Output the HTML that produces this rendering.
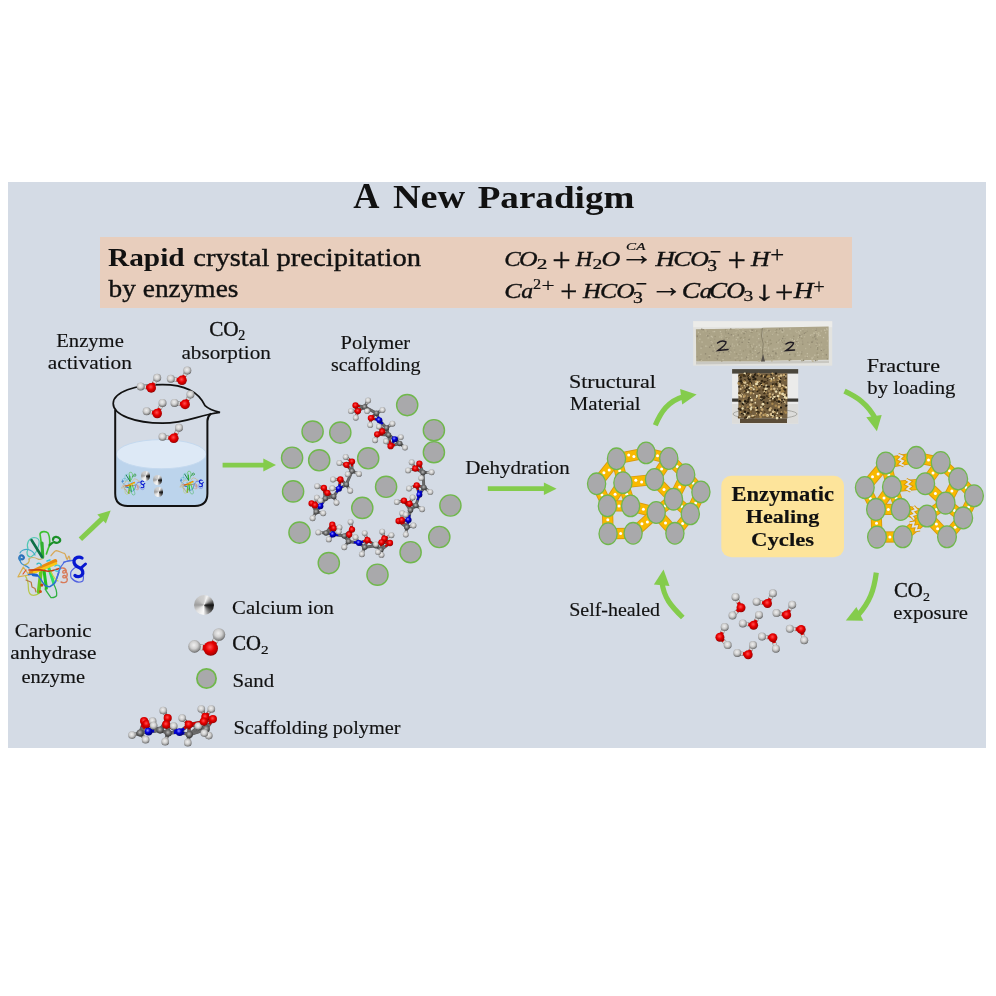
<!DOCTYPE html><html><head><meta charset="utf-8"><style>
html,body{margin:0;padding:0;background:#fff;width:996px;height:996px;overflow:hidden;position:relative}
svg{display:block;position:absolute;left:0;top:0;will-change:transform}
text{font-family:"Liberation Serif", serif;fill:#111}
.ca{position:absolute;border-radius:50%;background:conic-gradient(from 0deg,#d0d0d0 0deg,#f4f4f4 20deg,#9a9a9a 55deg,#121212 90deg,#3a3a3a 120deg,#8a8a8a 150deg,#fbfbfb 185deg,#e0e0e0 230deg,#9c9c9c 270deg,#c8c8c8 320deg,#d0d0d0 360deg)}
</style></head><body>
<svg width="996" height="996" viewBox="0 0 996 996">
<defs>
<radialGradient id="gH" cx="0.45" cy="0.4" r="0.6"><stop offset="0" stop-color="#f0f0f0"/><stop offset="0.5" stop-color="#cfcfcf"/><stop offset="0.86" stop-color="#8e8e8e"/><stop offset="1" stop-color="#5e5e5e"/></radialGradient>
<radialGradient id="gO" cx="0.45" cy="0.4" r="0.6"><stop offset="0" stop-color="#ff5050"/><stop offset="0.5" stop-color="#e80000"/><stop offset="0.88" stop-color="#b00000"/><stop offset="1" stop-color="#7a0000"/></radialGradient>
<radialGradient id="gC" cx="0.45" cy="0.4" r="0.6"><stop offset="0" stop-color="#b8b8b8"/><stop offset="0.55" stop-color="#6a6a6a"/><stop offset="1" stop-color="#303030"/></radialGradient>
<radialGradient id="gN" cx="0.38" cy="0.35" r="0.65"><stop offset="0" stop-color="#9090ff"/><stop offset="0.45" stop-color="#0000e0"/><stop offset="1" stop-color="#000070"/></radialGradient>
</defs>

<rect x="8" y="182" width="978" height="566" fill="#d4dbe5"/>
<rect x="100" y="237" width="752" height="71" fill="#e8cebd"/>
<line x1="222.6" y1="465.1" x2="264.3" y2="465.1" stroke="#84cc4c" stroke-width="4.6"/>
<polygon points="276.0,465.1 263.3,471.6 263.3,458.6" fill="#84cc4c"/>
<line x1="487.8" y1="488.7" x2="544.9" y2="488.7" stroke="#84cc4c" stroke-width="4.7"/>
<polygon points="556.6,488.7 543.9,494.9 543.9,482.4" fill="#84cc4c"/>
<line x1="80.4" y1="539.3" x2="102.4" y2="518.4" stroke="#84cc4c" stroke-width="5"/>
<polygon points="110.7,510.5 105.9,523.6 97.3,514.6" fill="#84cc4c"/>
<path d="M655.3,425.3 C661,412 668,401 684,396.5" fill="none" stroke="#84cc4c" stroke-width="5.2"/>
<polygon points="680.1,389.1 696.6,394.4 682.2,404.6" fill="#84cc4c"/>
<path d="M844.5,391.2 C857,397 868,404 875.5,419" fill="none" stroke="#84cc4c" stroke-width="5.2"/>
<polygon points="866.3,417.3 881.7,414.9 876.9,431.2" fill="#84cc4c"/>
<path d="M682.8,617.5 C671,606 664,598 662,582.5" fill="none" stroke="#84cc4c" stroke-width="5.2"/>
<polygon points="653.9,584.4 669.5,585.9 663.5,569.6" fill="#84cc4c"/>
<path d="M876.3,572.6 C874,590 870,602 857.7,615.5" fill="none" stroke="#84cc4c" stroke-width="5.2"/>
<polygon points="856.4,606.9 863.3,620.7 845.8,620.4" fill="#84cc4c"/>
<path d="M116.2,454 L116.2,494 Q116.2,505 127.2,505 L196.4,505 Q206.4,505 206.4,494 L206.4,454 Z" fill="#bcd4ec"/>
<ellipse cx="161.3" cy="454.2" rx="45" ry="14.6" fill="#dde9f6" stroke="#c4d9ef" stroke-width="1"/>
<path d="M115.2,410 L115.2,493.5 Q115.2,505.9 127.6,505.9 L195,505.9 Q207.4,505.9 207.4,493.5 L207.4,421 Q207.6,416.5 211,413.6" fill="none" stroke="#111" stroke-width="2"/>
<path d="M220,412.3 C212,410.5 208,408.5 205,405.7 C198,390 182,384.6 162.5,384.6 C135,384.6 113.2,392 113.2,403.5 C113.2,415 135,423.2 162.5,423.2 C187,423.2 198,415 220,412.3 Z" fill="none" stroke="#111" stroke-width="1.7" stroke-linejoin="miter"/>
<line x1="151.2" y1="387.9" x2="140.7" y2="386.4" stroke="#8a8a8a" stroke-width="4.26"/>
<line x1="151.2" y1="387.9" x2="157.2" y2="377.8" stroke="#8a8a8a" stroke-width="4.26"/>
<line x1="151.2" y1="387.9" x2="145.9" y2="387.1" stroke="#e00000" stroke-width="3.26"/>
<line x1="145.9" y1="387.1" x2="140.7" y2="386.4" stroke="#d8d8d8" stroke-width="3.26"/>
<line x1="151.2" y1="387.9" x2="154.2" y2="382.9" stroke="#e00000" stroke-width="3.26"/>
<line x1="154.2" y1="382.9" x2="157.2" y2="377.8" stroke="#d8d8d8" stroke-width="3.26"/>
<circle cx="140.7" cy="386.4" r="4.0" fill="url(#gH)"/>
<circle cx="157.2" cy="377.8" r="4.0" fill="url(#gH)"/>
<circle cx="151.2" cy="387.9" r="4.8" fill="url(#gO)"/>
<line x1="182.0" y1="380.3" x2="170.8" y2="378.8" stroke="#8a8a8a" stroke-width="4.26"/>
<line x1="182.0" y1="380.3" x2="187.3" y2="370.5" stroke="#8a8a8a" stroke-width="4.26"/>
<line x1="182.0" y1="380.3" x2="176.4" y2="379.6" stroke="#e00000" stroke-width="3.26"/>
<line x1="176.4" y1="379.6" x2="170.8" y2="378.8" stroke="#d8d8d8" stroke-width="3.26"/>
<line x1="182.0" y1="380.3" x2="184.7" y2="375.4" stroke="#e00000" stroke-width="3.26"/>
<line x1="184.7" y1="375.4" x2="187.3" y2="370.5" stroke="#d8d8d8" stroke-width="3.26"/>
<circle cx="170.8" cy="378.8" r="4.0" fill="url(#gH)"/>
<circle cx="187.3" cy="370.5" r="4.0" fill="url(#gH)"/>
<circle cx="182.0" cy="380.3" r="4.8" fill="url(#gO)"/>
<line x1="157.2" y1="413.5" x2="146.7" y2="411.2" stroke="#8a8a8a" stroke-width="4.26"/>
<line x1="157.2" y1="413.5" x2="162.5" y2="402.9" stroke="#8a8a8a" stroke-width="4.26"/>
<line x1="157.2" y1="413.5" x2="151.9" y2="412.4" stroke="#e00000" stroke-width="3.26"/>
<line x1="151.9" y1="412.4" x2="146.7" y2="411.2" stroke="#d8d8d8" stroke-width="3.26"/>
<line x1="157.2" y1="413.5" x2="159.8" y2="408.2" stroke="#e00000" stroke-width="3.26"/>
<line x1="159.8" y1="408.2" x2="162.5" y2="402.9" stroke="#d8d8d8" stroke-width="3.26"/>
<circle cx="146.7" cy="411.2" r="4.0" fill="url(#gH)"/>
<circle cx="162.5" cy="402.9" r="4.0" fill="url(#gH)"/>
<circle cx="157.2" cy="413.5" r="4.8" fill="url(#gO)"/>
<line x1="185.1" y1="404.4" x2="174.5" y2="402.9" stroke="#8a8a8a" stroke-width="4.26"/>
<line x1="185.1" y1="404.4" x2="190.4" y2="394.6" stroke="#8a8a8a" stroke-width="4.26"/>
<line x1="185.1" y1="404.4" x2="179.8" y2="403.6" stroke="#e00000" stroke-width="3.26"/>
<line x1="179.8" y1="403.6" x2="174.5" y2="402.9" stroke="#d8d8d8" stroke-width="3.26"/>
<line x1="185.1" y1="404.4" x2="187.8" y2="399.5" stroke="#e00000" stroke-width="3.26"/>
<line x1="187.8" y1="399.5" x2="190.4" y2="394.6" stroke="#d8d8d8" stroke-width="3.26"/>
<circle cx="174.5" cy="402.9" r="4.0" fill="url(#gH)"/>
<circle cx="190.4" cy="394.6" r="4.0" fill="url(#gH)"/>
<circle cx="185.1" cy="404.4" r="4.8" fill="url(#gO)"/>
<line x1="173.8" y1="438.3" x2="162.5" y2="436.8" stroke="#8a8a8a" stroke-width="4.26"/>
<line x1="173.8" y1="438.3" x2="179.0" y2="427.8" stroke="#8a8a8a" stroke-width="4.26"/>
<line x1="173.8" y1="438.3" x2="168.2" y2="437.6" stroke="#e00000" stroke-width="3.26"/>
<line x1="168.2" y1="437.6" x2="162.5" y2="436.8" stroke="#d8d8d8" stroke-width="3.26"/>
<line x1="173.8" y1="438.3" x2="176.4" y2="433.1" stroke="#e00000" stroke-width="3.26"/>
<line x1="176.4" y1="433.1" x2="179.0" y2="427.8" stroke="#d8d8d8" stroke-width="3.26"/>
<circle cx="162.5" cy="436.8" r="4.0" fill="url(#gH)"/>
<circle cx="179.0" cy="427.8" r="4.0" fill="url(#gH)"/>
<circle cx="173.8" cy="438.3" r="4.8" fill="url(#gO)"/>
<line x1="741.0" y1="607.7" x2="735.5" y2="596.9" stroke="#8a8a8a" stroke-width="4.06"/>
<line x1="741.0" y1="607.7" x2="732.5" y2="615.5" stroke="#8a8a8a" stroke-width="4.06"/>
<line x1="741.0" y1="607.7" x2="738.2" y2="602.3" stroke="#e00000" stroke-width="3.06"/>
<line x1="738.2" y1="602.3" x2="735.5" y2="596.9" stroke="#d8d8d8" stroke-width="3.06"/>
<line x1="741.0" y1="607.7" x2="736.8" y2="611.6" stroke="#e00000" stroke-width="3.06"/>
<line x1="736.8" y1="611.6" x2="732.5" y2="615.5" stroke="#d8d8d8" stroke-width="3.06"/>
<circle cx="735.5" cy="596.9" r="4.0" fill="url(#gH)"/>
<circle cx="732.5" cy="615.5" r="4.0" fill="url(#gH)"/>
<circle cx="741.0" cy="607.7" r="4.5" fill="url(#gO)"/>
<line x1="767.5" y1="603.5" x2="756.6" y2="601.7" stroke="#8a8a8a" stroke-width="4.06"/>
<line x1="767.5" y1="603.5" x2="772.9" y2="593.3" stroke="#8a8a8a" stroke-width="4.06"/>
<line x1="767.5" y1="603.5" x2="762.0" y2="602.6" stroke="#e00000" stroke-width="3.06"/>
<line x1="762.0" y1="602.6" x2="756.6" y2="601.7" stroke="#d8d8d8" stroke-width="3.06"/>
<line x1="767.5" y1="603.5" x2="770.2" y2="598.4" stroke="#e00000" stroke-width="3.06"/>
<line x1="770.2" y1="598.4" x2="772.9" y2="593.3" stroke="#d8d8d8" stroke-width="3.06"/>
<circle cx="756.6" cy="601.7" r="4.0" fill="url(#gH)"/>
<circle cx="772.9" cy="593.3" r="4.0" fill="url(#gH)"/>
<circle cx="767.5" cy="603.5" r="4.5" fill="url(#gO)"/>
<line x1="786.7" y1="614.9" x2="776.5" y2="613.1" stroke="#8a8a8a" stroke-width="4.06"/>
<line x1="786.7" y1="614.9" x2="792.2" y2="604.7" stroke="#8a8a8a" stroke-width="4.06"/>
<line x1="786.7" y1="614.9" x2="781.6" y2="614.0" stroke="#e00000" stroke-width="3.06"/>
<line x1="781.6" y1="614.0" x2="776.5" y2="613.1" stroke="#d8d8d8" stroke-width="3.06"/>
<line x1="786.7" y1="614.9" x2="789.5" y2="609.8" stroke="#e00000" stroke-width="3.06"/>
<line x1="789.5" y1="609.8" x2="792.2" y2="604.7" stroke="#d8d8d8" stroke-width="3.06"/>
<circle cx="776.5" cy="613.1" r="4.0" fill="url(#gH)"/>
<circle cx="792.2" cy="604.7" r="4.0" fill="url(#gH)"/>
<circle cx="786.7" cy="614.9" r="4.5" fill="url(#gO)"/>
<line x1="753.6" y1="625.2" x2="742.8" y2="623.4" stroke="#8a8a8a" stroke-width="4.06"/>
<line x1="753.6" y1="625.2" x2="759.0" y2="614.9" stroke="#8a8a8a" stroke-width="4.06"/>
<line x1="753.6" y1="625.2" x2="748.2" y2="624.3" stroke="#e00000" stroke-width="3.06"/>
<line x1="748.2" y1="624.3" x2="742.8" y2="623.4" stroke="#d8d8d8" stroke-width="3.06"/>
<line x1="753.6" y1="625.2" x2="756.3" y2="620.0" stroke="#e00000" stroke-width="3.06"/>
<line x1="756.3" y1="620.0" x2="759.0" y2="614.9" stroke="#d8d8d8" stroke-width="3.06"/>
<circle cx="742.8" cy="623.4" r="4.0" fill="url(#gH)"/>
<circle cx="759.0" cy="614.9" r="4.0" fill="url(#gH)"/>
<circle cx="753.6" cy="625.2" r="4.5" fill="url(#gO)"/>
<line x1="719.9" y1="637.2" x2="724.7" y2="627.0" stroke="#8a8a8a" stroke-width="4.06"/>
<line x1="719.9" y1="637.2" x2="727.7" y2="645.1" stroke="#8a8a8a" stroke-width="4.06"/>
<line x1="719.9" y1="637.2" x2="722.3" y2="632.1" stroke="#e00000" stroke-width="3.06"/>
<line x1="722.3" y1="632.1" x2="724.7" y2="627.0" stroke="#d8d8d8" stroke-width="3.06"/>
<line x1="719.9" y1="637.2" x2="723.8" y2="641.2" stroke="#e00000" stroke-width="3.06"/>
<line x1="723.8" y1="641.2" x2="727.7" y2="645.1" stroke="#d8d8d8" stroke-width="3.06"/>
<circle cx="724.7" cy="627.0" r="4.0" fill="url(#gH)"/>
<circle cx="727.7" cy="645.1" r="4.0" fill="url(#gH)"/>
<circle cx="719.9" cy="637.2" r="4.5" fill="url(#gO)"/>
<line x1="801.2" y1="629.4" x2="789.8" y2="628.8" stroke="#8a8a8a" stroke-width="4.06"/>
<line x1="801.2" y1="629.4" x2="804.2" y2="640.2" stroke="#8a8a8a" stroke-width="4.06"/>
<line x1="801.2" y1="629.4" x2="795.5" y2="629.1" stroke="#e00000" stroke-width="3.06"/>
<line x1="795.5" y1="629.1" x2="789.8" y2="628.8" stroke="#d8d8d8" stroke-width="3.06"/>
<line x1="801.2" y1="629.4" x2="802.7" y2="634.8" stroke="#e00000" stroke-width="3.06"/>
<line x1="802.7" y1="634.8" x2="804.2" y2="640.2" stroke="#d8d8d8" stroke-width="3.06"/>
<circle cx="789.8" cy="628.8" r="4.0" fill="url(#gH)"/>
<circle cx="804.2" cy="640.2" r="4.0" fill="url(#gH)"/>
<circle cx="801.2" cy="629.4" r="4.5" fill="url(#gO)"/>
<line x1="772.9" y1="637.8" x2="762.0" y2="636.6" stroke="#8a8a8a" stroke-width="4.06"/>
<line x1="772.9" y1="637.8" x2="775.9" y2="648.7" stroke="#8a8a8a" stroke-width="4.06"/>
<line x1="772.9" y1="637.8" x2="767.5" y2="637.2" stroke="#e00000" stroke-width="3.06"/>
<line x1="767.5" y1="637.2" x2="762.0" y2="636.6" stroke="#d8d8d8" stroke-width="3.06"/>
<line x1="772.9" y1="637.8" x2="774.4" y2="643.2" stroke="#e00000" stroke-width="3.06"/>
<line x1="774.4" y1="643.2" x2="775.9" y2="648.7" stroke="#d8d8d8" stroke-width="3.06"/>
<circle cx="762.0" cy="636.6" r="4.0" fill="url(#gH)"/>
<circle cx="775.9" cy="648.7" r="4.0" fill="url(#gH)"/>
<circle cx="772.9" cy="637.8" r="4.5" fill="url(#gO)"/>
<line x1="748.2" y1="654.7" x2="737.3" y2="652.9" stroke="#8a8a8a" stroke-width="4.06"/>
<line x1="748.2" y1="654.7" x2="753.0" y2="645.1" stroke="#8a8a8a" stroke-width="4.06"/>
<line x1="748.2" y1="654.7" x2="742.8" y2="653.8" stroke="#e00000" stroke-width="3.06"/>
<line x1="742.8" y1="653.8" x2="737.3" y2="652.9" stroke="#d8d8d8" stroke-width="3.06"/>
<line x1="748.2" y1="654.7" x2="750.6" y2="649.9" stroke="#e00000" stroke-width="3.06"/>
<line x1="750.6" y1="649.9" x2="753.0" y2="645.1" stroke="#d8d8d8" stroke-width="3.06"/>
<circle cx="737.3" cy="652.9" r="4.0" fill="url(#gH)"/>
<circle cx="753.0" cy="645.1" r="4.0" fill="url(#gH)"/>
<circle cx="748.2" cy="654.7" r="4.5" fill="url(#gO)"/>
<line x1="210.7" y1="648.5" x2="194.5" y2="646.4" stroke="#8a8a8a" stroke-width="5.96"/>
<line x1="210.7" y1="648.5" x2="218.9" y2="634.5" stroke="#8a8a8a" stroke-width="5.96"/>
<line x1="210.7" y1="648.5" x2="202.6" y2="647.5" stroke="#e00000" stroke-width="4.96"/>
<line x1="202.6" y1="647.5" x2="194.5" y2="646.4" stroke="#d8d8d8" stroke-width="4.96"/>
<line x1="210.7" y1="648.5" x2="214.8" y2="641.5" stroke="#e00000" stroke-width="4.96"/>
<line x1="214.8" y1="641.5" x2="218.9" y2="634.5" stroke="#d8d8d8" stroke-width="4.96"/>
<circle cx="194.5" cy="646.4" r="6.3" fill="url(#gH)"/>
<circle cx="218.9" cy="634.5" r="6.3" fill="url(#gH)"/>
<circle cx="210.7" cy="648.5" r="7.3" fill="url(#gO)"/>
<circle cx="407.2" cy="405.1" r="10.6" fill="#a9a9ab" stroke="#70b84c" stroke-width="1.4"/>
<circle cx="312.6" cy="431.6" r="10.6" fill="#a9a9ab" stroke="#70b84c" stroke-width="1.4"/>
<circle cx="340.3" cy="432.6" r="10.6" fill="#a9a9ab" stroke="#70b84c" stroke-width="1.4"/>
<circle cx="433.9" cy="430.2" r="10.6" fill="#a9a9ab" stroke="#70b84c" stroke-width="1.4"/>
<circle cx="292.1" cy="457.7" r="10.6" fill="#a9a9ab" stroke="#70b84c" stroke-width="1.4"/>
<circle cx="319.2" cy="460.3" r="10.6" fill="#a9a9ab" stroke="#70b84c" stroke-width="1.4"/>
<circle cx="368.2" cy="458.3" r="10.6" fill="#a9a9ab" stroke="#70b84c" stroke-width="1.4"/>
<circle cx="433.9" cy="452.2" r="10.6" fill="#a9a9ab" stroke="#70b84c" stroke-width="1.4"/>
<circle cx="293.1" cy="491.4" r="10.6" fill="#a9a9ab" stroke="#70b84c" stroke-width="1.4"/>
<circle cx="386.1" cy="486.8" r="10.6" fill="#a9a9ab" stroke="#70b84c" stroke-width="1.4"/>
<circle cx="362.3" cy="507.9" r="10.6" fill="#a9a9ab" stroke="#70b84c" stroke-width="1.4"/>
<circle cx="450.4" cy="505.5" r="10.6" fill="#a9a9ab" stroke="#70b84c" stroke-width="1.4"/>
<circle cx="299.5" cy="532.6" r="10.6" fill="#a9a9ab" stroke="#70b84c" stroke-width="1.4"/>
<circle cx="439.3" cy="537" r="10.6" fill="#a9a9ab" stroke="#70b84c" stroke-width="1.4"/>
<circle cx="410.6" cy="552.2" r="10.6" fill="#a9a9ab" stroke="#70b84c" stroke-width="1.4"/>
<circle cx="328.8" cy="563.1" r="10.6" fill="#a9a9ab" stroke="#70b84c" stroke-width="1.4"/>
<circle cx="377.5" cy="574.7" r="10.6" fill="#a9a9ab" stroke="#70b84c" stroke-width="1.4"/>
<circle cx="206.5" cy="678.5" r="9.6" fill="#a9a9ab" stroke="#70b84c" stroke-width="1.8"/>
<line x1="355.5" y1="405.5" x2="357.9" y2="411.1" stroke="#555" stroke-width="2.90"/>
<line x1="355.5" y1="405.5" x2="364.6" y2="406.9" stroke="#555" stroke-width="2.90"/>
<line x1="350.9" y1="411.1" x2="357.9" y2="411.1" stroke="#555" stroke-width="2.90"/>
<line x1="357.9" y1="411.1" x2="355.8" y2="417.8" stroke="#555" stroke-width="2.90"/>
<line x1="357.9" y1="411.1" x2="364.6" y2="406.9" stroke="#555" stroke-width="2.90"/>
<line x1="364.6" y1="406.9" x2="368.1" y2="400.5" stroke="#555" stroke-width="2.90"/>
<line x1="364.6" y1="406.9" x2="367.1" y2="411.1" stroke="#555" stroke-width="2.90"/>
<line x1="364.6" y1="406.9" x2="376.5" y2="413.2" stroke="#555" stroke-width="2.90"/>
<line x1="376.5" y1="413.2" x2="382.5" y2="410.0" stroke="#555" stroke-width="2.90"/>
<line x1="376.5" y1="413.2" x2="370.9" y2="418.1" stroke="#555" stroke-width="2.90"/>
<line x1="376.5" y1="413.2" x2="379.4" y2="420.2" stroke="#555" stroke-width="2.90"/>
<line x1="370.9" y1="418.1" x2="370.2" y2="425.1" stroke="#555" stroke-width="2.90"/>
<line x1="370.9" y1="418.1" x2="379.4" y2="420.2" stroke="#555" stroke-width="2.90"/>
<line x1="379.4" y1="420.2" x2="386.4" y2="427.9" stroke="#555" stroke-width="2.90"/>
<line x1="379.4" y1="420.2" x2="382.2" y2="431.5" stroke="#555" stroke-width="2.90"/>
<line x1="386.4" y1="427.9" x2="392.4" y2="423.7" stroke="#555" stroke-width="2.90"/>
<line x1="386.4" y1="427.9" x2="382.2" y2="431.5" stroke="#555" stroke-width="2.90"/>
<line x1="386.4" y1="427.9" x2="377.2" y2="434.3" stroke="#555" stroke-width="2.90"/>
<line x1="386.4" y1="427.9" x2="388.5" y2="435.0" stroke="#555" stroke-width="2.90"/>
<line x1="379.0" y1="426.5" x2="382.2" y2="431.5" stroke="#555" stroke-width="2.90"/>
<line x1="382.2" y1="431.5" x2="377.2" y2="434.3" stroke="#555" stroke-width="2.90"/>
<line x1="382.2" y1="431.5" x2="388.5" y2="435.0" stroke="#555" stroke-width="2.90"/>
<line x1="377.2" y1="434.3" x2="375.1" y2="440.2" stroke="#555" stroke-width="2.90"/>
<line x1="377.2" y1="434.3" x2="388.5" y2="435.0" stroke="#555" stroke-width="2.90"/>
<line x1="388.5" y1="435.0" x2="394.8" y2="439.2" stroke="#555" stroke-width="2.90"/>
<line x1="388.5" y1="435.0" x2="390.6" y2="446.2" stroke="#555" stroke-width="2.90"/>
<line x1="388.5" y1="435.0" x2="399.7" y2="443.4" stroke="#555" stroke-width="2.90"/>
<line x1="386.0" y1="441.3" x2="390.6" y2="446.2" stroke="#555" stroke-width="2.90"/>
<line x1="394.8" y1="439.2" x2="400.8" y2="437.1" stroke="#555" stroke-width="2.90"/>
<line x1="394.8" y1="439.2" x2="390.6" y2="446.2" stroke="#555" stroke-width="2.90"/>
<line x1="394.8" y1="439.2" x2="399.7" y2="443.4" stroke="#555" stroke-width="2.90"/>
<line x1="390.6" y1="446.2" x2="399.7" y2="443.4" stroke="#555" stroke-width="2.90"/>
<line x1="399.7" y1="443.4" x2="405.0" y2="447.6" stroke="#555" stroke-width="2.90"/>
<line x1="355.5" y1="405.5" x2="356.7" y2="408.3" stroke="#d00000" stroke-width="2.00"/>
<line x1="356.7" y1="408.3" x2="357.9" y2="411.1" stroke="#d00000" stroke-width="2.00"/>
<line x1="355.5" y1="405.5" x2="360.1" y2="406.2" stroke="#d00000" stroke-width="2.00"/>
<line x1="360.1" y1="406.2" x2="364.6" y2="406.9" stroke="#6a6a6a" stroke-width="2.00"/>
<line x1="350.9" y1="411.1" x2="354.4" y2="411.1" stroke="#d8d8d8" stroke-width="2.00"/>
<line x1="354.4" y1="411.1" x2="357.9" y2="411.1" stroke="#d00000" stroke-width="2.00"/>
<line x1="357.9" y1="411.1" x2="356.9" y2="414.5" stroke="#d00000" stroke-width="2.00"/>
<line x1="356.9" y1="414.5" x2="355.8" y2="417.8" stroke="#d8d8d8" stroke-width="2.00"/>
<line x1="357.9" y1="411.1" x2="361.2" y2="409.0" stroke="#d00000" stroke-width="2.00"/>
<line x1="361.2" y1="409.0" x2="364.6" y2="406.9" stroke="#6a6a6a" stroke-width="2.00"/>
<line x1="364.6" y1="406.9" x2="366.4" y2="403.7" stroke="#6a6a6a" stroke-width="2.00"/>
<line x1="366.4" y1="403.7" x2="368.1" y2="400.5" stroke="#d8d8d8" stroke-width="2.00"/>
<line x1="364.6" y1="406.9" x2="365.9" y2="409.0" stroke="#6a6a6a" stroke-width="2.00"/>
<line x1="365.9" y1="409.0" x2="367.1" y2="411.1" stroke="#d8d8d8" stroke-width="2.00"/>
<line x1="364.6" y1="406.9" x2="370.6" y2="410.0" stroke="#6a6a6a" stroke-width="2.00"/>
<line x1="370.6" y1="410.0" x2="376.5" y2="413.2" stroke="#6a6a6a" stroke-width="2.00"/>
<line x1="376.5" y1="413.2" x2="379.5" y2="411.6" stroke="#6a6a6a" stroke-width="2.00"/>
<line x1="379.5" y1="411.6" x2="382.5" y2="410.0" stroke="#d8d8d8" stroke-width="2.00"/>
<line x1="376.5" y1="413.2" x2="373.7" y2="415.6" stroke="#6a6a6a" stroke-width="2.00"/>
<line x1="373.7" y1="415.6" x2="370.9" y2="418.1" stroke="#d00000" stroke-width="2.00"/>
<line x1="376.5" y1="413.2" x2="377.9" y2="416.7" stroke="#6a6a6a" stroke-width="2.00"/>
<line x1="377.9" y1="416.7" x2="379.4" y2="420.2" stroke="#0000d0" stroke-width="2.00"/>
<line x1="370.9" y1="418.1" x2="370.5" y2="421.6" stroke="#d00000" stroke-width="2.00"/>
<line x1="370.5" y1="421.6" x2="370.2" y2="425.1" stroke="#d8d8d8" stroke-width="2.00"/>
<line x1="370.9" y1="418.1" x2="375.1" y2="419.1" stroke="#d00000" stroke-width="2.00"/>
<line x1="375.1" y1="419.1" x2="379.4" y2="420.2" stroke="#0000d0" stroke-width="2.00"/>
<line x1="379.4" y1="420.2" x2="382.9" y2="424.0" stroke="#0000d0" stroke-width="2.00"/>
<line x1="382.9" y1="424.0" x2="386.4" y2="427.9" stroke="#6a6a6a" stroke-width="2.00"/>
<line x1="379.4" y1="420.2" x2="380.8" y2="425.9" stroke="#0000d0" stroke-width="2.00"/>
<line x1="380.8" y1="425.9" x2="382.2" y2="431.5" stroke="#d00000" stroke-width="2.00"/>
<line x1="386.4" y1="427.9" x2="389.4" y2="425.8" stroke="#6a6a6a" stroke-width="2.00"/>
<line x1="389.4" y1="425.8" x2="392.4" y2="423.7" stroke="#d8d8d8" stroke-width="2.00"/>
<line x1="386.4" y1="427.9" x2="384.3" y2="429.7" stroke="#6a6a6a" stroke-width="2.00"/>
<line x1="384.3" y1="429.7" x2="382.2" y2="431.5" stroke="#d00000" stroke-width="2.00"/>
<line x1="386.4" y1="427.9" x2="381.8" y2="431.1" stroke="#6a6a6a" stroke-width="2.00"/>
<line x1="381.8" y1="431.1" x2="377.2" y2="434.3" stroke="#d00000" stroke-width="2.00"/>
<line x1="386.4" y1="427.9" x2="387.4" y2="431.4" stroke="#6a6a6a" stroke-width="2.00"/>
<line x1="387.4" y1="431.4" x2="388.5" y2="435.0" stroke="#6a6a6a" stroke-width="2.00"/>
<line x1="379.0" y1="426.5" x2="380.6" y2="429.0" stroke="#d8d8d8" stroke-width="2.00"/>
<line x1="380.6" y1="429.0" x2="382.2" y2="431.5" stroke="#d00000" stroke-width="2.00"/>
<line x1="382.2" y1="431.5" x2="379.7" y2="432.9" stroke="#d00000" stroke-width="2.00"/>
<line x1="379.7" y1="432.9" x2="377.2" y2="434.3" stroke="#d00000" stroke-width="2.00"/>
<line x1="382.2" y1="431.5" x2="385.4" y2="433.2" stroke="#d00000" stroke-width="2.00"/>
<line x1="385.4" y1="433.2" x2="388.5" y2="435.0" stroke="#6a6a6a" stroke-width="2.00"/>
<line x1="377.2" y1="434.3" x2="376.1" y2="437.2" stroke="#d00000" stroke-width="2.00"/>
<line x1="376.1" y1="437.2" x2="375.1" y2="440.2" stroke="#d8d8d8" stroke-width="2.00"/>
<line x1="377.2" y1="434.3" x2="382.9" y2="434.6" stroke="#d00000" stroke-width="2.00"/>
<line x1="382.9" y1="434.6" x2="388.5" y2="435.0" stroke="#6a6a6a" stroke-width="2.00"/>
<line x1="388.5" y1="435.0" x2="391.6" y2="437.1" stroke="#6a6a6a" stroke-width="2.00"/>
<line x1="391.6" y1="437.1" x2="394.8" y2="439.2" stroke="#0000d0" stroke-width="2.00"/>
<line x1="388.5" y1="435.0" x2="389.6" y2="440.6" stroke="#6a6a6a" stroke-width="2.00"/>
<line x1="389.6" y1="440.6" x2="390.6" y2="446.2" stroke="#d00000" stroke-width="2.00"/>
<line x1="388.5" y1="435.0" x2="394.1" y2="439.2" stroke="#6a6a6a" stroke-width="2.00"/>
<line x1="394.1" y1="439.2" x2="399.7" y2="443.4" stroke="#6a6a6a" stroke-width="2.00"/>
<line x1="386.0" y1="441.3" x2="388.3" y2="443.8" stroke="#d8d8d8" stroke-width="2.00"/>
<line x1="388.3" y1="443.8" x2="390.6" y2="446.2" stroke="#d00000" stroke-width="2.00"/>
<line x1="394.8" y1="439.2" x2="397.8" y2="438.1" stroke="#0000d0" stroke-width="2.00"/>
<line x1="397.8" y1="438.1" x2="400.8" y2="437.1" stroke="#d8d8d8" stroke-width="2.00"/>
<line x1="394.8" y1="439.2" x2="392.7" y2="442.7" stroke="#0000d0" stroke-width="2.00"/>
<line x1="392.7" y1="442.7" x2="390.6" y2="446.2" stroke="#d00000" stroke-width="2.00"/>
<line x1="394.8" y1="439.2" x2="397.2" y2="441.3" stroke="#0000d0" stroke-width="2.00"/>
<line x1="397.2" y1="441.3" x2="399.7" y2="443.4" stroke="#6a6a6a" stroke-width="2.00"/>
<line x1="390.6" y1="446.2" x2="395.1" y2="444.8" stroke="#d00000" stroke-width="2.00"/>
<line x1="395.1" y1="444.8" x2="399.7" y2="443.4" stroke="#6a6a6a" stroke-width="2.00"/>
<line x1="399.7" y1="443.4" x2="402.4" y2="445.5" stroke="#6a6a6a" stroke-width="2.00"/>
<line x1="402.4" y1="445.5" x2="405.0" y2="447.6" stroke="#d8d8d8" stroke-width="2.00"/>
<circle cx="355.5" cy="405.5" r="3.15" fill="url(#gO)"/>
<circle cx="350.9" cy="411.1" r="2.95" fill="url(#gH)"/>
<circle cx="357.9" cy="411.1" r="3.15" fill="url(#gO)"/>
<circle cx="355.8" cy="417.8" r="2.95" fill="url(#gH)"/>
<circle cx="364.6" cy="406.9" r="2.75" fill="url(#gC)"/>
<circle cx="368.1" cy="400.5" r="2.95" fill="url(#gH)"/>
<circle cx="367.1" cy="411.1" r="2.95" fill="url(#gH)"/>
<circle cx="376.5" cy="413.2" r="2.75" fill="url(#gC)"/>
<circle cx="382.5" cy="410.0" r="2.95" fill="url(#gH)"/>
<circle cx="370.9" cy="418.1" r="3.15" fill="url(#gO)"/>
<circle cx="370.2" cy="425.1" r="2.95" fill="url(#gH)"/>
<circle cx="379.4" cy="420.2" r="3.00" fill="url(#gN)"/>
<circle cx="386.4" cy="427.9" r="2.75" fill="url(#gC)"/>
<circle cx="392.4" cy="423.7" r="2.95" fill="url(#gH)"/>
<circle cx="379.0" cy="426.5" r="2.95" fill="url(#gH)"/>
<circle cx="382.2" cy="431.5" r="3.15" fill="url(#gO)"/>
<circle cx="377.2" cy="434.3" r="3.15" fill="url(#gO)"/>
<circle cx="375.1" cy="440.2" r="2.95" fill="url(#gH)"/>
<circle cx="388.5" cy="435.0" r="2.75" fill="url(#gC)"/>
<circle cx="386.0" cy="441.3" r="2.95" fill="url(#gH)"/>
<circle cx="394.8" cy="439.2" r="3.00" fill="url(#gN)"/>
<circle cx="400.8" cy="437.1" r="2.95" fill="url(#gH)"/>
<circle cx="390.6" cy="446.2" r="3.15" fill="url(#gO)"/>
<circle cx="399.7" cy="443.4" r="2.75" fill="url(#gC)"/>
<circle cx="405.0" cy="447.6" r="2.95" fill="url(#gH)"/>
<line x1="345.7" y1="457.0" x2="352.0" y2="461.6" stroke="#555" stroke-width="2.90"/>
<line x1="352.0" y1="461.6" x2="346.4" y2="464.8" stroke="#555" stroke-width="2.90"/>
<line x1="352.0" y1="461.6" x2="352.0" y2="471.1" stroke="#555" stroke-width="2.90"/>
<line x1="346.4" y1="464.8" x2="339.4" y2="463.0" stroke="#555" stroke-width="2.90"/>
<line x1="346.4" y1="464.8" x2="352.0" y2="471.1" stroke="#555" stroke-width="2.90"/>
<line x1="352.0" y1="471.1" x2="359.0" y2="473.9" stroke="#555" stroke-width="2.90"/>
<line x1="352.0" y1="471.1" x2="347.8" y2="474.2" stroke="#555" stroke-width="2.90"/>
<line x1="352.0" y1="471.1" x2="346.4" y2="484.4" stroke="#555" stroke-width="2.90"/>
<line x1="340.4" y1="479.5" x2="333.0" y2="479.5" stroke="#555" stroke-width="2.90"/>
<line x1="340.4" y1="479.5" x2="346.4" y2="484.4" stroke="#555" stroke-width="2.90"/>
<line x1="340.4" y1="479.5" x2="339.0" y2="488.7" stroke="#555" stroke-width="2.90"/>
<line x1="346.4" y1="484.4" x2="350.2" y2="490.8" stroke="#555" stroke-width="2.90"/>
<line x1="346.4" y1="484.4" x2="339.0" y2="488.7" stroke="#555" stroke-width="2.90"/>
<line x1="339.0" y1="488.7" x2="332.3" y2="488.3" stroke="#555" stroke-width="2.90"/>
<line x1="339.0" y1="488.7" x2="333.7" y2="496.4" stroke="#555" stroke-width="2.90"/>
<line x1="333.7" y1="496.4" x2="336.5" y2="502.7" stroke="#555" stroke-width="2.90"/>
<line x1="333.7" y1="496.4" x2="327.4" y2="492.9" stroke="#555" stroke-width="2.90"/>
<line x1="333.7" y1="496.4" x2="325.3" y2="498.5" stroke="#555" stroke-width="2.90"/>
<line x1="323.9" y1="488.0" x2="327.4" y2="492.9" stroke="#555" stroke-width="2.90"/>
<line x1="323.9" y1="488.0" x2="317.2" y2="486.2" stroke="#555" stroke-width="2.90"/>
<line x1="323.9" y1="488.0" x2="325.3" y2="498.5" stroke="#555" stroke-width="2.90"/>
<line x1="327.4" y1="492.9" x2="325.3" y2="498.5" stroke="#555" stroke-width="2.90"/>
<line x1="325.3" y1="498.5" x2="320.4" y2="500.6" stroke="#555" stroke-width="2.90"/>
<line x1="325.3" y1="498.5" x2="320.4" y2="506.2" stroke="#555" stroke-width="2.90"/>
<line x1="316.9" y1="497.8" x2="315.1" y2="505.2" stroke="#555" stroke-width="2.90"/>
<line x1="320.4" y1="506.2" x2="311.6" y2="503.4" stroke="#555" stroke-width="2.90"/>
<line x1="320.4" y1="506.2" x2="315.1" y2="505.2" stroke="#555" stroke-width="2.90"/>
<line x1="320.4" y1="506.2" x2="316.2" y2="511.8" stroke="#555" stroke-width="2.90"/>
<line x1="311.6" y1="503.4" x2="315.1" y2="505.2" stroke="#555" stroke-width="2.90"/>
<line x1="311.6" y1="503.4" x2="316.2" y2="511.8" stroke="#555" stroke-width="2.90"/>
<line x1="315.1" y1="505.2" x2="316.2" y2="511.8" stroke="#555" stroke-width="2.90"/>
<line x1="323.2" y1="513.2" x2="316.2" y2="511.8" stroke="#555" stroke-width="2.90"/>
<line x1="316.2" y1="511.8" x2="312.6" y2="518.2" stroke="#555" stroke-width="2.90"/>
<line x1="345.7" y1="457.0" x2="348.9" y2="459.3" stroke="#d8d8d8" stroke-width="2.00"/>
<line x1="348.9" y1="459.3" x2="352.0" y2="461.6" stroke="#d00000" stroke-width="2.00"/>
<line x1="352.0" y1="461.6" x2="349.2" y2="463.2" stroke="#d00000" stroke-width="2.00"/>
<line x1="349.2" y1="463.2" x2="346.4" y2="464.8" stroke="#d00000" stroke-width="2.00"/>
<line x1="352.0" y1="461.6" x2="352.0" y2="466.4" stroke="#d00000" stroke-width="2.00"/>
<line x1="352.0" y1="466.4" x2="352.0" y2="471.1" stroke="#6a6a6a" stroke-width="2.00"/>
<line x1="346.4" y1="464.8" x2="342.9" y2="463.9" stroke="#d00000" stroke-width="2.00"/>
<line x1="342.9" y1="463.9" x2="339.4" y2="463.0" stroke="#d8d8d8" stroke-width="2.00"/>
<line x1="346.4" y1="464.8" x2="349.2" y2="468.0" stroke="#d00000" stroke-width="2.00"/>
<line x1="349.2" y1="468.0" x2="352.0" y2="471.1" stroke="#6a6a6a" stroke-width="2.00"/>
<line x1="352.0" y1="471.1" x2="355.5" y2="472.5" stroke="#6a6a6a" stroke-width="2.00"/>
<line x1="355.5" y1="472.5" x2="359.0" y2="473.9" stroke="#d8d8d8" stroke-width="2.00"/>
<line x1="352.0" y1="471.1" x2="349.9" y2="472.6" stroke="#6a6a6a" stroke-width="2.00"/>
<line x1="349.9" y1="472.6" x2="347.8" y2="474.2" stroke="#d8d8d8" stroke-width="2.00"/>
<line x1="352.0" y1="471.1" x2="349.2" y2="477.8" stroke="#6a6a6a" stroke-width="2.00"/>
<line x1="349.2" y1="477.8" x2="346.4" y2="484.4" stroke="#6a6a6a" stroke-width="2.00"/>
<line x1="340.4" y1="479.5" x2="336.7" y2="479.5" stroke="#d00000" stroke-width="2.00"/>
<line x1="336.7" y1="479.5" x2="333.0" y2="479.5" stroke="#d8d8d8" stroke-width="2.00"/>
<line x1="340.4" y1="479.5" x2="343.4" y2="481.9" stroke="#d00000" stroke-width="2.00"/>
<line x1="343.4" y1="481.9" x2="346.4" y2="484.4" stroke="#6a6a6a" stroke-width="2.00"/>
<line x1="340.4" y1="479.5" x2="339.7" y2="484.1" stroke="#d00000" stroke-width="2.00"/>
<line x1="339.7" y1="484.1" x2="339.0" y2="488.7" stroke="#0000d0" stroke-width="2.00"/>
<line x1="346.4" y1="484.4" x2="348.3" y2="487.6" stroke="#6a6a6a" stroke-width="2.00"/>
<line x1="348.3" y1="487.6" x2="350.2" y2="490.8" stroke="#d8d8d8" stroke-width="2.00"/>
<line x1="346.4" y1="484.4" x2="342.7" y2="486.5" stroke="#6a6a6a" stroke-width="2.00"/>
<line x1="342.7" y1="486.5" x2="339.0" y2="488.7" stroke="#0000d0" stroke-width="2.00"/>
<line x1="339.0" y1="488.7" x2="335.6" y2="488.5" stroke="#0000d0" stroke-width="2.00"/>
<line x1="335.6" y1="488.5" x2="332.3" y2="488.3" stroke="#d8d8d8" stroke-width="2.00"/>
<line x1="339.0" y1="488.7" x2="336.4" y2="492.5" stroke="#0000d0" stroke-width="2.00"/>
<line x1="336.4" y1="492.5" x2="333.7" y2="496.4" stroke="#6a6a6a" stroke-width="2.00"/>
<line x1="333.7" y1="496.4" x2="335.1" y2="499.5" stroke="#6a6a6a" stroke-width="2.00"/>
<line x1="335.1" y1="499.5" x2="336.5" y2="502.7" stroke="#d8d8d8" stroke-width="2.00"/>
<line x1="333.7" y1="496.4" x2="330.5" y2="494.6" stroke="#6a6a6a" stroke-width="2.00"/>
<line x1="330.5" y1="494.6" x2="327.4" y2="492.9" stroke="#d00000" stroke-width="2.00"/>
<line x1="333.7" y1="496.4" x2="329.5" y2="497.4" stroke="#6a6a6a" stroke-width="2.00"/>
<line x1="329.5" y1="497.4" x2="325.3" y2="498.5" stroke="#6a6a6a" stroke-width="2.00"/>
<line x1="323.9" y1="488.0" x2="325.6" y2="490.4" stroke="#d00000" stroke-width="2.00"/>
<line x1="325.6" y1="490.4" x2="327.4" y2="492.9" stroke="#d00000" stroke-width="2.00"/>
<line x1="323.9" y1="488.0" x2="320.5" y2="487.1" stroke="#d00000" stroke-width="2.00"/>
<line x1="320.5" y1="487.1" x2="317.2" y2="486.2" stroke="#d8d8d8" stroke-width="2.00"/>
<line x1="323.9" y1="488.0" x2="324.6" y2="493.2" stroke="#d00000" stroke-width="2.00"/>
<line x1="324.6" y1="493.2" x2="325.3" y2="498.5" stroke="#6a6a6a" stroke-width="2.00"/>
<line x1="327.4" y1="492.9" x2="326.4" y2="495.7" stroke="#d00000" stroke-width="2.00"/>
<line x1="326.4" y1="495.7" x2="325.3" y2="498.5" stroke="#6a6a6a" stroke-width="2.00"/>
<line x1="325.3" y1="498.5" x2="322.9" y2="499.6" stroke="#6a6a6a" stroke-width="2.00"/>
<line x1="322.9" y1="499.6" x2="320.4" y2="500.6" stroke="#d8d8d8" stroke-width="2.00"/>
<line x1="325.3" y1="498.5" x2="322.9" y2="502.4" stroke="#6a6a6a" stroke-width="2.00"/>
<line x1="322.9" y1="502.4" x2="320.4" y2="506.2" stroke="#0000d0" stroke-width="2.00"/>
<line x1="316.9" y1="497.8" x2="316.0" y2="501.5" stroke="#d8d8d8" stroke-width="2.00"/>
<line x1="316.0" y1="501.5" x2="315.1" y2="505.2" stroke="#d00000" stroke-width="2.00"/>
<line x1="320.4" y1="506.2" x2="316.0" y2="504.8" stroke="#0000d0" stroke-width="2.00"/>
<line x1="316.0" y1="504.8" x2="311.6" y2="503.4" stroke="#d00000" stroke-width="2.00"/>
<line x1="320.4" y1="506.2" x2="317.8" y2="505.7" stroke="#0000d0" stroke-width="2.00"/>
<line x1="317.8" y1="505.7" x2="315.1" y2="505.2" stroke="#d00000" stroke-width="2.00"/>
<line x1="320.4" y1="506.2" x2="318.3" y2="509.0" stroke="#0000d0" stroke-width="2.00"/>
<line x1="318.3" y1="509.0" x2="316.2" y2="511.8" stroke="#6a6a6a" stroke-width="2.00"/>
<line x1="311.6" y1="503.4" x2="313.4" y2="504.3" stroke="#d00000" stroke-width="2.00"/>
<line x1="313.4" y1="504.3" x2="315.1" y2="505.2" stroke="#d00000" stroke-width="2.00"/>
<line x1="311.6" y1="503.4" x2="313.9" y2="507.6" stroke="#d00000" stroke-width="2.00"/>
<line x1="313.9" y1="507.6" x2="316.2" y2="511.8" stroke="#6a6a6a" stroke-width="2.00"/>
<line x1="315.1" y1="505.2" x2="315.6" y2="508.5" stroke="#d00000" stroke-width="2.00"/>
<line x1="315.6" y1="508.5" x2="316.2" y2="511.8" stroke="#6a6a6a" stroke-width="2.00"/>
<line x1="323.2" y1="513.2" x2="319.7" y2="512.5" stroke="#d8d8d8" stroke-width="2.00"/>
<line x1="319.7" y1="512.5" x2="316.2" y2="511.8" stroke="#6a6a6a" stroke-width="2.00"/>
<line x1="316.2" y1="511.8" x2="314.4" y2="515.0" stroke="#6a6a6a" stroke-width="2.00"/>
<line x1="314.4" y1="515.0" x2="312.6" y2="518.2" stroke="#d8d8d8" stroke-width="2.00"/>
<circle cx="345.7" cy="457.0" r="2.95" fill="url(#gH)"/>
<circle cx="352.0" cy="461.6" r="3.15" fill="url(#gO)"/>
<circle cx="346.4" cy="464.8" r="3.15" fill="url(#gO)"/>
<circle cx="339.4" cy="463.0" r="2.95" fill="url(#gH)"/>
<circle cx="352.0" cy="471.1" r="2.75" fill="url(#gC)"/>
<circle cx="359.0" cy="473.9" r="2.95" fill="url(#gH)"/>
<circle cx="347.8" cy="474.2" r="2.95" fill="url(#gH)"/>
<circle cx="340.4" cy="479.5" r="3.15" fill="url(#gO)"/>
<circle cx="333.0" cy="479.5" r="2.95" fill="url(#gH)"/>
<circle cx="346.4" cy="484.4" r="2.75" fill="url(#gC)"/>
<circle cx="350.2" cy="490.8" r="2.95" fill="url(#gH)"/>
<circle cx="339.0" cy="488.7" r="3.00" fill="url(#gN)"/>
<circle cx="332.3" cy="488.3" r="2.95" fill="url(#gH)"/>
<circle cx="333.7" cy="496.4" r="2.75" fill="url(#gC)"/>
<circle cx="336.5" cy="502.7" r="2.95" fill="url(#gH)"/>
<circle cx="323.9" cy="488.0" r="3.15" fill="url(#gO)"/>
<circle cx="327.4" cy="492.9" r="3.15" fill="url(#gO)"/>
<circle cx="317.2" cy="486.2" r="2.95" fill="url(#gH)"/>
<circle cx="325.3" cy="498.5" r="2.75" fill="url(#gC)"/>
<circle cx="316.9" cy="497.8" r="2.95" fill="url(#gH)"/>
<circle cx="320.4" cy="500.6" r="2.95" fill="url(#gH)"/>
<circle cx="320.4" cy="506.2" r="3.00" fill="url(#gN)"/>
<circle cx="311.6" cy="503.4" r="3.15" fill="url(#gO)"/>
<circle cx="315.1" cy="505.2" r="3.15" fill="url(#gO)"/>
<circle cx="323.2" cy="513.2" r="2.95" fill="url(#gH)"/>
<circle cx="316.2" cy="511.8" r="2.75" fill="url(#gC)"/>
<circle cx="312.6" cy="518.2" r="2.95" fill="url(#gH)"/>
<line x1="411.7" y1="462.2" x2="415.3" y2="468.6" stroke="#555" stroke-width="2.90"/>
<line x1="419.4" y1="463.6" x2="415.3" y2="468.6" stroke="#555" stroke-width="2.90"/>
<line x1="419.4" y1="463.6" x2="423.0" y2="472.6" stroke="#555" stroke-width="2.90"/>
<line x1="415.3" y1="468.6" x2="408.1" y2="470.4" stroke="#555" stroke-width="2.90"/>
<line x1="415.3" y1="468.6" x2="423.0" y2="472.6" stroke="#555" stroke-width="2.90"/>
<line x1="423.0" y1="472.6" x2="431.6" y2="472.2" stroke="#555" stroke-width="2.90"/>
<line x1="423.0" y1="472.6" x2="421.2" y2="478.1" stroke="#555" stroke-width="2.90"/>
<line x1="423.0" y1="472.6" x2="423.9" y2="487.5" stroke="#555" stroke-width="2.90"/>
<line x1="423.9" y1="487.5" x2="416.7" y2="485.3" stroke="#555" stroke-width="2.90"/>
<line x1="423.9" y1="487.5" x2="430.3" y2="492.1" stroke="#555" stroke-width="2.90"/>
<line x1="423.9" y1="487.5" x2="419.4" y2="494.8" stroke="#555" stroke-width="2.90"/>
<line x1="416.7" y1="485.3" x2="409.0" y2="488.5" stroke="#555" stroke-width="2.90"/>
<line x1="416.7" y1="485.3" x2="419.4" y2="494.8" stroke="#555" stroke-width="2.90"/>
<line x1="419.4" y1="494.8" x2="415.8" y2="505.6" stroke="#555" stroke-width="2.90"/>
<line x1="415.8" y1="505.6" x2="422.1" y2="509.2" stroke="#555" stroke-width="2.90"/>
<line x1="415.8" y1="505.6" x2="409.5" y2="503.8" stroke="#555" stroke-width="2.90"/>
<line x1="415.8" y1="505.6" x2="410.4" y2="510.2" stroke="#555" stroke-width="2.90"/>
<line x1="412.6" y1="497.5" x2="409.5" y2="503.8" stroke="#555" stroke-width="2.90"/>
<line x1="404.0" y1="500.7" x2="409.5" y2="503.8" stroke="#555" stroke-width="2.90"/>
<line x1="404.0" y1="500.7" x2="396.8" y2="502.0" stroke="#555" stroke-width="2.90"/>
<line x1="404.0" y1="500.7" x2="410.4" y2="510.2" stroke="#555" stroke-width="2.90"/>
<line x1="409.5" y1="503.8" x2="410.4" y2="510.2" stroke="#555" stroke-width="2.90"/>
<line x1="410.4" y1="510.2" x2="408.6" y2="520.1" stroke="#555" stroke-width="2.90"/>
<line x1="402.2" y1="513.3" x2="401.8" y2="520.1" stroke="#555" stroke-width="2.90"/>
<line x1="405.8" y1="514.7" x2="408.6" y2="520.1" stroke="#555" stroke-width="2.90"/>
<line x1="408.6" y1="520.1" x2="398.6" y2="521.0" stroke="#555" stroke-width="2.90"/>
<line x1="408.6" y1="520.1" x2="401.8" y2="520.1" stroke="#555" stroke-width="2.90"/>
<line x1="408.6" y1="520.1" x2="406.8" y2="527.3" stroke="#555" stroke-width="2.90"/>
<line x1="398.6" y1="521.0" x2="401.8" y2="520.1" stroke="#555" stroke-width="2.90"/>
<line x1="398.6" y1="521.0" x2="406.8" y2="527.3" stroke="#555" stroke-width="2.90"/>
<line x1="401.8" y1="520.1" x2="406.8" y2="527.3" stroke="#555" stroke-width="2.90"/>
<line x1="413.5" y1="525.5" x2="406.8" y2="527.3" stroke="#555" stroke-width="2.90"/>
<line x1="406.8" y1="527.3" x2="405.8" y2="534.6" stroke="#555" stroke-width="2.90"/>
<line x1="411.7" y1="462.2" x2="413.5" y2="465.4" stroke="#d8d8d8" stroke-width="2.00"/>
<line x1="413.5" y1="465.4" x2="415.3" y2="468.6" stroke="#d00000" stroke-width="2.00"/>
<line x1="419.4" y1="463.6" x2="417.4" y2="466.1" stroke="#d00000" stroke-width="2.00"/>
<line x1="417.4" y1="466.1" x2="415.3" y2="468.6" stroke="#d00000" stroke-width="2.00"/>
<line x1="419.4" y1="463.6" x2="421.2" y2="468.1" stroke="#d00000" stroke-width="2.00"/>
<line x1="421.2" y1="468.1" x2="423.0" y2="472.6" stroke="#6a6a6a" stroke-width="2.00"/>
<line x1="415.3" y1="468.6" x2="411.7" y2="469.5" stroke="#d00000" stroke-width="2.00"/>
<line x1="411.7" y1="469.5" x2="408.1" y2="470.4" stroke="#d8d8d8" stroke-width="2.00"/>
<line x1="415.3" y1="468.6" x2="419.1" y2="470.6" stroke="#d00000" stroke-width="2.00"/>
<line x1="419.1" y1="470.6" x2="423.0" y2="472.6" stroke="#6a6a6a" stroke-width="2.00"/>
<line x1="423.0" y1="472.6" x2="427.3" y2="472.4" stroke="#6a6a6a" stroke-width="2.00"/>
<line x1="427.3" y1="472.4" x2="431.6" y2="472.2" stroke="#d8d8d8" stroke-width="2.00"/>
<line x1="423.0" y1="472.6" x2="422.1" y2="475.4" stroke="#6a6a6a" stroke-width="2.00"/>
<line x1="422.1" y1="475.4" x2="421.2" y2="478.1" stroke="#d8d8d8" stroke-width="2.00"/>
<line x1="423.0" y1="472.6" x2="423.4" y2="480.1" stroke="#6a6a6a" stroke-width="2.00"/>
<line x1="423.4" y1="480.1" x2="423.9" y2="487.5" stroke="#6a6a6a" stroke-width="2.00"/>
<line x1="423.9" y1="487.5" x2="420.3" y2="486.4" stroke="#6a6a6a" stroke-width="2.00"/>
<line x1="420.3" y1="486.4" x2="416.7" y2="485.3" stroke="#d00000" stroke-width="2.00"/>
<line x1="423.9" y1="487.5" x2="427.1" y2="489.8" stroke="#6a6a6a" stroke-width="2.00"/>
<line x1="427.1" y1="489.8" x2="430.3" y2="492.1" stroke="#d8d8d8" stroke-width="2.00"/>
<line x1="423.9" y1="487.5" x2="421.6" y2="491.1" stroke="#6a6a6a" stroke-width="2.00"/>
<line x1="421.6" y1="491.1" x2="419.4" y2="494.8" stroke="#0000d0" stroke-width="2.00"/>
<line x1="416.7" y1="485.3" x2="412.9" y2="486.9" stroke="#d00000" stroke-width="2.00"/>
<line x1="412.9" y1="486.9" x2="409.0" y2="488.5" stroke="#d8d8d8" stroke-width="2.00"/>
<line x1="416.7" y1="485.3" x2="418.0" y2="490.1" stroke="#d00000" stroke-width="2.00"/>
<line x1="418.0" y1="490.1" x2="419.4" y2="494.8" stroke="#0000d0" stroke-width="2.00"/>
<line x1="419.4" y1="494.8" x2="417.6" y2="500.2" stroke="#0000d0" stroke-width="2.00"/>
<line x1="417.6" y1="500.2" x2="415.8" y2="505.6" stroke="#6a6a6a" stroke-width="2.00"/>
<line x1="415.8" y1="505.6" x2="419.0" y2="507.4" stroke="#6a6a6a" stroke-width="2.00"/>
<line x1="419.0" y1="507.4" x2="422.1" y2="509.2" stroke="#d8d8d8" stroke-width="2.00"/>
<line x1="415.8" y1="505.6" x2="412.6" y2="504.7" stroke="#6a6a6a" stroke-width="2.00"/>
<line x1="412.6" y1="504.7" x2="409.5" y2="503.8" stroke="#d00000" stroke-width="2.00"/>
<line x1="415.8" y1="505.6" x2="413.1" y2="507.9" stroke="#6a6a6a" stroke-width="2.00"/>
<line x1="413.1" y1="507.9" x2="410.4" y2="510.2" stroke="#6a6a6a" stroke-width="2.00"/>
<line x1="412.6" y1="497.5" x2="411.1" y2="500.6" stroke="#d8d8d8" stroke-width="2.00"/>
<line x1="411.1" y1="500.6" x2="409.5" y2="503.8" stroke="#d00000" stroke-width="2.00"/>
<line x1="404.0" y1="500.7" x2="406.8" y2="502.2" stroke="#d00000" stroke-width="2.00"/>
<line x1="406.8" y1="502.2" x2="409.5" y2="503.8" stroke="#d00000" stroke-width="2.00"/>
<line x1="404.0" y1="500.7" x2="400.4" y2="501.4" stroke="#d00000" stroke-width="2.00"/>
<line x1="400.4" y1="501.4" x2="396.8" y2="502.0" stroke="#d8d8d8" stroke-width="2.00"/>
<line x1="404.0" y1="500.7" x2="407.2" y2="505.4" stroke="#d00000" stroke-width="2.00"/>
<line x1="407.2" y1="505.4" x2="410.4" y2="510.2" stroke="#6a6a6a" stroke-width="2.00"/>
<line x1="409.5" y1="503.8" x2="409.9" y2="507.0" stroke="#d00000" stroke-width="2.00"/>
<line x1="409.9" y1="507.0" x2="410.4" y2="510.2" stroke="#6a6a6a" stroke-width="2.00"/>
<line x1="410.4" y1="510.2" x2="409.5" y2="515.1" stroke="#6a6a6a" stroke-width="2.00"/>
<line x1="409.5" y1="515.1" x2="408.6" y2="520.1" stroke="#0000d0" stroke-width="2.00"/>
<line x1="402.2" y1="513.3" x2="402.0" y2="516.7" stroke="#d8d8d8" stroke-width="2.00"/>
<line x1="402.0" y1="516.7" x2="401.8" y2="520.1" stroke="#d00000" stroke-width="2.00"/>
<line x1="405.8" y1="514.7" x2="407.2" y2="517.4" stroke="#d8d8d8" stroke-width="2.00"/>
<line x1="407.2" y1="517.4" x2="408.6" y2="520.1" stroke="#0000d0" stroke-width="2.00"/>
<line x1="408.6" y1="520.1" x2="403.6" y2="520.5" stroke="#0000d0" stroke-width="2.00"/>
<line x1="403.6" y1="520.5" x2="398.6" y2="521.0" stroke="#d00000" stroke-width="2.00"/>
<line x1="408.6" y1="520.1" x2="405.2" y2="520.1" stroke="#0000d0" stroke-width="2.00"/>
<line x1="405.2" y1="520.1" x2="401.8" y2="520.1" stroke="#d00000" stroke-width="2.00"/>
<line x1="408.6" y1="520.1" x2="407.7" y2="523.7" stroke="#0000d0" stroke-width="2.00"/>
<line x1="407.7" y1="523.7" x2="406.8" y2="527.3" stroke="#6a6a6a" stroke-width="2.00"/>
<line x1="398.6" y1="521.0" x2="400.2" y2="520.5" stroke="#d00000" stroke-width="2.00"/>
<line x1="400.2" y1="520.5" x2="401.8" y2="520.1" stroke="#d00000" stroke-width="2.00"/>
<line x1="398.6" y1="521.0" x2="402.7" y2="524.1" stroke="#d00000" stroke-width="2.00"/>
<line x1="402.7" y1="524.1" x2="406.8" y2="527.3" stroke="#6a6a6a" stroke-width="2.00"/>
<line x1="401.8" y1="520.1" x2="404.3" y2="523.7" stroke="#d00000" stroke-width="2.00"/>
<line x1="404.3" y1="523.7" x2="406.8" y2="527.3" stroke="#6a6a6a" stroke-width="2.00"/>
<line x1="413.5" y1="525.5" x2="410.1" y2="526.4" stroke="#d8d8d8" stroke-width="2.00"/>
<line x1="410.1" y1="526.4" x2="406.8" y2="527.3" stroke="#6a6a6a" stroke-width="2.00"/>
<line x1="406.8" y1="527.3" x2="406.3" y2="531.0" stroke="#6a6a6a" stroke-width="2.00"/>
<line x1="406.3" y1="531.0" x2="405.8" y2="534.6" stroke="#d8d8d8" stroke-width="2.00"/>
<circle cx="411.7" cy="462.2" r="2.95" fill="url(#gH)"/>
<circle cx="419.4" cy="463.6" r="3.15" fill="url(#gO)"/>
<circle cx="415.3" cy="468.6" r="3.15" fill="url(#gO)"/>
<circle cx="408.1" cy="470.4" r="2.95" fill="url(#gH)"/>
<circle cx="423.0" cy="472.6" r="2.75" fill="url(#gC)"/>
<circle cx="431.6" cy="472.2" r="2.95" fill="url(#gH)"/>
<circle cx="421.2" cy="478.1" r="2.95" fill="url(#gH)"/>
<circle cx="423.9" cy="487.5" r="2.75" fill="url(#gC)"/>
<circle cx="416.7" cy="485.3" r="3.15" fill="url(#gO)"/>
<circle cx="409.0" cy="488.5" r="2.95" fill="url(#gH)"/>
<circle cx="430.3" cy="492.1" r="2.95" fill="url(#gH)"/>
<circle cx="419.4" cy="494.8" r="3.00" fill="url(#gN)"/>
<circle cx="415.8" cy="505.6" r="2.75" fill="url(#gC)"/>
<circle cx="412.6" cy="497.5" r="2.95" fill="url(#gH)"/>
<circle cx="422.1" cy="509.2" r="2.95" fill="url(#gH)"/>
<circle cx="404.0" cy="500.7" r="3.15" fill="url(#gO)"/>
<circle cx="409.5" cy="503.8" r="3.15" fill="url(#gO)"/>
<circle cx="396.8" cy="502.0" r="2.95" fill="url(#gH)"/>
<circle cx="410.4" cy="510.2" r="2.75" fill="url(#gC)"/>
<circle cx="402.2" cy="513.3" r="2.95" fill="url(#gH)"/>
<circle cx="405.8" cy="514.7" r="2.95" fill="url(#gH)"/>
<circle cx="408.6" cy="520.1" r="3.00" fill="url(#gN)"/>
<circle cx="398.6" cy="521.0" r="3.15" fill="url(#gO)"/>
<circle cx="401.8" cy="520.1" r="3.15" fill="url(#gO)"/>
<circle cx="413.5" cy="525.5" r="2.95" fill="url(#gH)"/>
<circle cx="406.8" cy="527.3" r="2.75" fill="url(#gC)"/>
<circle cx="405.8" cy="534.6" r="2.95" fill="url(#gH)"/>
<line x1="318.3" y1="532.4" x2="326.0" y2="533.1" stroke="#555" stroke-width="2.90"/>
<line x1="326.0" y1="533.1" x2="332.3" y2="524.7" stroke="#555" stroke-width="2.90"/>
<line x1="326.0" y1="533.1" x2="333.7" y2="528.2" stroke="#555" stroke-width="2.90"/>
<line x1="326.0" y1="533.1" x2="333.0" y2="534.5" stroke="#555" stroke-width="2.90"/>
<line x1="328.8" y1="539.4" x2="333.0" y2="534.5" stroke="#555" stroke-width="2.90"/>
<line x1="332.3" y1="524.7" x2="333.7" y2="528.2" stroke="#555" stroke-width="2.90"/>
<line x1="332.3" y1="524.7" x2="333.0" y2="534.5" stroke="#555" stroke-width="2.90"/>
<line x1="333.7" y1="528.2" x2="333.0" y2="534.5" stroke="#555" stroke-width="2.90"/>
<line x1="333.7" y1="528.2" x2="339.4" y2="527.5" stroke="#555" stroke-width="2.90"/>
<line x1="333.7" y1="528.2" x2="338.7" y2="531.7" stroke="#555" stroke-width="2.90"/>
<line x1="333.0" y1="534.5" x2="344.3" y2="535.9" stroke="#555" stroke-width="2.90"/>
<line x1="344.3" y1="535.9" x2="349.2" y2="534.5" stroke="#555" stroke-width="2.90"/>
<line x1="344.3" y1="535.9" x2="352.0" y2="529.6" stroke="#555" stroke-width="2.90"/>
<line x1="344.3" y1="535.9" x2="348.5" y2="541.5" stroke="#555" stroke-width="2.90"/>
<line x1="344.3" y1="547.2" x2="348.5" y2="541.5" stroke="#555" stroke-width="2.90"/>
<line x1="349.2" y1="534.5" x2="352.0" y2="529.6" stroke="#555" stroke-width="2.90"/>
<line x1="349.2" y1="534.5" x2="348.5" y2="541.5" stroke="#555" stroke-width="2.90"/>
<line x1="352.0" y1="529.6" x2="350.6" y2="521.9" stroke="#555" stroke-width="2.90"/>
<line x1="348.5" y1="541.5" x2="359.0" y2="543.0" stroke="#555" stroke-width="2.90"/>
<line x1="355.5" y1="537.3" x2="359.0" y2="543.0" stroke="#555" stroke-width="2.90"/>
<line x1="359.0" y1="543.0" x2="364.7" y2="547.2" stroke="#555" stroke-width="2.90"/>
<line x1="359.0" y1="543.0" x2="367.5" y2="540.1" stroke="#555" stroke-width="2.90"/>
<line x1="364.7" y1="547.2" x2="361.9" y2="554.2" stroke="#555" stroke-width="2.90"/>
<line x1="364.7" y1="547.2" x2="367.5" y2="540.1" stroke="#555" stroke-width="2.90"/>
<line x1="364.7" y1="547.2" x2="375.9" y2="545.8" stroke="#555" stroke-width="2.90"/>
<line x1="367.5" y1="540.1" x2="364.7" y2="533.1" stroke="#555" stroke-width="2.90"/>
<line x1="367.5" y1="540.1" x2="375.9" y2="545.8" stroke="#555" stroke-width="2.90"/>
<line x1="375.9" y1="545.8" x2="375.9" y2="544.4" stroke="#555" stroke-width="2.90"/>
<line x1="375.9" y1="545.8" x2="380.8" y2="550.0" stroke="#555" stroke-width="2.90"/>
<line x1="375.9" y1="545.8" x2="384.3" y2="538.7" stroke="#555" stroke-width="2.90"/>
<line x1="375.9" y1="545.8" x2="381.5" y2="542.3" stroke="#555" stroke-width="2.90"/>
<line x1="380.8" y1="550.0" x2="381.5" y2="554.9" stroke="#555" stroke-width="2.90"/>
<line x1="380.8" y1="550.0" x2="378.0" y2="552.1" stroke="#555" stroke-width="2.90"/>
<line x1="380.8" y1="550.0" x2="384.3" y2="538.7" stroke="#555" stroke-width="2.90"/>
<line x1="380.8" y1="550.0" x2="390.0" y2="543.0" stroke="#555" stroke-width="2.90"/>
<line x1="380.8" y1="550.0" x2="381.5" y2="542.3" stroke="#555" stroke-width="2.90"/>
<line x1="384.3" y1="538.7" x2="382.2" y2="531.7" stroke="#555" stroke-width="2.90"/>
<line x1="384.3" y1="538.7" x2="390.0" y2="543.0" stroke="#555" stroke-width="2.90"/>
<line x1="384.3" y1="538.7" x2="381.5" y2="542.3" stroke="#555" stroke-width="2.90"/>
<line x1="384.3" y1="538.7" x2="391.4" y2="535.2" stroke="#555" stroke-width="2.90"/>
<line x1="390.0" y1="543.0" x2="381.5" y2="542.3" stroke="#555" stroke-width="2.90"/>
<line x1="318.3" y1="532.4" x2="322.1" y2="532.8" stroke="#d8d8d8" stroke-width="2.00"/>
<line x1="322.1" y1="532.8" x2="326.0" y2="533.1" stroke="#6a6a6a" stroke-width="2.00"/>
<line x1="326.0" y1="533.1" x2="329.1" y2="528.9" stroke="#6a6a6a" stroke-width="2.00"/>
<line x1="329.1" y1="528.9" x2="332.3" y2="524.7" stroke="#d00000" stroke-width="2.00"/>
<line x1="326.0" y1="533.1" x2="329.9" y2="530.7" stroke="#6a6a6a" stroke-width="2.00"/>
<line x1="329.9" y1="530.7" x2="333.7" y2="528.2" stroke="#d00000" stroke-width="2.00"/>
<line x1="326.0" y1="533.1" x2="329.5" y2="533.8" stroke="#6a6a6a" stroke-width="2.00"/>
<line x1="329.5" y1="533.8" x2="333.0" y2="534.5" stroke="#0000d0" stroke-width="2.00"/>
<line x1="328.8" y1="539.4" x2="330.9" y2="537.0" stroke="#d8d8d8" stroke-width="2.00"/>
<line x1="330.9" y1="537.0" x2="333.0" y2="534.5" stroke="#0000d0" stroke-width="2.00"/>
<line x1="332.3" y1="524.7" x2="333.0" y2="526.5" stroke="#d00000" stroke-width="2.00"/>
<line x1="333.0" y1="526.5" x2="333.7" y2="528.2" stroke="#d00000" stroke-width="2.00"/>
<line x1="332.3" y1="524.7" x2="332.6" y2="529.6" stroke="#d00000" stroke-width="2.00"/>
<line x1="332.6" y1="529.6" x2="333.0" y2="534.5" stroke="#0000d0" stroke-width="2.00"/>
<line x1="333.7" y1="528.2" x2="333.4" y2="531.4" stroke="#d00000" stroke-width="2.00"/>
<line x1="333.4" y1="531.4" x2="333.0" y2="534.5" stroke="#0000d0" stroke-width="2.00"/>
<line x1="333.7" y1="528.2" x2="336.5" y2="527.9" stroke="#d00000" stroke-width="2.00"/>
<line x1="336.5" y1="527.9" x2="339.4" y2="527.5" stroke="#d8d8d8" stroke-width="2.00"/>
<line x1="333.7" y1="528.2" x2="336.2" y2="530.0" stroke="#d00000" stroke-width="2.00"/>
<line x1="336.2" y1="530.0" x2="338.7" y2="531.7" stroke="#d8d8d8" stroke-width="2.00"/>
<line x1="333.0" y1="534.5" x2="338.6" y2="535.2" stroke="#0000d0" stroke-width="2.00"/>
<line x1="338.6" y1="535.2" x2="344.3" y2="535.9" stroke="#6a6a6a" stroke-width="2.00"/>
<line x1="344.3" y1="535.9" x2="346.8" y2="535.2" stroke="#6a6a6a" stroke-width="2.00"/>
<line x1="346.8" y1="535.2" x2="349.2" y2="534.5" stroke="#d00000" stroke-width="2.00"/>
<line x1="344.3" y1="535.9" x2="348.1" y2="532.8" stroke="#6a6a6a" stroke-width="2.00"/>
<line x1="348.1" y1="532.8" x2="352.0" y2="529.6" stroke="#d00000" stroke-width="2.00"/>
<line x1="344.3" y1="535.9" x2="346.4" y2="538.7" stroke="#6a6a6a" stroke-width="2.00"/>
<line x1="346.4" y1="538.7" x2="348.5" y2="541.5" stroke="#6a6a6a" stroke-width="2.00"/>
<line x1="344.3" y1="547.2" x2="346.4" y2="544.4" stroke="#d8d8d8" stroke-width="2.00"/>
<line x1="346.4" y1="544.4" x2="348.5" y2="541.5" stroke="#6a6a6a" stroke-width="2.00"/>
<line x1="349.2" y1="534.5" x2="350.6" y2="532.0" stroke="#d00000" stroke-width="2.00"/>
<line x1="350.6" y1="532.0" x2="352.0" y2="529.6" stroke="#d00000" stroke-width="2.00"/>
<line x1="349.2" y1="534.5" x2="348.9" y2="538.0" stroke="#d00000" stroke-width="2.00"/>
<line x1="348.9" y1="538.0" x2="348.5" y2="541.5" stroke="#6a6a6a" stroke-width="2.00"/>
<line x1="352.0" y1="529.6" x2="351.3" y2="525.8" stroke="#d00000" stroke-width="2.00"/>
<line x1="351.3" y1="525.8" x2="350.6" y2="521.9" stroke="#d8d8d8" stroke-width="2.00"/>
<line x1="348.5" y1="541.5" x2="353.8" y2="542.2" stroke="#6a6a6a" stroke-width="2.00"/>
<line x1="353.8" y1="542.2" x2="359.0" y2="543.0" stroke="#0000d0" stroke-width="2.00"/>
<line x1="355.5" y1="537.3" x2="357.2" y2="540.1" stroke="#d8d8d8" stroke-width="2.00"/>
<line x1="357.2" y1="540.1" x2="359.0" y2="543.0" stroke="#0000d0" stroke-width="2.00"/>
<line x1="359.0" y1="543.0" x2="361.9" y2="545.1" stroke="#0000d0" stroke-width="2.00"/>
<line x1="361.9" y1="545.1" x2="364.7" y2="547.2" stroke="#6a6a6a" stroke-width="2.00"/>
<line x1="359.0" y1="543.0" x2="363.2" y2="541.5" stroke="#0000d0" stroke-width="2.00"/>
<line x1="363.2" y1="541.5" x2="367.5" y2="540.1" stroke="#d00000" stroke-width="2.00"/>
<line x1="364.7" y1="547.2" x2="363.3" y2="550.7" stroke="#6a6a6a" stroke-width="2.00"/>
<line x1="363.3" y1="550.7" x2="361.9" y2="554.2" stroke="#d8d8d8" stroke-width="2.00"/>
<line x1="364.7" y1="547.2" x2="366.1" y2="543.7" stroke="#6a6a6a" stroke-width="2.00"/>
<line x1="366.1" y1="543.7" x2="367.5" y2="540.1" stroke="#d00000" stroke-width="2.00"/>
<line x1="364.7" y1="547.2" x2="370.3" y2="546.5" stroke="#6a6a6a" stroke-width="2.00"/>
<line x1="370.3" y1="546.5" x2="375.9" y2="545.8" stroke="#6a6a6a" stroke-width="2.00"/>
<line x1="367.5" y1="540.1" x2="366.1" y2="536.6" stroke="#d00000" stroke-width="2.00"/>
<line x1="366.1" y1="536.6" x2="364.7" y2="533.1" stroke="#d8d8d8" stroke-width="2.00"/>
<line x1="367.5" y1="540.1" x2="371.7" y2="543.0" stroke="#d00000" stroke-width="2.00"/>
<line x1="371.7" y1="543.0" x2="375.9" y2="545.8" stroke="#6a6a6a" stroke-width="2.00"/>
<line x1="375.9" y1="545.8" x2="375.9" y2="545.1" stroke="#6a6a6a" stroke-width="2.00"/>
<line x1="375.9" y1="545.1" x2="375.9" y2="544.4" stroke="#d8d8d8" stroke-width="2.00"/>
<line x1="375.9" y1="545.8" x2="378.4" y2="547.9" stroke="#6a6a6a" stroke-width="2.00"/>
<line x1="378.4" y1="547.9" x2="380.8" y2="550.0" stroke="#6a6a6a" stroke-width="2.00"/>
<line x1="375.9" y1="545.8" x2="380.1" y2="542.2" stroke="#6a6a6a" stroke-width="2.00"/>
<line x1="380.1" y1="542.2" x2="384.3" y2="538.7" stroke="#d00000" stroke-width="2.00"/>
<line x1="375.9" y1="545.8" x2="378.7" y2="544.0" stroke="#6a6a6a" stroke-width="2.00"/>
<line x1="378.7" y1="544.0" x2="381.5" y2="542.3" stroke="#d00000" stroke-width="2.00"/>
<line x1="380.8" y1="550.0" x2="381.1" y2="552.5" stroke="#6a6a6a" stroke-width="2.00"/>
<line x1="381.1" y1="552.5" x2="381.5" y2="554.9" stroke="#d8d8d8" stroke-width="2.00"/>
<line x1="380.8" y1="550.0" x2="379.4" y2="551.0" stroke="#6a6a6a" stroke-width="2.00"/>
<line x1="379.4" y1="551.0" x2="378.0" y2="552.1" stroke="#d8d8d8" stroke-width="2.00"/>
<line x1="380.8" y1="550.0" x2="382.6" y2="544.4" stroke="#6a6a6a" stroke-width="2.00"/>
<line x1="382.6" y1="544.4" x2="384.3" y2="538.7" stroke="#d00000" stroke-width="2.00"/>
<line x1="380.8" y1="550.0" x2="385.4" y2="546.5" stroke="#6a6a6a" stroke-width="2.00"/>
<line x1="385.4" y1="546.5" x2="390.0" y2="543.0" stroke="#d00000" stroke-width="2.00"/>
<line x1="380.8" y1="550.0" x2="381.1" y2="546.1" stroke="#6a6a6a" stroke-width="2.00"/>
<line x1="381.1" y1="546.1" x2="381.5" y2="542.3" stroke="#d00000" stroke-width="2.00"/>
<line x1="384.3" y1="538.7" x2="383.2" y2="535.2" stroke="#d00000" stroke-width="2.00"/>
<line x1="383.2" y1="535.2" x2="382.2" y2="531.7" stroke="#d8d8d8" stroke-width="2.00"/>
<line x1="384.3" y1="538.7" x2="387.1" y2="540.9" stroke="#d00000" stroke-width="2.00"/>
<line x1="387.1" y1="540.9" x2="390.0" y2="543.0" stroke="#d00000" stroke-width="2.00"/>
<line x1="384.3" y1="538.7" x2="382.9" y2="540.5" stroke="#d00000" stroke-width="2.00"/>
<line x1="382.9" y1="540.5" x2="381.5" y2="542.3" stroke="#d00000" stroke-width="2.00"/>
<line x1="384.3" y1="538.7" x2="387.9" y2="537.0" stroke="#d00000" stroke-width="2.00"/>
<line x1="387.9" y1="537.0" x2="391.4" y2="535.2" stroke="#d8d8d8" stroke-width="2.00"/>
<line x1="390.0" y1="543.0" x2="385.8" y2="542.6" stroke="#d00000" stroke-width="2.00"/>
<line x1="385.8" y1="542.6" x2="381.5" y2="542.3" stroke="#d00000" stroke-width="2.00"/>
<circle cx="318.3" cy="532.4" r="2.95" fill="url(#gH)"/>
<circle cx="326.0" cy="533.1" r="2.75" fill="url(#gC)"/>
<circle cx="328.8" cy="539.4" r="2.95" fill="url(#gH)"/>
<circle cx="332.3" cy="524.7" r="3.15" fill="url(#gO)"/>
<circle cx="333.7" cy="528.2" r="3.15" fill="url(#gO)"/>
<circle cx="333.0" cy="534.5" r="3.00" fill="url(#gN)"/>
<circle cx="339.4" cy="527.5" r="2.95" fill="url(#gH)"/>
<circle cx="338.7" cy="531.7" r="2.95" fill="url(#gH)"/>
<circle cx="344.3" cy="535.9" r="2.75" fill="url(#gC)"/>
<circle cx="344.3" cy="547.2" r="2.95" fill="url(#gH)"/>
<circle cx="349.2" cy="534.5" r="3.15" fill="url(#gO)"/>
<circle cx="352.0" cy="529.6" r="3.15" fill="url(#gO)"/>
<circle cx="350.6" cy="521.9" r="2.95" fill="url(#gH)"/>
<circle cx="348.5" cy="541.5" r="2.75" fill="url(#gC)"/>
<circle cx="355.5" cy="537.3" r="2.95" fill="url(#gH)"/>
<circle cx="359.0" cy="543.0" r="3.00" fill="url(#gN)"/>
<circle cx="364.7" cy="547.2" r="2.75" fill="url(#gC)"/>
<circle cx="361.9" cy="554.2" r="2.95" fill="url(#gH)"/>
<circle cx="367.5" cy="540.1" r="3.15" fill="url(#gO)"/>
<circle cx="364.7" cy="533.1" r="2.95" fill="url(#gH)"/>
<circle cx="375.9" cy="545.8" r="2.75" fill="url(#gC)"/>
<circle cx="375.9" cy="544.4" r="2.95" fill="url(#gH)"/>
<circle cx="380.8" cy="550.0" r="2.75" fill="url(#gC)"/>
<circle cx="381.5" cy="554.9" r="2.95" fill="url(#gH)"/>
<circle cx="378.0" cy="552.1" r="2.95" fill="url(#gH)"/>
<circle cx="384.3" cy="538.7" r="3.15" fill="url(#gO)"/>
<circle cx="382.2" cy="531.7" r="2.95" fill="url(#gH)"/>
<circle cx="390.0" cy="543.0" r="3.15" fill="url(#gO)"/>
<circle cx="381.5" cy="542.3" r="3.15" fill="url(#gO)"/>
<circle cx="391.4" cy="535.2" r="2.95" fill="url(#gH)"/>
<line x1="132.0" y1="735.1" x2="140.1" y2="733.1" stroke="#555" stroke-width="3.50"/>
<line x1="140.1" y1="733.1" x2="145.6" y2="739.7" stroke="#555" stroke-width="3.50"/>
<line x1="140.1" y1="733.1" x2="144.1" y2="721.1" stroke="#555" stroke-width="3.50"/>
<line x1="140.1" y1="733.1" x2="146.6" y2="724.1" stroke="#555" stroke-width="3.50"/>
<line x1="140.1" y1="733.1" x2="148.6" y2="731.6" stroke="#555" stroke-width="3.50"/>
<line x1="140.1" y1="733.1" x2="160.1" y2="730.1" stroke="#555" stroke-width="3.50"/>
<line x1="144.1" y1="721.1" x2="146.6" y2="724.1" stroke="#555" stroke-width="3.50"/>
<line x1="144.1" y1="721.1" x2="148.6" y2="731.6" stroke="#555" stroke-width="3.50"/>
<line x1="146.6" y1="724.1" x2="148.6" y2="731.6" stroke="#555" stroke-width="3.50"/>
<line x1="146.6" y1="724.1" x2="152.6" y2="721.1" stroke="#555" stroke-width="3.50"/>
<line x1="146.6" y1="724.1" x2="153.6" y2="725.6" stroke="#555" stroke-width="3.50"/>
<line x1="146.6" y1="724.1" x2="160.1" y2="730.1" stroke="#555" stroke-width="3.50"/>
<line x1="148.6" y1="731.6" x2="160.1" y2="730.1" stroke="#555" stroke-width="3.50"/>
<line x1="160.1" y1="730.1" x2="167.7" y2="718.1" stroke="#555" stroke-width="3.50"/>
<line x1="160.1" y1="730.1" x2="166.2" y2="724.6" stroke="#555" stroke-width="3.50"/>
<line x1="160.1" y1="730.1" x2="168.2" y2="733.1" stroke="#555" stroke-width="3.50"/>
<line x1="163.2" y1="710.5" x2="167.7" y2="718.1" stroke="#555" stroke-width="3.50"/>
<line x1="167.7" y1="718.1" x2="166.2" y2="724.6" stroke="#555" stroke-width="3.50"/>
<line x1="167.7" y1="718.1" x2="168.2" y2="733.1" stroke="#555" stroke-width="3.50"/>
<line x1="166.2" y1="724.6" x2="173.7" y2="726.1" stroke="#555" stroke-width="3.50"/>
<line x1="166.2" y1="724.6" x2="168.2" y2="733.1" stroke="#555" stroke-width="3.50"/>
<line x1="166.2" y1="724.6" x2="179.7" y2="732.1" stroke="#555" stroke-width="3.50"/>
<line x1="168.2" y1="733.1" x2="165.2" y2="741.7" stroke="#555" stroke-width="3.50"/>
<line x1="168.2" y1="733.1" x2="179.7" y2="732.1" stroke="#555" stroke-width="3.50"/>
<line x1="179.7" y1="732.1" x2="188.8" y2="724.6" stroke="#555" stroke-width="3.50"/>
<line x1="179.7" y1="732.1" x2="189.3" y2="734.6" stroke="#555" stroke-width="3.50"/>
<line x1="182.2" y1="718.1" x2="188.8" y2="724.6" stroke="#555" stroke-width="3.50"/>
<line x1="188.8" y1="724.6" x2="189.3" y2="734.6" stroke="#555" stroke-width="3.50"/>
<line x1="188.8" y1="724.6" x2="198.8" y2="726.6" stroke="#555" stroke-width="3.50"/>
<line x1="188.8" y1="724.6" x2="203.8" y2="721.6" stroke="#555" stroke-width="3.50"/>
<line x1="189.3" y1="734.6" x2="187.8" y2="742.7" stroke="#555" stroke-width="3.50"/>
<line x1="189.3" y1="734.6" x2="198.8" y2="726.6" stroke="#555" stroke-width="3.50"/>
<line x1="189.3" y1="734.6" x2="206.3" y2="729.1" stroke="#555" stroke-width="3.50"/>
<line x1="198.8" y1="726.6" x2="198.3" y2="726.1" stroke="#555" stroke-width="3.50"/>
<line x1="198.8" y1="726.6" x2="206.3" y2="729.1" stroke="#555" stroke-width="3.50"/>
<line x1="198.8" y1="726.6" x2="205.3" y2="717.1" stroke="#555" stroke-width="3.50"/>
<line x1="198.8" y1="726.6" x2="203.8" y2="721.6" stroke="#555" stroke-width="3.50"/>
<line x1="206.3" y1="729.1" x2="208.8" y2="735.6" stroke="#555" stroke-width="3.50"/>
<line x1="206.3" y1="729.1" x2="204.3" y2="733.1" stroke="#555" stroke-width="3.50"/>
<line x1="206.3" y1="729.1" x2="205.3" y2="717.1" stroke="#555" stroke-width="3.50"/>
<line x1="206.3" y1="729.1" x2="212.9" y2="719.1" stroke="#555" stroke-width="3.50"/>
<line x1="206.3" y1="729.1" x2="203.8" y2="721.6" stroke="#555" stroke-width="3.50"/>
<line x1="205.3" y1="717.1" x2="201.3" y2="709.0" stroke="#555" stroke-width="3.50"/>
<line x1="205.3" y1="717.1" x2="212.9" y2="719.1" stroke="#555" stroke-width="3.50"/>
<line x1="205.3" y1="717.1" x2="211.3" y2="709.0" stroke="#555" stroke-width="3.50"/>
<line x1="205.3" y1="717.1" x2="203.8" y2="721.6" stroke="#555" stroke-width="3.50"/>
<line x1="212.9" y1="719.1" x2="203.8" y2="721.6" stroke="#555" stroke-width="3.50"/>
<line x1="132.0" y1="735.1" x2="136.1" y2="734.1" stroke="#d8d8d8" stroke-width="2.60"/>
<line x1="136.1" y1="734.1" x2="140.1" y2="733.1" stroke="#6a6a6a" stroke-width="2.60"/>
<line x1="140.1" y1="733.1" x2="142.8" y2="736.4" stroke="#6a6a6a" stroke-width="2.60"/>
<line x1="142.8" y1="736.4" x2="145.6" y2="739.7" stroke="#d8d8d8" stroke-width="2.60"/>
<line x1="140.1" y1="733.1" x2="142.1" y2="727.1" stroke="#6a6a6a" stroke-width="2.60"/>
<line x1="142.1" y1="727.1" x2="144.1" y2="721.1" stroke="#d00000" stroke-width="2.60"/>
<line x1="140.1" y1="733.1" x2="143.3" y2="728.6" stroke="#6a6a6a" stroke-width="2.60"/>
<line x1="143.3" y1="728.6" x2="146.6" y2="724.1" stroke="#d00000" stroke-width="2.60"/>
<line x1="140.1" y1="733.1" x2="144.3" y2="732.4" stroke="#6a6a6a" stroke-width="2.60"/>
<line x1="144.3" y1="732.4" x2="148.6" y2="731.6" stroke="#0000d0" stroke-width="2.60"/>
<line x1="140.1" y1="733.1" x2="150.1" y2="731.6" stroke="#6a6a6a" stroke-width="2.60"/>
<line x1="150.1" y1="731.6" x2="160.1" y2="730.1" stroke="#6a6a6a" stroke-width="2.60"/>
<line x1="144.1" y1="721.1" x2="145.3" y2="722.6" stroke="#d00000" stroke-width="2.60"/>
<line x1="145.3" y1="722.6" x2="146.6" y2="724.1" stroke="#d00000" stroke-width="2.60"/>
<line x1="144.1" y1="721.1" x2="146.3" y2="726.4" stroke="#d00000" stroke-width="2.60"/>
<line x1="146.3" y1="726.4" x2="148.6" y2="731.6" stroke="#0000d0" stroke-width="2.60"/>
<line x1="146.6" y1="724.1" x2="147.6" y2="727.9" stroke="#d00000" stroke-width="2.60"/>
<line x1="147.6" y1="727.9" x2="148.6" y2="731.6" stroke="#0000d0" stroke-width="2.60"/>
<line x1="146.6" y1="724.1" x2="149.6" y2="722.6" stroke="#d00000" stroke-width="2.60"/>
<line x1="149.6" y1="722.6" x2="152.6" y2="721.1" stroke="#d8d8d8" stroke-width="2.60"/>
<line x1="146.6" y1="724.1" x2="150.1" y2="724.9" stroke="#d00000" stroke-width="2.60"/>
<line x1="150.1" y1="724.9" x2="153.6" y2="725.6" stroke="#d8d8d8" stroke-width="2.60"/>
<line x1="146.6" y1="724.1" x2="153.3" y2="727.1" stroke="#d00000" stroke-width="2.60"/>
<line x1="153.3" y1="727.1" x2="160.1" y2="730.1" stroke="#6a6a6a" stroke-width="2.60"/>
<line x1="148.6" y1="731.6" x2="154.3" y2="730.9" stroke="#0000d0" stroke-width="2.60"/>
<line x1="154.3" y1="730.9" x2="160.1" y2="730.1" stroke="#6a6a6a" stroke-width="2.60"/>
<line x1="160.1" y1="730.1" x2="163.9" y2="724.1" stroke="#6a6a6a" stroke-width="2.60"/>
<line x1="163.9" y1="724.1" x2="167.7" y2="718.1" stroke="#d00000" stroke-width="2.60"/>
<line x1="160.1" y1="730.1" x2="163.1" y2="727.4" stroke="#6a6a6a" stroke-width="2.60"/>
<line x1="163.1" y1="727.4" x2="166.2" y2="724.6" stroke="#d00000" stroke-width="2.60"/>
<line x1="160.1" y1="730.1" x2="164.1" y2="731.6" stroke="#6a6a6a" stroke-width="2.60"/>
<line x1="164.1" y1="731.6" x2="168.2" y2="733.1" stroke="#6a6a6a" stroke-width="2.60"/>
<line x1="163.2" y1="710.5" x2="165.4" y2="714.3" stroke="#d8d8d8" stroke-width="2.60"/>
<line x1="165.4" y1="714.3" x2="167.7" y2="718.1" stroke="#d00000" stroke-width="2.60"/>
<line x1="167.7" y1="718.1" x2="166.9" y2="721.4" stroke="#d00000" stroke-width="2.60"/>
<line x1="166.9" y1="721.4" x2="166.2" y2="724.6" stroke="#d00000" stroke-width="2.60"/>
<line x1="167.7" y1="718.1" x2="167.9" y2="725.6" stroke="#d00000" stroke-width="2.60"/>
<line x1="167.9" y1="725.6" x2="168.2" y2="733.1" stroke="#6a6a6a" stroke-width="2.60"/>
<line x1="166.2" y1="724.6" x2="169.9" y2="725.4" stroke="#d00000" stroke-width="2.60"/>
<line x1="169.9" y1="725.4" x2="173.7" y2="726.1" stroke="#d8d8d8" stroke-width="2.60"/>
<line x1="166.2" y1="724.6" x2="167.2" y2="728.9" stroke="#d00000" stroke-width="2.60"/>
<line x1="167.2" y1="728.9" x2="168.2" y2="733.1" stroke="#6a6a6a" stroke-width="2.60"/>
<line x1="166.2" y1="724.6" x2="172.9" y2="728.4" stroke="#d00000" stroke-width="2.60"/>
<line x1="172.9" y1="728.4" x2="179.7" y2="732.1" stroke="#0000d0" stroke-width="2.60"/>
<line x1="168.2" y1="733.1" x2="166.7" y2="737.4" stroke="#6a6a6a" stroke-width="2.60"/>
<line x1="166.7" y1="737.4" x2="165.2" y2="741.7" stroke="#d8d8d8" stroke-width="2.60"/>
<line x1="168.2" y1="733.1" x2="173.9" y2="732.6" stroke="#6a6a6a" stroke-width="2.60"/>
<line x1="173.9" y1="732.6" x2="179.7" y2="732.1" stroke="#0000d0" stroke-width="2.60"/>
<line x1="179.7" y1="732.1" x2="184.2" y2="728.4" stroke="#0000d0" stroke-width="2.60"/>
<line x1="184.2" y1="728.4" x2="188.8" y2="724.6" stroke="#d00000" stroke-width="2.60"/>
<line x1="179.7" y1="732.1" x2="184.5" y2="733.4" stroke="#0000d0" stroke-width="2.60"/>
<line x1="184.5" y1="733.4" x2="189.3" y2="734.6" stroke="#6a6a6a" stroke-width="2.60"/>
<line x1="182.2" y1="718.1" x2="185.5" y2="721.4" stroke="#d8d8d8" stroke-width="2.60"/>
<line x1="185.5" y1="721.4" x2="188.8" y2="724.6" stroke="#d00000" stroke-width="2.60"/>
<line x1="188.8" y1="724.6" x2="189.1" y2="729.6" stroke="#d00000" stroke-width="2.60"/>
<line x1="189.1" y1="729.6" x2="189.3" y2="734.6" stroke="#6a6a6a" stroke-width="2.60"/>
<line x1="188.8" y1="724.6" x2="193.8" y2="725.6" stroke="#d00000" stroke-width="2.60"/>
<line x1="193.8" y1="725.6" x2="198.8" y2="726.6" stroke="#6a6a6a" stroke-width="2.60"/>
<line x1="188.8" y1="724.6" x2="196.3" y2="723.1" stroke="#d00000" stroke-width="2.60"/>
<line x1="196.3" y1="723.1" x2="203.8" y2="721.6" stroke="#d00000" stroke-width="2.60"/>
<line x1="189.3" y1="734.6" x2="188.6" y2="738.7" stroke="#6a6a6a" stroke-width="2.60"/>
<line x1="188.6" y1="738.7" x2="187.8" y2="742.7" stroke="#d8d8d8" stroke-width="2.60"/>
<line x1="189.3" y1="734.6" x2="194.1" y2="730.6" stroke="#6a6a6a" stroke-width="2.60"/>
<line x1="194.1" y1="730.6" x2="198.8" y2="726.6" stroke="#6a6a6a" stroke-width="2.60"/>
<line x1="189.3" y1="734.6" x2="197.8" y2="731.9" stroke="#6a6a6a" stroke-width="2.60"/>
<line x1="197.8" y1="731.9" x2="206.3" y2="729.1" stroke="#6a6a6a" stroke-width="2.60"/>
<line x1="198.8" y1="726.6" x2="198.6" y2="726.4" stroke="#6a6a6a" stroke-width="2.60"/>
<line x1="198.6" y1="726.4" x2="198.3" y2="726.1" stroke="#d8d8d8" stroke-width="2.60"/>
<line x1="198.8" y1="726.6" x2="202.6" y2="727.9" stroke="#6a6a6a" stroke-width="2.60"/>
<line x1="202.6" y1="727.9" x2="206.3" y2="729.1" stroke="#6a6a6a" stroke-width="2.60"/>
<line x1="198.8" y1="726.6" x2="202.1" y2="721.9" stroke="#6a6a6a" stroke-width="2.60"/>
<line x1="202.1" y1="721.9" x2="205.3" y2="717.1" stroke="#d00000" stroke-width="2.60"/>
<line x1="198.8" y1="726.6" x2="201.3" y2="724.1" stroke="#6a6a6a" stroke-width="2.60"/>
<line x1="201.3" y1="724.1" x2="203.8" y2="721.6" stroke="#d00000" stroke-width="2.60"/>
<line x1="206.3" y1="729.1" x2="207.6" y2="732.4" stroke="#6a6a6a" stroke-width="2.60"/>
<line x1="207.6" y1="732.4" x2="208.8" y2="735.6" stroke="#d8d8d8" stroke-width="2.60"/>
<line x1="206.3" y1="729.1" x2="205.3" y2="731.1" stroke="#6a6a6a" stroke-width="2.60"/>
<line x1="205.3" y1="731.1" x2="204.3" y2="733.1" stroke="#d8d8d8" stroke-width="2.60"/>
<line x1="206.3" y1="729.1" x2="205.8" y2="723.1" stroke="#6a6a6a" stroke-width="2.60"/>
<line x1="205.8" y1="723.1" x2="205.3" y2="717.1" stroke="#d00000" stroke-width="2.60"/>
<line x1="206.3" y1="729.1" x2="209.6" y2="724.1" stroke="#6a6a6a" stroke-width="2.60"/>
<line x1="209.6" y1="724.1" x2="212.9" y2="719.1" stroke="#d00000" stroke-width="2.60"/>
<line x1="206.3" y1="729.1" x2="205.1" y2="725.4" stroke="#6a6a6a" stroke-width="2.60"/>
<line x1="205.1" y1="725.4" x2="203.8" y2="721.6" stroke="#d00000" stroke-width="2.60"/>
<line x1="205.3" y1="717.1" x2="203.3" y2="713.0" stroke="#d00000" stroke-width="2.60"/>
<line x1="203.3" y1="713.0" x2="201.3" y2="709.0" stroke="#d8d8d8" stroke-width="2.60"/>
<line x1="205.3" y1="717.1" x2="209.1" y2="718.1" stroke="#d00000" stroke-width="2.60"/>
<line x1="209.1" y1="718.1" x2="212.9" y2="719.1" stroke="#d00000" stroke-width="2.60"/>
<line x1="205.3" y1="717.1" x2="208.3" y2="713.0" stroke="#d00000" stroke-width="2.60"/>
<line x1="208.3" y1="713.0" x2="211.3" y2="709.0" stroke="#d8d8d8" stroke-width="2.60"/>
<line x1="205.3" y1="717.1" x2="204.6" y2="719.4" stroke="#d00000" stroke-width="2.60"/>
<line x1="204.6" y1="719.4" x2="203.8" y2="721.6" stroke="#d00000" stroke-width="2.60"/>
<line x1="212.9" y1="719.1" x2="208.4" y2="720.4" stroke="#d00000" stroke-width="2.60"/>
<line x1="208.4" y1="720.4" x2="203.8" y2="721.6" stroke="#d00000" stroke-width="2.60"/>
<circle cx="132.0" cy="735.1" r="3.84" fill="url(#gH)"/>
<circle cx="140.1" cy="733.1" r="3.58" fill="url(#gC)"/>
<circle cx="145.6" cy="739.7" r="3.84" fill="url(#gH)"/>
<circle cx="144.1" cy="721.1" r="4.09" fill="url(#gO)"/>
<circle cx="146.6" cy="724.1" r="4.09" fill="url(#gO)"/>
<circle cx="148.6" cy="731.6" r="3.90" fill="url(#gN)"/>
<circle cx="152.6" cy="721.1" r="3.84" fill="url(#gH)"/>
<circle cx="153.6" cy="725.6" r="3.84" fill="url(#gH)"/>
<circle cx="160.1" cy="730.1" r="3.58" fill="url(#gC)"/>
<circle cx="163.2" cy="710.5" r="3.84" fill="url(#gH)"/>
<circle cx="167.7" cy="718.1" r="4.09" fill="url(#gO)"/>
<circle cx="166.2" cy="724.6" r="4.09" fill="url(#gO)"/>
<circle cx="173.7" cy="726.1" r="3.84" fill="url(#gH)"/>
<circle cx="168.2" cy="733.1" r="3.58" fill="url(#gC)"/>
<circle cx="165.2" cy="741.7" r="3.84" fill="url(#gH)"/>
<circle cx="179.7" cy="732.1" r="3.90" fill="url(#gN)"/>
<circle cx="182.2" cy="718.1" r="3.84" fill="url(#gH)"/>
<circle cx="188.8" cy="724.6" r="4.09" fill="url(#gO)"/>
<circle cx="189.3" cy="734.6" r="3.58" fill="url(#gC)"/>
<circle cx="187.8" cy="742.7" r="3.84" fill="url(#gH)"/>
<circle cx="198.8" cy="726.6" r="3.58" fill="url(#gC)"/>
<circle cx="198.3" cy="726.1" r="3.84" fill="url(#gH)"/>
<circle cx="206.3" cy="729.1" r="3.58" fill="url(#gC)"/>
<circle cx="208.8" cy="735.6" r="3.84" fill="url(#gH)"/>
<circle cx="204.3" cy="733.1" r="3.84" fill="url(#gH)"/>
<circle cx="205.3" cy="717.1" r="4.09" fill="url(#gO)"/>
<circle cx="201.3" cy="709.0" r="3.84" fill="url(#gH)"/>
<circle cx="212.9" cy="719.1" r="4.09" fill="url(#gO)"/>
<circle cx="211.3" cy="709.0" r="3.84" fill="url(#gH)"/>
<circle cx="203.8" cy="721.6" r="4.09" fill="url(#gO)"/>
<line x1="616.5" y1="458.8" x2="646.1" y2="452.9" stroke="#d8980c" stroke-width="11.2"/>
<line x1="616.5" y1="458.8" x2="646.1" y2="452.9" stroke="#f9b900" stroke-width="9.4"/>
<line x1="646.1" y1="452.9" x2="668.8" y2="458.5" stroke="#d8980c" stroke-width="11.2"/>
<line x1="646.1" y1="452.9" x2="668.8" y2="458.5" stroke="#f9b900" stroke-width="9.4"/>
<line x1="616.5" y1="458.8" x2="596.6" y2="483.8" stroke="#d8980c" stroke-width="11.2"/>
<line x1="616.5" y1="458.8" x2="596.6" y2="483.8" stroke="#f9b900" stroke-width="9.4"/>
<line x1="616.5" y1="458.8" x2="622.9" y2="482.7" stroke="#d8980c" stroke-width="11.2"/>
<line x1="616.5" y1="458.8" x2="622.9" y2="482.7" stroke="#f9b900" stroke-width="9.4"/>
<line x1="668.8" y1="458.5" x2="654.5" y2="479.5" stroke="#d8980c" stroke-width="11.2"/>
<line x1="668.8" y1="458.5" x2="654.5" y2="479.5" stroke="#f9b900" stroke-width="9.4"/>
<line x1="668.8" y1="458.5" x2="685.7" y2="474.7" stroke="#d8980c" stroke-width="11.2"/>
<line x1="668.8" y1="458.5" x2="685.7" y2="474.7" stroke="#f9b900" stroke-width="9.4"/>
<line x1="622.9" y1="482.7" x2="654.5" y2="479.5" stroke="#d8980c" stroke-width="11.2"/>
<line x1="622.9" y1="482.7" x2="654.5" y2="479.5" stroke="#f9b900" stroke-width="9.4"/>
<line x1="654.5" y1="479.5" x2="673.5" y2="499.2" stroke="#d8980c" stroke-width="11.2"/>
<line x1="654.5" y1="479.5" x2="673.5" y2="499.2" stroke="#f9b900" stroke-width="9.4"/>
<line x1="685.7" y1="474.7" x2="700.9" y2="491.9" stroke="#d8980c" stroke-width="11.2"/>
<line x1="685.7" y1="474.7" x2="700.9" y2="491.9" stroke="#f9b900" stroke-width="9.4"/>
<line x1="685.7" y1="474.7" x2="673.5" y2="499.2" stroke="#d8980c" stroke-width="11.2"/>
<line x1="685.7" y1="474.7" x2="673.5" y2="499.2" stroke="#f9b900" stroke-width="9.4"/>
<line x1="596.6" y1="483.8" x2="607.4" y2="505.9" stroke="#d8980c" stroke-width="11.2"/>
<line x1="596.6" y1="483.8" x2="607.4" y2="505.9" stroke="#f9b900" stroke-width="9.4"/>
<line x1="622.9" y1="482.7" x2="607.4" y2="505.9" stroke="#d8980c" stroke-width="11.2"/>
<line x1="622.9" y1="482.7" x2="607.4" y2="505.9" stroke="#f9b900" stroke-width="9.4"/>
<line x1="622.9" y1="482.7" x2="630.6" y2="505.9" stroke="#d8980c" stroke-width="11.2"/>
<line x1="622.9" y1="482.7" x2="630.6" y2="505.9" stroke="#f9b900" stroke-width="9.4"/>
<line x1="607.4" y1="505.9" x2="630.6" y2="505.9" stroke="#d8980c" stroke-width="11.2"/>
<line x1="607.4" y1="505.9" x2="630.6" y2="505.9" stroke="#f9b900" stroke-width="9.4"/>
<line x1="630.6" y1="505.9" x2="656.2" y2="512.5" stroke="#d8980c" stroke-width="11.2"/>
<line x1="630.6" y1="505.9" x2="656.2" y2="512.5" stroke="#f9b900" stroke-width="9.4"/>
<line x1="607.4" y1="505.9" x2="608.1" y2="533.7" stroke="#d8980c" stroke-width="11.2"/>
<line x1="607.4" y1="505.9" x2="608.1" y2="533.7" stroke="#f9b900" stroke-width="9.4"/>
<line x1="608.1" y1="533.7" x2="633.1" y2="533.3" stroke="#d8980c" stroke-width="11.2"/>
<line x1="608.1" y1="533.7" x2="633.1" y2="533.3" stroke="#f9b900" stroke-width="9.4"/>
<line x1="633.1" y1="533.3" x2="656.2" y2="512.5" stroke="#d8980c" stroke-width="11.2"/>
<line x1="633.1" y1="533.3" x2="656.2" y2="512.5" stroke="#f9b900" stroke-width="9.4"/>
<line x1="656.2" y1="512.5" x2="673.5" y2="499.2" stroke="#d8980c" stroke-width="11.2"/>
<line x1="656.2" y1="512.5" x2="673.5" y2="499.2" stroke="#f9b900" stroke-width="9.4"/>
<line x1="673.5" y1="499.2" x2="690.3" y2="513.9" stroke="#d8980c" stroke-width="11.2"/>
<line x1="673.5" y1="499.2" x2="690.3" y2="513.9" stroke="#f9b900" stroke-width="9.4"/>
<line x1="700.9" y1="491.9" x2="690.3" y2="513.9" stroke="#d8980c" stroke-width="11.2"/>
<line x1="700.9" y1="491.9" x2="690.3" y2="513.9" stroke="#f9b900" stroke-width="9.4"/>
<line x1="656.2" y1="512.5" x2="674.9" y2="533.3" stroke="#d8980c" stroke-width="11.2"/>
<line x1="656.2" y1="512.5" x2="674.9" y2="533.3" stroke="#f9b900" stroke-width="9.4"/>
<line x1="690.3" y1="513.9" x2="674.9" y2="533.3" stroke="#d8980c" stroke-width="11.2"/>
<line x1="690.3" y1="513.9" x2="674.9" y2="533.3" stroke="#f9b900" stroke-width="9.4"/>
<circle cx="628.7" cy="455.1" r="1.5" fill="#fff"/>
<circle cx="633.9" cy="456.6" r="1.5" fill="#fff"/>
<circle cx="657.5" cy="455.7" r="1.5" fill="#fff"/>
<circle cx="609.2" cy="469.9" r="1.5" fill="#fff"/>
<circle cx="603.9" cy="472.7" r="1.5" fill="#fff"/>
<circle cx="619.7" cy="470.8" r="1.5" fill="#fff"/>
<circle cx="661.6" cy="469.0" r="1.5" fill="#fff"/>
<circle cx="677.2" cy="466.6" r="1.5" fill="#fff"/>
<circle cx="635.8" cy="480.2" r="1.5" fill="#fff"/>
<circle cx="641.6" cy="482.0" r="1.5" fill="#fff"/>
<circle cx="664.0" cy="489.4" r="1.5" fill="#fff"/>
<circle cx="693.3" cy="483.3" r="1.5" fill="#fff"/>
<circle cx="679.6" cy="486.9" r="1.5" fill="#fff"/>
<circle cx="602.0" cy="494.9" r="1.5" fill="#fff"/>
<circle cx="615.1" cy="494.3" r="1.5" fill="#fff"/>
<circle cx="626.8" cy="494.3" r="1.5" fill="#fff"/>
<circle cx="619.0" cy="505.9" r="1.5" fill="#fff"/>
<circle cx="643.4" cy="509.2" r="1.5" fill="#fff"/>
<circle cx="607.8" cy="519.8" r="1.5" fill="#fff"/>
<circle cx="620.6" cy="533.5" r="1.5" fill="#fff"/>
<circle cx="641.9" cy="523.8" r="1.5" fill="#fff"/>
<circle cx="647.4" cy="522.0" r="1.5" fill="#fff"/>
<circle cx="664.9" cy="505.9" r="1.5" fill="#fff"/>
<circle cx="681.9" cy="506.5" r="1.5" fill="#fff"/>
<circle cx="695.6" cy="502.9" r="1.5" fill="#fff"/>
<circle cx="665.5" cy="522.9" r="1.5" fill="#fff"/>
<circle cx="682.6" cy="523.6" r="1.5" fill="#fff"/>
<ellipse cx="616.5" cy="458.8" rx="9.1" ry="10.8" fill="#a9a9ab" stroke="#70b84c" stroke-width="1.3"/>
<ellipse cx="646.1" cy="452.9" rx="9.1" ry="10.8" fill="#a9a9ab" stroke="#70b84c" stroke-width="1.3"/>
<ellipse cx="668.8" cy="458.5" rx="9.1" ry="10.8" fill="#a9a9ab" stroke="#70b84c" stroke-width="1.3"/>
<ellipse cx="596.6" cy="483.8" rx="9.1" ry="10.8" fill="#a9a9ab" stroke="#70b84c" stroke-width="1.3"/>
<ellipse cx="622.9" cy="482.7" rx="9.1" ry="10.8" fill="#a9a9ab" stroke="#70b84c" stroke-width="1.3"/>
<ellipse cx="654.5" cy="479.5" rx="9.1" ry="10.8" fill="#a9a9ab" stroke="#70b84c" stroke-width="1.3"/>
<ellipse cx="685.7" cy="474.7" rx="9.1" ry="10.8" fill="#a9a9ab" stroke="#70b84c" stroke-width="1.3"/>
<ellipse cx="700.9" cy="491.9" rx="9.1" ry="10.8" fill="#a9a9ab" stroke="#70b84c" stroke-width="1.3"/>
<ellipse cx="607.4" cy="505.9" rx="9.1" ry="10.8" fill="#a9a9ab" stroke="#70b84c" stroke-width="1.3"/>
<ellipse cx="630.6" cy="505.9" rx="9.1" ry="10.8" fill="#a9a9ab" stroke="#70b84c" stroke-width="1.3"/>
<ellipse cx="673.5" cy="499.2" rx="9.1" ry="10.8" fill="#a9a9ab" stroke="#70b84c" stroke-width="1.3"/>
<ellipse cx="656.2" cy="512.5" rx="9.1" ry="10.8" fill="#a9a9ab" stroke="#70b84c" stroke-width="1.3"/>
<ellipse cx="690.3" cy="513.9" rx="9.1" ry="10.8" fill="#a9a9ab" stroke="#70b84c" stroke-width="1.3"/>
<ellipse cx="608.1" cy="533.7" rx="9.1" ry="10.8" fill="#a9a9ab" stroke="#70b84c" stroke-width="1.3"/>
<ellipse cx="633.1" cy="533.3" rx="9.1" ry="10.8" fill="#a9a9ab" stroke="#70b84c" stroke-width="1.3"/>
<ellipse cx="674.9" cy="533.3" rx="9.1" ry="10.8" fill="#a9a9ab" stroke="#70b84c" stroke-width="1.3"/>
<line x1="885.8" y1="463.0" x2="916.3" y2="457.4" stroke="#d8980c" stroke-width="11.2"/>
<line x1="885.8" y1="463.0" x2="916.3" y2="457.4" stroke="#f9b900" stroke-width="9.4"/>
<line x1="916.3" y1="457.4" x2="940.7" y2="462.6" stroke="#d8980c" stroke-width="11.2"/>
<line x1="916.3" y1="457.4" x2="940.7" y2="462.6" stroke="#f9b900" stroke-width="9.4"/>
<line x1="885.8" y1="463.0" x2="864.8" y2="487.6" stroke="#d8980c" stroke-width="11.2"/>
<line x1="885.8" y1="463.0" x2="864.8" y2="487.6" stroke="#f9b900" stroke-width="9.4"/>
<line x1="885.8" y1="463.0" x2="891.9" y2="486.9" stroke="#d8980c" stroke-width="11.2"/>
<line x1="885.8" y1="463.0" x2="891.9" y2="486.9" stroke="#f9b900" stroke-width="9.4"/>
<line x1="940.7" y1="462.6" x2="925.2" y2="483.7" stroke="#d8980c" stroke-width="11.2"/>
<line x1="940.7" y1="462.6" x2="925.2" y2="483.7" stroke="#f9b900" stroke-width="9.4"/>
<line x1="940.7" y1="462.6" x2="958.2" y2="478.9" stroke="#d8980c" stroke-width="11.2"/>
<line x1="940.7" y1="462.6" x2="958.2" y2="478.9" stroke="#f9b900" stroke-width="9.4"/>
<line x1="891.9" y1="486.9" x2="925.2" y2="483.7" stroke="#d8980c" stroke-width="11.2"/>
<line x1="891.9" y1="486.9" x2="925.2" y2="483.7" stroke="#f9b900" stroke-width="9.4"/>
<line x1="925.2" y1="483.7" x2="945.6" y2="503.1" stroke="#d8980c" stroke-width="11.2"/>
<line x1="925.2" y1="483.7" x2="945.6" y2="503.1" stroke="#f9b900" stroke-width="9.4"/>
<line x1="958.2" y1="478.9" x2="974.0" y2="495.8" stroke="#d8980c" stroke-width="11.2"/>
<line x1="958.2" y1="478.9" x2="974.0" y2="495.8" stroke="#f9b900" stroke-width="9.4"/>
<line x1="958.2" y1="478.9" x2="945.6" y2="503.1" stroke="#d8980c" stroke-width="11.2"/>
<line x1="958.2" y1="478.9" x2="945.6" y2="503.1" stroke="#f9b900" stroke-width="9.4"/>
<line x1="864.8" y1="487.6" x2="876.0" y2="509.4" stroke="#d8980c" stroke-width="11.2"/>
<line x1="864.8" y1="487.6" x2="876.0" y2="509.4" stroke="#f9b900" stroke-width="9.4"/>
<line x1="891.9" y1="486.9" x2="876.0" y2="509.4" stroke="#d8980c" stroke-width="11.2"/>
<line x1="891.9" y1="486.9" x2="876.0" y2="509.4" stroke="#f9b900" stroke-width="9.4"/>
<line x1="891.9" y1="486.9" x2="900.6" y2="509.4" stroke="#d8980c" stroke-width="11.2"/>
<line x1="891.9" y1="486.9" x2="900.6" y2="509.4" stroke="#f9b900" stroke-width="9.4"/>
<line x1="876.0" y1="509.4" x2="900.6" y2="509.4" stroke="#d8980c" stroke-width="11.2"/>
<line x1="876.0" y1="509.4" x2="900.6" y2="509.4" stroke="#f9b900" stroke-width="9.4"/>
<line x1="900.6" y1="509.4" x2="927.0" y2="516.0" stroke="#d8980c" stroke-width="11.2"/>
<line x1="900.6" y1="509.4" x2="927.0" y2="516.0" stroke="#f9b900" stroke-width="9.4"/>
<line x1="876.0" y1="509.4" x2="877.0" y2="537.1" stroke="#d8980c" stroke-width="11.2"/>
<line x1="876.0" y1="509.4" x2="877.0" y2="537.1" stroke="#f9b900" stroke-width="9.4"/>
<line x1="877.0" y1="537.1" x2="902.7" y2="536.8" stroke="#d8980c" stroke-width="11.2"/>
<line x1="877.0" y1="537.1" x2="902.7" y2="536.8" stroke="#f9b900" stroke-width="9.4"/>
<line x1="902.7" y1="536.8" x2="927.0" y2="516.0" stroke="#d8980c" stroke-width="11.2"/>
<line x1="902.7" y1="536.8" x2="927.0" y2="516.0" stroke="#f9b900" stroke-width="9.4"/>
<line x1="927.0" y1="516.0" x2="945.6" y2="503.1" stroke="#d8980c" stroke-width="11.2"/>
<line x1="927.0" y1="516.0" x2="945.6" y2="503.1" stroke="#f9b900" stroke-width="9.4"/>
<line x1="945.6" y1="503.1" x2="963.2" y2="517.9" stroke="#d8980c" stroke-width="11.2"/>
<line x1="945.6" y1="503.1" x2="963.2" y2="517.9" stroke="#f9b900" stroke-width="9.4"/>
<line x1="974.0" y1="495.8" x2="963.2" y2="517.9" stroke="#d8980c" stroke-width="11.2"/>
<line x1="974.0" y1="495.8" x2="963.2" y2="517.9" stroke="#f9b900" stroke-width="9.4"/>
<line x1="927.0" y1="516.0" x2="947.0" y2="536.8" stroke="#d8980c" stroke-width="11.2"/>
<line x1="927.0" y1="516.0" x2="947.0" y2="536.8" stroke="#f9b900" stroke-width="9.4"/>
<line x1="963.2" y1="517.9" x2="947.0" y2="536.8" stroke="#d8980c" stroke-width="11.2"/>
<line x1="963.2" y1="517.9" x2="947.0" y2="536.8" stroke="#f9b900" stroke-width="9.4"/>
<polyline points="898.2,454.7 902.2,456.4 899.1,459.4 903.0,461.0 899.9,464.0 903.9,465.7" fill="none" stroke="#d8980c" stroke-width="3.6" stroke-linejoin="miter"/>
<polyline points="898.2,454.7 902.2,456.4 899.1,459.4 903.0,461.0 899.9,464.0 903.9,465.7" fill="none" stroke="#dfe4ea" stroke-width="1.8" stroke-linejoin="miter"/>
<circle cx="928.5" cy="460.0" r="1.5" fill="#fff"/>
<circle cx="878.1" cy="473.9" r="1.5" fill="#fff"/>
<circle cx="872.5" cy="476.7" r="1.5" fill="#fff"/>
<circle cx="888.8" cy="474.9" r="1.5" fill="#fff"/>
<circle cx="933.0" cy="473.1" r="1.5" fill="#fff"/>
<circle cx="949.5" cy="470.8" r="1.5" fill="#fff"/>
<polyline points="906.2,479.6 910.0,481.6 906.6,484.3 910.5,486.3 907.1,489.0 910.9,491.0" fill="none" stroke="#d8980c" stroke-width="3.6" stroke-linejoin="miter"/>
<polyline points="906.2,479.6 910.0,481.6 906.6,484.3 910.5,486.3 907.1,489.0 910.9,491.0" fill="none" stroke="#dfe4ea" stroke-width="1.8" stroke-linejoin="miter"/>
<circle cx="935.4" cy="493.4" r="1.5" fill="#fff"/>
<circle cx="966.1" cy="487.4" r="1.5" fill="#fff"/>
<circle cx="951.9" cy="491.0" r="1.5" fill="#fff"/>
<circle cx="870.4" cy="498.5" r="1.5" fill="#fff"/>
<circle cx="884.0" cy="498.1" r="1.5" fill="#fff"/>
<circle cx="896.2" cy="498.1" r="1.5" fill="#fff"/>
<circle cx="888.3" cy="509.4" r="1.5" fill="#fff"/>
<polyline points="913.5,506.6 916.4,509.7 912.3,511.1 915.3,514.3 911.2,515.7 914.1,518.8" fill="none" stroke="#d8980c" stroke-width="3.6" stroke-linejoin="miter"/>
<polyline points="913.5,506.6 916.4,509.7 912.3,511.1 915.3,514.3 911.2,515.7 914.1,518.8" fill="none" stroke="#dfe4ea" stroke-width="1.8" stroke-linejoin="miter"/>
<circle cx="876.5" cy="523.2" r="1.5" fill="#fff"/>
<circle cx="889.9" cy="537.0" r="1.5" fill="#fff"/>
<polyline points="909.7,523.1 913.9,522.5 912.7,526.7 917.0,526.1 915.8,530.3 920.0,529.7" fill="none" stroke="#d8980c" stroke-width="3.6" stroke-linejoin="miter"/>
<polyline points="909.7,523.1 913.9,522.5 912.7,526.7 917.0,526.1 915.8,530.3 920.0,529.7" fill="none" stroke="#dfe4ea" stroke-width="1.8" stroke-linejoin="miter"/>
<circle cx="936.3" cy="509.6" r="1.5" fill="#fff"/>
<circle cx="954.4" cy="510.5" r="1.5" fill="#fff"/>
<circle cx="968.6" cy="506.9" r="1.5" fill="#fff"/>
<circle cx="936.4" cy="524.0" r="1.5" fill="#fff"/>
<circle cx="937.6" cy="528.8" r="1.5" fill="#fff"/>
<circle cx="955.1" cy="527.3" r="1.5" fill="#fff"/>
<ellipse cx="885.8" cy="463.0" rx="9.4" ry="10.9" fill="#a9a9ab" stroke="#70b84c" stroke-width="1.3"/>
<ellipse cx="916.3" cy="457.4" rx="9.4" ry="10.9" fill="#a9a9ab" stroke="#70b84c" stroke-width="1.3"/>
<ellipse cx="940.7" cy="462.6" rx="9.4" ry="10.9" fill="#a9a9ab" stroke="#70b84c" stroke-width="1.3"/>
<ellipse cx="864.8" cy="487.6" rx="9.4" ry="10.9" fill="#a9a9ab" stroke="#70b84c" stroke-width="1.3"/>
<ellipse cx="891.9" cy="486.9" rx="9.4" ry="10.9" fill="#a9a9ab" stroke="#70b84c" stroke-width="1.3"/>
<ellipse cx="925.2" cy="483.7" rx="9.4" ry="10.9" fill="#a9a9ab" stroke="#70b84c" stroke-width="1.3"/>
<ellipse cx="958.2" cy="478.9" rx="9.4" ry="10.9" fill="#a9a9ab" stroke="#70b84c" stroke-width="1.3"/>
<ellipse cx="974.0" cy="495.8" rx="9.4" ry="10.9" fill="#a9a9ab" stroke="#70b84c" stroke-width="1.3"/>
<ellipse cx="876.0" cy="509.4" rx="9.4" ry="10.9" fill="#a9a9ab" stroke="#70b84c" stroke-width="1.3"/>
<ellipse cx="900.6" cy="509.4" rx="9.4" ry="10.9" fill="#a9a9ab" stroke="#70b84c" stroke-width="1.3"/>
<ellipse cx="945.6" cy="503.1" rx="9.4" ry="10.9" fill="#a9a9ab" stroke="#70b84c" stroke-width="1.3"/>
<ellipse cx="927.0" cy="516.0" rx="9.4" ry="10.9" fill="#a9a9ab" stroke="#70b84c" stroke-width="1.3"/>
<ellipse cx="963.2" cy="517.9" rx="9.4" ry="10.9" fill="#a9a9ab" stroke="#70b84c" stroke-width="1.3"/>
<ellipse cx="877.0" cy="537.1" rx="9.4" ry="10.9" fill="#a9a9ab" stroke="#70b84c" stroke-width="1.3"/>
<ellipse cx="902.7" cy="536.8" rx="9.4" ry="10.9" fill="#a9a9ab" stroke="#70b84c" stroke-width="1.3"/>
<ellipse cx="947.0" cy="536.8" rx="9.4" ry="10.9" fill="#a9a9ab" stroke="#70b84c" stroke-width="1.3"/>
<rect x="693.2" y="321.2" width="139" height="44.5" fill="#e3e3df"/>
<rect x="693.2" y="321.2" width="139" height="6" fill="#ecece9"/>
<path d="M696,362 L829,360.5 L829,363 L696,364.5 Z" fill="#c9c8c2"/>
<path d="M695.9,329.2 L762.6,328.2 L763.2,361.3 L696.2,361.6 Z" fill="#aba387"/>
<path d="M762.6,327.8 L828.6,326.6 L828.8,359.8 L763.2,360.8 Z" fill="#ada589"/>
<rect x="756.0" y="346.2" width="1.3" height="1.3" fill="#c4bda3"/>
<rect x="755.9" y="355.8" width="1.3" height="1.3" fill="#bdb59a"/>
<rect x="720.8" y="344.6" width="1.3" height="1.3" fill="#b4ac90"/>
<rect x="777.2" y="334.1" width="1.3" height="1.3" fill="#c4bda3"/>
<rect x="736.4" y="330.9" width="1.3" height="1.3" fill="#b4ac90"/>
<rect x="779.9" y="347.4" width="1.3" height="1.3" fill="#c4bda3"/>
<rect x="823.4" y="349.3" width="1.3" height="1.3" fill="#a29a80"/>
<rect x="782.0" y="348.3" width="1.3" height="1.3" fill="#a29a80"/>
<rect x="704.8" y="329.2" width="1.3" height="1.3" fill="#bdb59a"/>
<rect x="775.3" y="353.3" width="1.3" height="1.3" fill="#8e8670"/>
<rect x="754.4" y="355.4" width="1.3" height="1.3" fill="#a29a80"/>
<rect x="727.2" y="337.6" width="1.3" height="1.3" fill="#9a9276"/>
<rect x="783.6" y="342.9" width="1.3" height="1.3" fill="#8e8670"/>
<rect x="750.0" y="345.9" width="1.3" height="1.3" fill="#9a9276"/>
<rect x="789.6" y="338.2" width="1.3" height="1.3" fill="#bdb59a"/>
<rect x="763.9" y="329.0" width="1.3" height="1.3" fill="#a29a80"/>
<rect x="797.3" y="341.0" width="1.3" height="1.3" fill="#8e8670"/>
<rect x="747.3" y="359.1" width="1.3" height="1.3" fill="#b4ac90"/>
<rect x="696.6" y="334.8" width="1.3" height="1.3" fill="#9a9276"/>
<rect x="758.3" y="359.9" width="1.3" height="1.3" fill="#c4bda3"/>
<rect x="751.7" y="346.4" width="1.3" height="1.3" fill="#bdb59a"/>
<rect x="798.9" y="336.8" width="1.3" height="1.3" fill="#9a9276"/>
<rect x="737.4" y="328.5" width="1.3" height="1.3" fill="#c4bda3"/>
<rect x="796.2" y="331.8" width="1.3" height="1.3" fill="#bdb59a"/>
<rect x="789.5" y="328.4" width="1.3" height="1.3" fill="#c4bda3"/>
<rect x="801.3" y="333.8" width="1.3" height="1.3" fill="#a29a80"/>
<rect x="721.3" y="344.5" width="1.3" height="1.3" fill="#b4ac90"/>
<rect x="797.7" y="341.6" width="1.3" height="1.3" fill="#c4bda3"/>
<rect x="711.8" y="341.7" width="1.3" height="1.3" fill="#bdb59a"/>
<rect x="696.6" y="356.1" width="1.3" height="1.3" fill="#a29a80"/>
<rect x="736.5" y="356.8" width="1.3" height="1.3" fill="#bdb59a"/>
<rect x="721.1" y="360.4" width="1.3" height="1.3" fill="#a29a80"/>
<rect x="780.9" y="331.3" width="1.3" height="1.3" fill="#bdb59a"/>
<rect x="724.5" y="336.4" width="1.3" height="1.3" fill="#a29a80"/>
<rect x="739.8" y="337.6" width="1.3" height="1.3" fill="#9a9276"/>
<rect x="706.3" y="334.8" width="1.3" height="1.3" fill="#b4ac90"/>
<rect x="728.5" y="347.5" width="1.3" height="1.3" fill="#8e8670"/>
<rect x="778.3" y="332.1" width="1.3" height="1.3" fill="#a29a80"/>
<rect x="760.1" y="346.7" width="1.3" height="1.3" fill="#c4bda3"/>
<rect x="720.5" y="333.0" width="1.3" height="1.3" fill="#bdb59a"/>
<rect x="804.0" y="336.1" width="1.3" height="1.3" fill="#bdb59a"/>
<rect x="717.3" y="348.4" width="1.3" height="1.3" fill="#a29a80"/>
<rect x="722.4" y="358.9" width="1.3" height="1.3" fill="#c4bda3"/>
<rect x="775.9" y="341.7" width="1.3" height="1.3" fill="#9a9276"/>
<rect x="710.8" y="344.7" width="1.3" height="1.3" fill="#8e8670"/>
<rect x="727.9" y="350.9" width="1.3" height="1.3" fill="#8e8670"/>
<rect x="751.8" y="357.4" width="1.3" height="1.3" fill="#c4bda3"/>
<rect x="735.1" y="333.7" width="1.3" height="1.3" fill="#b4ac90"/>
<rect x="825.0" y="332.1" width="1.3" height="1.3" fill="#c4bda3"/>
<rect x="770.1" y="355.7" width="1.3" height="1.3" fill="#a29a80"/>
<rect x="706.2" y="334.9" width="1.3" height="1.3" fill="#bdb59a"/>
<rect x="795.0" y="330.2" width="1.3" height="1.3" fill="#c4bda3"/>
<rect x="755.1" y="330.0" width="1.3" height="1.3" fill="#bdb59a"/>
<rect x="733.6" y="345.3" width="1.3" height="1.3" fill="#bdb59a"/>
<rect x="708.6" y="332.5" width="1.3" height="1.3" fill="#c4bda3"/>
<rect x="825.4" y="349.4" width="1.3" height="1.3" fill="#b4ac90"/>
<rect x="765.1" y="358.8" width="1.3" height="1.3" fill="#a29a80"/>
<rect x="701.1" y="328.6" width="1.3" height="1.3" fill="#8e8670"/>
<rect x="788.7" y="359.3" width="1.3" height="1.3" fill="#9a9276"/>
<rect x="775.2" y="330.4" width="1.3" height="1.3" fill="#9a9276"/>
<rect x="792.6" y="338.4" width="1.3" height="1.3" fill="#9a9276"/>
<rect x="706.4" y="345.7" width="1.3" height="1.3" fill="#b4ac90"/>
<rect x="702.3" y="358.4" width="1.3" height="1.3" fill="#b4ac90"/>
<rect x="789.0" y="353.8" width="1.3" height="1.3" fill="#8e8670"/>
<rect x="742.8" y="350.3" width="1.3" height="1.3" fill="#9a9276"/>
<rect x="811.0" y="341.6" width="1.3" height="1.3" fill="#9a9276"/>
<rect x="810.0" y="346.6" width="1.3" height="1.3" fill="#a29a80"/>
<rect x="783.6" y="340.3" width="1.3" height="1.3" fill="#9a9276"/>
<rect x="776.6" y="330.6" width="1.3" height="1.3" fill="#b4ac90"/>
<rect x="711.7" y="336.4" width="1.3" height="1.3" fill="#c4bda3"/>
<rect x="792.3" y="340.6" width="1.3" height="1.3" fill="#b4ac90"/>
<rect x="787.8" y="342.9" width="1.3" height="1.3" fill="#c4bda3"/>
<rect x="806.7" y="330.7" width="1.3" height="1.3" fill="#a29a80"/>
<rect x="700.4" y="347.5" width="1.3" height="1.3" fill="#c4bda3"/>
<rect x="699.4" y="359.1" width="1.3" height="1.3" fill="#9a9276"/>
<rect x="761.9" y="348.0" width="1.3" height="1.3" fill="#c4bda3"/>
<rect x="730.1" y="328.4" width="1.3" height="1.3" fill="#8e8670"/>
<rect x="715.3" y="347.9" width="1.3" height="1.3" fill="#a29a80"/>
<rect x="718.8" y="357.4" width="1.3" height="1.3" fill="#b4ac90"/>
<rect x="818.8" y="344.2" width="1.3" height="1.3" fill="#bdb59a"/>
<rect x="739.5" y="349.6" width="1.3" height="1.3" fill="#bdb59a"/>
<rect x="779.9" y="354.1" width="1.3" height="1.3" fill="#bdb59a"/>
<rect x="812.3" y="340.5" width="1.3" height="1.3" fill="#a29a80"/>
<rect x="817.6" y="334.8" width="1.3" height="1.3" fill="#bdb59a"/>
<rect x="761.8" y="355.2" width="1.3" height="1.3" fill="#9a9276"/>
<rect x="790.0" y="358.9" width="1.3" height="1.3" fill="#8e8670"/>
<rect x="804.6" y="331.7" width="1.3" height="1.3" fill="#c4bda3"/>
<rect x="732.7" y="335.0" width="1.3" height="1.3" fill="#c4bda3"/>
<rect x="746.8" y="344.9" width="1.3" height="1.3" fill="#b4ac90"/>
<rect x="738.0" y="355.3" width="1.3" height="1.3" fill="#a29a80"/>
<rect x="756.0" y="330.4" width="1.3" height="1.3" fill="#9a9276"/>
<rect x="733.1" y="347.7" width="1.3" height="1.3" fill="#b4ac90"/>
<rect x="789.7" y="346.5" width="1.3" height="1.3" fill="#8e8670"/>
<rect x="781.9" y="346.3" width="1.3" height="1.3" fill="#b4ac90"/>
<rect x="714.4" y="342.8" width="1.3" height="1.3" fill="#9a9276"/>
<rect x="797.7" y="336.7" width="1.3" height="1.3" fill="#bdb59a"/>
<rect x="801.3" y="360.0" width="1.3" height="1.3" fill="#9a9276"/>
<rect x="755.2" y="348.5" width="1.3" height="1.3" fill="#b4ac90"/>
<rect x="780.6" y="340.0" width="1.3" height="1.3" fill="#9a9276"/>
<rect x="786.5" y="334.5" width="1.3" height="1.3" fill="#c4bda3"/>
<rect x="730.2" y="351.2" width="1.3" height="1.3" fill="#c4bda3"/>
<rect x="766.8" y="329.2" width="1.3" height="1.3" fill="#bdb59a"/>
<rect x="732.3" y="339.2" width="1.3" height="1.3" fill="#b4ac90"/>
<rect x="821.0" y="344.3" width="1.3" height="1.3" fill="#bdb59a"/>
<rect x="748.2" y="353.7" width="1.3" height="1.3" fill="#bdb59a"/>
<rect x="708.0" y="358.3" width="1.3" height="1.3" fill="#b4ac90"/>
<rect x="747.5" y="342.6" width="1.3" height="1.3" fill="#bdb59a"/>
<rect x="778.8" y="357.6" width="1.3" height="1.3" fill="#c4bda3"/>
<rect x="768.8" y="349.2" width="1.3" height="1.3" fill="#a29a80"/>
<rect x="801.3" y="358.7" width="1.3" height="1.3" fill="#c4bda3"/>
<rect x="739.4" y="359.9" width="1.3" height="1.3" fill="#9a9276"/>
<rect x="791.4" y="354.6" width="1.3" height="1.3" fill="#b4ac90"/>
<rect x="818.0" y="332.0" width="1.3" height="1.3" fill="#bdb59a"/>
<rect x="814.8" y="359.9" width="1.3" height="1.3" fill="#8e8670"/>
<rect x="767.1" y="353.7" width="1.3" height="1.3" fill="#8e8670"/>
<rect x="730.9" y="351.3" width="1.3" height="1.3" fill="#9a9276"/>
<rect x="742.3" y="330.7" width="1.3" height="1.3" fill="#c4bda3"/>
<rect x="741.5" y="341.7" width="1.3" height="1.3" fill="#8e8670"/>
<rect x="760.6" y="328.9" width="1.3" height="1.3" fill="#9a9276"/>
<rect x="752.9" y="329.1" width="1.3" height="1.3" fill="#a29a80"/>
<rect x="740.6" y="353.6" width="1.3" height="1.3" fill="#bdb59a"/>
<rect x="758.4" y="360.5" width="1.3" height="1.3" fill="#b4ac90"/>
<rect x="764.6" y="350.0" width="1.3" height="1.3" fill="#c4bda3"/>
<rect x="820.9" y="344.0" width="1.3" height="1.3" fill="#b4ac90"/>
<rect x="707.8" y="335.2" width="1.3" height="1.3" fill="#a29a80"/>
<rect x="770.0" y="355.0" width="1.3" height="1.3" fill="#a29a80"/>
<rect x="780.5" y="345.0" width="1.3" height="1.3" fill="#a29a80"/>
<rect x="730.2" y="349.8" width="1.3" height="1.3" fill="#a29a80"/>
<rect x="723.9" y="355.7" width="1.3" height="1.3" fill="#a29a80"/>
<rect x="765.4" y="346.6" width="1.3" height="1.3" fill="#bdb59a"/>
<rect x="750.6" y="331.7" width="1.3" height="1.3" fill="#9a9276"/>
<rect x="776.1" y="328.9" width="1.3" height="1.3" fill="#9a9276"/>
<rect x="764.4" y="341.0" width="1.3" height="1.3" fill="#a29a80"/>
<rect x="712.5" y="331.0" width="1.3" height="1.3" fill="#bdb59a"/>
<rect x="705.2" y="345.5" width="1.3" height="1.3" fill="#c4bda3"/>
<rect x="817.6" y="354.0" width="1.3" height="1.3" fill="#c4bda3"/>
<rect x="731.9" y="343.4" width="1.3" height="1.3" fill="#bdb59a"/>
<rect x="741.2" y="357.3" width="1.3" height="1.3" fill="#c4bda3"/>
<rect x="765.5" y="331.5" width="1.3" height="1.3" fill="#c4bda3"/>
<rect x="777.8" y="358.1" width="1.3" height="1.3" fill="#bdb59a"/>
<rect x="788.8" y="359.8" width="1.3" height="1.3" fill="#9a9276"/>
<rect x="722.0" y="335.4" width="1.3" height="1.3" fill="#b4ac90"/>
<rect x="733.9" y="351.5" width="1.3" height="1.3" fill="#bdb59a"/>
<rect x="778.0" y="331.4" width="1.3" height="1.3" fill="#b4ac90"/>
<rect x="773.1" y="355.7" width="1.3" height="1.3" fill="#a29a80"/>
<rect x="729.4" y="334.4" width="1.3" height="1.3" fill="#a29a80"/>
<rect x="812.1" y="328.8" width="1.3" height="1.3" fill="#b4ac90"/>
<rect x="750.9" y="345.2" width="1.3" height="1.3" fill="#bdb59a"/>
<rect x="767.3" y="356.1" width="1.3" height="1.3" fill="#a29a80"/>
<rect x="780.5" y="345.2" width="1.3" height="1.3" fill="#a29a80"/>
<rect x="776.9" y="355.8" width="1.3" height="1.3" fill="#bdb59a"/>
<rect x="816.8" y="348.4" width="1.3" height="1.3" fill="#8e8670"/>
<rect x="815.2" y="338.3" width="1.3" height="1.3" fill="#8e8670"/>
<rect x="813.6" y="334.3" width="1.3" height="1.3" fill="#bdb59a"/>
<rect x="813.2" y="332.4" width="1.3" height="1.3" fill="#bdb59a"/>
<rect x="713.9" y="330.9" width="1.3" height="1.3" fill="#c4bda3"/>
<rect x="709.3" y="355.0" width="1.3" height="1.3" fill="#c4bda3"/>
<rect x="767.9" y="350.9" width="1.3" height="1.3" fill="#bdb59a"/>
<rect x="749.5" y="350.3" width="1.3" height="1.3" fill="#9a9276"/>
<rect x="709.1" y="346.5" width="1.3" height="1.3" fill="#8e8670"/>
<rect x="816.3" y="359.5" width="1.3" height="1.3" fill="#9a9276"/>
<rect x="789.2" y="348.6" width="1.3" height="1.3" fill="#8e8670"/>
<rect x="762.6" y="350.3" width="1.3" height="1.3" fill="#bdb59a"/>
<rect x="802.1" y="343.7" width="1.3" height="1.3" fill="#9a9276"/>
<rect x="701.4" y="345.9" width="1.3" height="1.3" fill="#a29a80"/>
<rect x="815.5" y="343.6" width="1.3" height="1.3" fill="#bdb59a"/>
<rect x="720.8" y="334.6" width="1.3" height="1.3" fill="#bdb59a"/>
<rect x="826.7" y="358.1" width="1.3" height="1.3" fill="#9a9276"/>
<rect x="772.7" y="332.4" width="1.3" height="1.3" fill="#b4ac90"/>
<rect x="757.3" y="352.9" width="1.3" height="1.3" fill="#8e8670"/>
<rect x="747.9" y="341.9" width="1.3" height="1.3" fill="#8e8670"/>
<rect x="753.1" y="347.5" width="1.3" height="1.3" fill="#9a9276"/>
<rect x="779.9" y="329.3" width="1.3" height="1.3" fill="#bdb59a"/>
<rect x="720.3" y="342.8" width="1.3" height="1.3" fill="#b4ac90"/>
<rect x="745.2" y="358.0" width="1.3" height="1.3" fill="#a29a80"/>
<rect x="718.2" y="344.7" width="1.3" height="1.3" fill="#9a9276"/>
<rect x="739.1" y="330.8" width="1.3" height="1.3" fill="#b4ac90"/>
<rect x="811.6" y="357.5" width="1.3" height="1.3" fill="#c4bda3"/>
<rect x="771.4" y="334.2" width="1.3" height="1.3" fill="#a29a80"/>
<rect x="825.7" y="354.2" width="1.3" height="1.3" fill="#8e8670"/>
<rect x="733.3" y="331.8" width="1.3" height="1.3" fill="#b4ac90"/>
<rect x="798.8" y="354.5" width="1.3" height="1.3" fill="#c4bda3"/>
<rect x="714.0" y="338.7" width="1.3" height="1.3" fill="#a29a80"/>
<rect x="787.9" y="352.9" width="1.3" height="1.3" fill="#bdb59a"/>
<rect x="749.9" y="351.5" width="1.3" height="1.3" fill="#9a9276"/>
<rect x="801.3" y="337.8" width="1.3" height="1.3" fill="#9a9276"/>
<rect x="697.9" y="339.6" width="1.3" height="1.3" fill="#b4ac90"/>
<rect x="815.2" y="329.6" width="1.3" height="1.3" fill="#8e8670"/>
<rect x="820.7" y="349.6" width="1.3" height="1.3" fill="#8e8670"/>
<rect x="724.9" y="341.2" width="1.3" height="1.3" fill="#bdb59a"/>
<rect x="766.6" y="340.7" width="1.3" height="1.3" fill="#c4bda3"/>
<rect x="781.0" y="350.8" width="1.3" height="1.3" fill="#c4bda3"/>
<rect x="825.4" y="328.7" width="1.3" height="1.3" fill="#a29a80"/>
<rect x="710.7" y="335.7" width="1.3" height="1.3" fill="#c4bda3"/>
<rect x="749.3" y="329.6" width="1.3" height="1.3" fill="#bdb59a"/>
<rect x="781.7" y="328.4" width="1.3" height="1.3" fill="#8e8670"/>
<rect x="729.5" y="357.4" width="1.3" height="1.3" fill="#a29a80"/>
<rect x="767.6" y="341.5" width="1.3" height="1.3" fill="#a29a80"/>
<rect x="771.2" y="360.3" width="1.3" height="1.3" fill="#b4ac90"/>
<rect x="754.9" y="349.0" width="1.3" height="1.3" fill="#a29a80"/>
<rect x="775.1" y="352.7" width="1.3" height="1.3" fill="#9a9276"/>
<rect x="747.3" y="358.5" width="1.3" height="1.3" fill="#c4bda3"/>
<rect x="758.5" y="333.5" width="1.3" height="1.3" fill="#c4bda3"/>
<rect x="767.8" y="347.4" width="1.3" height="1.3" fill="#c4bda3"/>
<rect x="820.8" y="341.7" width="1.3" height="1.3" fill="#a29a80"/>
<rect x="748.9" y="338.2" width="1.3" height="1.3" fill="#a29a80"/>
<rect x="734.1" y="349.3" width="1.3" height="1.3" fill="#a29a80"/>
<rect x="818.7" y="349.6" width="1.3" height="1.3" fill="#b4ac90"/>
<rect x="735.4" y="328.5" width="1.3" height="1.3" fill="#bdb59a"/>
<rect x="773.5" y="348.6" width="1.3" height="1.3" fill="#c4bda3"/>
<rect x="795.7" y="340.7" width="1.3" height="1.3" fill="#8e8670"/>
<rect x="794.9" y="329.6" width="1.3" height="1.3" fill="#b4ac90"/>
<rect x="820.7" y="330.4" width="1.3" height="1.3" fill="#bdb59a"/>
<rect x="753.0" y="343.5" width="1.3" height="1.3" fill="#bdb59a"/>
<rect x="702.5" y="331.2" width="1.3" height="1.3" fill="#b4ac90"/>
<rect x="816.1" y="332.7" width="1.3" height="1.3" fill="#bdb59a"/>
<rect x="775.9" y="331.7" width="1.3" height="1.3" fill="#a29a80"/>
<rect x="751.4" y="331.8" width="1.3" height="1.3" fill="#9a9276"/>
<rect x="743.4" y="333.0" width="1.3" height="1.3" fill="#8e8670"/>
<rect x="754.7" y="349.7" width="1.3" height="1.3" fill="#c4bda3"/>
<rect x="775.5" y="348.8" width="1.3" height="1.3" fill="#b4ac90"/>
<rect x="751.7" y="353.3" width="1.3" height="1.3" fill="#a29a80"/>
<rect x="803.7" y="332.5" width="1.3" height="1.3" fill="#8e8670"/>
<rect x="793.1" y="335.7" width="1.3" height="1.3" fill="#9a9276"/>
<rect x="762.6" y="338.0" width="1.3" height="1.3" fill="#a29a80"/>
<rect x="778.7" y="339.7" width="1.3" height="1.3" fill="#8e8670"/>
<rect x="776.7" y="351.6" width="1.3" height="1.3" fill="#b4ac90"/>
<rect x="774.3" y="348.6" width="1.3" height="1.3" fill="#bdb59a"/>
<rect x="721.5" y="336.1" width="1.3" height="1.3" fill="#b4ac90"/>
<rect x="816.9" y="356.6" width="1.3" height="1.3" fill="#9a9276"/>
<rect x="779.1" y="328.3" width="1.3" height="1.3" fill="#8e8670"/>
<rect x="752.4" y="348.3" width="1.3" height="1.3" fill="#9a9276"/>
<rect x="725.8" y="337.0" width="1.3" height="1.3" fill="#9a9276"/>
<rect x="816.5" y="333.2" width="1.3" height="1.3" fill="#bdb59a"/>
<rect x="779.5" y="340.1" width="1.3" height="1.3" fill="#c4bda3"/>
<rect x="743.1" y="339.0" width="1.3" height="1.3" fill="#c4bda3"/>
<rect x="794.4" y="355.3" width="1.3" height="1.3" fill="#9a9276"/>
<rect x="802.0" y="342.5" width="1.3" height="1.3" fill="#a29a80"/>
<rect x="806.7" y="353.0" width="1.3" height="1.3" fill="#c4bda3"/>
<rect x="752.3" y="336.4" width="1.3" height="1.3" fill="#bdb59a"/>
<rect x="745.0" y="349.2" width="1.3" height="1.3" fill="#a29a80"/>
<rect x="739.3" y="345.8" width="1.3" height="1.3" fill="#b4ac90"/>
<rect x="805.1" y="334.0" width="1.3" height="1.3" fill="#b4ac90"/>
<rect x="745.1" y="331.2" width="1.3" height="1.3" fill="#8e8670"/>
<rect x="706.8" y="330.7" width="1.3" height="1.3" fill="#a29a80"/>
<rect x="771.2" y="354.5" width="1.3" height="1.3" fill="#c4bda3"/>
<rect x="735.8" y="353.2" width="1.3" height="1.3" fill="#9a9276"/>
<rect x="737.3" y="357.6" width="1.3" height="1.3" fill="#a29a80"/>
<rect x="707.2" y="337.9" width="1.3" height="1.3" fill="#b4ac90"/>
<rect x="797.0" y="338.7" width="1.3" height="1.3" fill="#bdb59a"/>
<rect x="725.3" y="349.4" width="1.3" height="1.3" fill="#8e8670"/>
<rect x="744.7" y="331.8" width="1.3" height="1.3" fill="#b4ac90"/>
<rect x="754.5" y="347.3" width="1.3" height="1.3" fill="#b4ac90"/>
<rect x="816.6" y="342.2" width="1.3" height="1.3" fill="#8e8670"/>
<rect x="756.8" y="335.2" width="1.3" height="1.3" fill="#b4ac90"/>
<rect x="814.2" y="336.1" width="1.3" height="1.3" fill="#8e8670"/>
<rect x="805.5" y="328.8" width="1.3" height="1.3" fill="#b4ac90"/>
<rect x="748.5" y="340.6" width="1.3" height="1.3" fill="#bdb59a"/>
<rect x="793.7" y="340.0" width="1.3" height="1.3" fill="#c4bda3"/>
<rect x="767.6" y="355.2" width="1.3" height="1.3" fill="#a29a80"/>
<rect x="719.8" y="330.9" width="1.3" height="1.3" fill="#c4bda3"/>
<rect x="812.3" y="337.1" width="1.3" height="1.3" fill="#9a9276"/>
<rect x="725.6" y="329.9" width="1.3" height="1.3" fill="#bdb59a"/>
<rect x="771.1" y="359.4" width="1.3" height="1.3" fill="#b4ac90"/>
<rect x="807.2" y="341.7" width="1.3" height="1.3" fill="#a29a80"/>
<rect x="768.4" y="353.6" width="1.3" height="1.3" fill="#9a9276"/>
<rect x="740.5" y="336.9" width="1.3" height="1.3" fill="#9a9276"/>
<rect x="814.7" y="330.8" width="1.3" height="1.3" fill="#b4ac90"/>
<rect x="782.4" y="331.2" width="1.3" height="1.3" fill="#b4ac90"/>
<rect x="752.0" y="351.1" width="1.3" height="1.3" fill="#c4bda3"/>
<rect x="797.1" y="345.0" width="1.3" height="1.3" fill="#c4bda3"/>
<rect x="748.4" y="339.0" width="1.3" height="1.3" fill="#8e8670"/>
<rect x="784.9" y="344.0" width="1.3" height="1.3" fill="#a29a80"/>
<rect x="802.3" y="330.4" width="1.3" height="1.3" fill="#a29a80"/>
<rect x="816.8" y="341.3" width="1.3" height="1.3" fill="#b4ac90"/>
<rect x="742.4" y="328.1" width="1.3" height="1.3" fill="#c4bda3"/>
<rect x="806.1" y="356.9" width="1.3" height="1.3" fill="#a29a80"/>
<rect x="780.7" y="345.0" width="1.3" height="1.3" fill="#b4ac90"/>
<rect x="697.8" y="331.6" width="1.3" height="1.3" fill="#c4bda3"/>
<rect x="816.9" y="336.0" width="1.3" height="1.3" fill="#bdb59a"/>
<rect x="826.8" y="340.2" width="1.3" height="1.3" fill="#bdb59a"/>
<rect x="738.7" y="340.7" width="1.3" height="1.3" fill="#a29a80"/>
<rect x="734.9" y="359.5" width="1.3" height="1.3" fill="#9a9276"/>
<rect x="758.5" y="351.8" width="1.3" height="1.3" fill="#8e8670"/>
<rect x="781.7" y="353.2" width="1.3" height="1.3" fill="#bdb59a"/>
<rect x="816.5" y="352.5" width="1.3" height="1.3" fill="#9a9276"/>
<rect x="773.3" y="357.6" width="1.3" height="1.3" fill="#9a9276"/>
<rect x="737.6" y="334.4" width="1.3" height="1.3" fill="#8e8670"/>
<rect x="725.1" y="335.7" width="1.3" height="1.3" fill="#b4ac90"/>
<rect x="758.6" y="344.5" width="1.3" height="1.3" fill="#c4bda3"/>
<rect x="720.8" y="337.1" width="1.3" height="1.3" fill="#bdb59a"/>
<rect x="816.3" y="358.5" width="1.3" height="1.3" fill="#b4ac90"/>
<rect x="768.6" y="354.6" width="1.3" height="1.3" fill="#c4bda3"/>
<rect x="808.7" y="343.8" width="1.3" height="1.3" fill="#c4bda3"/>
<rect x="816.7" y="339.1" width="1.3" height="1.3" fill="#a29a80"/>
<rect x="798.0" y="331.0" width="1.3" height="1.3" fill="#bdb59a"/>
<rect x="749.0" y="335.1" width="1.3" height="1.3" fill="#bdb59a"/>
<rect x="801.9" y="340.5" width="1.3" height="1.3" fill="#a29a80"/>
<rect x="801.0" y="353.2" width="1.3" height="1.3" fill="#9a9276"/>
<rect x="783.0" y="335.7" width="1.3" height="1.3" fill="#9a9276"/>
<rect x="811.4" y="357.4" width="1.3" height="1.3" fill="#c4bda3"/>
<rect x="801.3" y="351.2" width="1.3" height="1.3" fill="#a29a80"/>
<rect x="811.5" y="341.5" width="1.3" height="1.3" fill="#8e8670"/>
<rect x="715.5" y="357.5" width="1.3" height="1.3" fill="#a29a80"/>
<rect x="713.7" y="352.1" width="1.3" height="1.3" fill="#a29a80"/>
<rect x="731.5" y="345.4" width="1.3" height="1.3" fill="#bdb59a"/>
<rect x="771.7" y="333.8" width="1.3" height="1.3" fill="#bdb59a"/>
<rect x="804.5" y="355.5" width="1.3" height="1.3" fill="#bdb59a"/>
<rect x="707.3" y="336.8" width="1.3" height="1.3" fill="#b4ac90"/>
<rect x="765.9" y="356.9" width="1.3" height="1.3" fill="#b4ac90"/>
<rect x="758.1" y="359.1" width="1.3" height="1.3" fill="#a29a80"/>
<rect x="768.0" y="344.4" width="1.3" height="1.3" fill="#9a9276"/>
<rect x="800.3" y="341.6" width="1.3" height="1.3" fill="#b4ac90"/>
<rect x="708.5" y="354.9" width="1.3" height="1.3" fill="#bdb59a"/>
<rect x="701.4" y="341.4" width="1.3" height="1.3" fill="#c4bda3"/>
<rect x="717.2" y="355.0" width="1.3" height="1.3" fill="#8e8670"/>
<rect x="738.1" y="341.2" width="1.3" height="1.3" fill="#a29a80"/>
<rect x="736.7" y="343.2" width="1.3" height="1.3" fill="#b4ac90"/>
<rect x="705.3" y="330.4" width="1.3" height="1.3" fill="#bdb59a"/>
<rect x="710.4" y="340.8" width="1.3" height="1.3" fill="#c4bda3"/>
<rect x="794.7" y="353.5" width="1.3" height="1.3" fill="#9a9276"/>
<rect x="782.5" y="328.4" width="1.3" height="1.3" fill="#c4bda3"/>
<rect x="790.1" y="343.4" width="1.3" height="1.3" fill="#8e8670"/>
<rect x="770.7" y="342.9" width="1.3" height="1.3" fill="#9a9276"/>
<rect x="809.1" y="355.4" width="1.3" height="1.3" fill="#b4ac90"/>
<rect x="723.7" y="348.0" width="1.3" height="1.3" fill="#8e8670"/>
<rect x="779.1" y="358.5" width="1.3" height="1.3" fill="#b4ac90"/>
<rect x="735.7" y="339.0" width="1.3" height="1.3" fill="#c4bda3"/>
<rect x="769.6" y="330.8" width="1.3" height="1.3" fill="#bdb59a"/>
<rect x="722.8" y="351.8" width="1.3" height="1.3" fill="#8e8670"/>
<rect x="737.2" y="336.9" width="1.3" height="1.3" fill="#c4bda3"/>
<rect x="791.7" y="338.8" width="1.3" height="1.3" fill="#c4bda3"/>
<rect x="708.6" y="332.6" width="1.3" height="1.3" fill="#9a9276"/>
<rect x="713.8" y="348.5" width="1.3" height="1.3" fill="#bdb59a"/>
<rect x="720.2" y="341.1" width="1.3" height="1.3" fill="#c4bda3"/>
<rect x="774.4" y="330.9" width="1.3" height="1.3" fill="#bdb59a"/>
<rect x="700.8" y="360.1" width="1.3" height="1.3" fill="#c4bda3"/>
<rect x="750.0" y="330.4" width="1.3" height="1.3" fill="#c4bda3"/>
<rect x="818.4" y="332.5" width="1.3" height="1.3" fill="#bdb59a"/>
<rect x="797.3" y="354.7" width="1.3" height="1.3" fill="#c4bda3"/>
<rect x="760.0" y="357.9" width="1.3" height="1.3" fill="#a29a80"/>
<rect x="698.5" y="341.0" width="1.3" height="1.3" fill="#b4ac90"/>
<rect x="738.3" y="353.6" width="1.3" height="1.3" fill="#bdb59a"/>
<rect x="783.3" y="347.8" width="1.3" height="1.3" fill="#9a9276"/>
<rect x="730.8" y="334.1" width="1.3" height="1.3" fill="#8e8670"/>
<rect x="782.1" y="331.5" width="1.3" height="1.3" fill="#c4bda3"/>
<rect x="723.4" y="338.8" width="1.3" height="1.3" fill="#8e8670"/>
<rect x="805.0" y="347.9" width="1.3" height="1.3" fill="#bdb59a"/>
<rect x="729.9" y="345.5" width="1.3" height="1.3" fill="#8e8670"/>
<rect x="768.6" y="339.5" width="1.3" height="1.3" fill="#a29a80"/>
<rect x="764.0" y="346.7" width="1.3" height="1.3" fill="#bdb59a"/>
<rect x="826.3" y="344.8" width="1.3" height="1.3" fill="#b4ac90"/>
<rect x="789.4" y="358.4" width="1.3" height="1.3" fill="#a29a80"/>
<rect x="820.8" y="348.4" width="1.3" height="1.3" fill="#bdb59a"/>
<rect x="798.6" y="332.4" width="1.3" height="1.3" fill="#c4bda3"/>
<rect x="772.3" y="350.7" width="1.3" height="1.3" fill="#8e8670"/>
<rect x="708.6" y="356.4" width="1.3" height="1.3" fill="#8e8670"/>
<rect x="757.4" y="332.0" width="1.3" height="1.3" fill="#b4ac90"/>
<rect x="714.3" y="357.4" width="1.3" height="1.3" fill="#a29a80"/>
<rect x="768.3" y="330.1" width="1.3" height="1.3" fill="#8e8670"/>
<rect x="718.7" y="352.2" width="1.3" height="1.3" fill="#8e8670"/>
<rect x="775.6" y="332.0" width="1.3" height="1.3" fill="#9a9276"/>
<rect x="734.4" y="357.2" width="1.3" height="1.3" fill="#bdb59a"/>
<rect x="796.2" y="339.8" width="1.3" height="1.3" fill="#bdb59a"/>
<rect x="720.9" y="345.8" width="1.3" height="1.3" fill="#9a9276"/>
<rect x="756.2" y="341.1" width="1.3" height="1.3" fill="#b4ac90"/>
<rect x="714.7" y="352.6" width="1.3" height="1.3" fill="#b4ac90"/>
<rect x="815.7" y="348.0" width="1.3" height="1.3" fill="#b4ac90"/>
<rect x="802.2" y="328.5" width="1.3" height="1.3" fill="#bdb59a"/>
<rect x="750.7" y="329.1" width="1.3" height="1.3" fill="#a29a80"/>
<rect x="747.3" y="346.5" width="1.3" height="1.3" fill="#bdb59a"/>
<rect x="740.7" y="332.3" width="1.3" height="1.3" fill="#bdb59a"/>
<rect x="771.2" y="338.8" width="1.3" height="1.3" fill="#b4ac90"/>
<rect x="799.6" y="351.5" width="1.3" height="1.3" fill="#bdb59a"/>
<rect x="749.5" y="344.2" width="1.3" height="1.3" fill="#9a9276"/>
<rect x="758.3" y="341.4" width="1.3" height="1.3" fill="#a29a80"/>
<rect x="816.6" y="346.4" width="1.3" height="1.3" fill="#c4bda3"/>
<rect x="795.4" y="343.8" width="1.3" height="1.3" fill="#c4bda3"/>
<rect x="806.7" y="355.8" width="1.3" height="1.3" fill="#c4bda3"/>
<rect x="805.0" y="331.8" width="1.3" height="1.3" fill="#9a9276"/>
<rect x="815.5" y="345.1" width="1.3" height="1.3" fill="#a29a80"/>
<rect x="765.0" y="341.7" width="1.3" height="1.3" fill="#9a9276"/>
<rect x="738.7" y="329.8" width="1.3" height="1.3" fill="#b4ac90"/>
<rect x="777.5" y="342.1" width="1.3" height="1.3" fill="#c4bda3"/>
<rect x="775.1" y="352.4" width="1.3" height="1.3" fill="#8e8670"/>
<rect x="812.6" y="356.5" width="1.3" height="1.3" fill="#bdb59a"/>
<rect x="712.9" y="342.5" width="1.3" height="1.3" fill="#a29a80"/>
<rect x="811.3" y="359.6" width="1.3" height="1.3" fill="#c4bda3"/>
<rect x="787.9" y="345.1" width="1.3" height="1.3" fill="#bdb59a"/>
<rect x="768.2" y="349.3" width="1.3" height="1.3" fill="#bdb59a"/>
<rect x="812.2" y="360.5" width="1.3" height="1.3" fill="#b4ac90"/>
<rect x="823.6" y="349.6" width="1.3" height="1.3" fill="#a29a80"/>
<rect x="751.9" y="354.2" width="1.3" height="1.3" fill="#bdb59a"/>
<rect x="781.9" y="341.7" width="1.3" height="1.3" fill="#9a9276"/>
<rect x="815.3" y="331.2" width="1.3" height="1.3" fill="#bdb59a"/>
<rect x="712.8" y="345.5" width="1.3" height="1.3" fill="#c4bda3"/>
<rect x="696.6" y="335.9" width="1.3" height="1.3" fill="#8e8670"/>
<rect x="699.6" y="333.6" width="1.3" height="1.3" fill="#c4bda3"/>
<rect x="814.2" y="354.5" width="1.3" height="1.3" fill="#c4bda3"/>
<rect x="715.1" y="350.5" width="1.3" height="1.3" fill="#bdb59a"/>
<rect x="702.5" y="329.0" width="1.3" height="1.3" fill="#8e8670"/>
<rect x="737.0" y="344.2" width="1.3" height="1.3" fill="#c4bda3"/>
<rect x="812.1" y="334.6" width="1.3" height="1.3" fill="#b4ac90"/>
<rect x="814.4" y="334.4" width="1.3" height="1.3" fill="#8e8670"/>
<rect x="814.8" y="328.5" width="1.3" height="1.3" fill="#b4ac90"/>
<rect x="812.2" y="360.4" width="1.3" height="1.3" fill="#bdb59a"/>
<rect x="766.6" y="335.7" width="1.3" height="1.3" fill="#9a9276"/>
<rect x="782.0" y="337.9" width="1.3" height="1.3" fill="#8e8670"/>
<rect x="822.9" y="336.9" width="1.3" height="1.3" fill="#c4bda3"/>
<rect x="790.3" y="332.4" width="1.3" height="1.3" fill="#b4ac90"/>
<rect x="822.3" y="353.3" width="1.3" height="1.3" fill="#c4bda3"/>
<rect x="706.9" y="335.3" width="1.3" height="1.3" fill="#8e8670"/>
<rect x="712.4" y="350.5" width="1.3" height="1.3" fill="#8e8670"/>
<rect x="720.3" y="335.7" width="1.3" height="1.3" fill="#b4ac90"/>
<rect x="735.4" y="336.9" width="1.3" height="1.3" fill="#b4ac90"/>
<rect x="765.5" y="331.8" width="1.3" height="1.3" fill="#a29a80"/>
<rect x="726.6" y="337.8" width="1.3" height="1.3" fill="#bdb59a"/>
<rect x="784.2" y="337.0" width="1.3" height="1.3" fill="#b4ac90"/>
<rect x="784.3" y="343.0" width="1.3" height="1.3" fill="#9a9276"/>
<rect x="754.4" y="345.2" width="1.3" height="1.3" fill="#a29a80"/>
<rect x="815.8" y="328.2" width="1.3" height="1.3" fill="#a29a80"/>
<rect x="733.9" y="336.2" width="1.3" height="1.3" fill="#a29a80"/>
<rect x="708.0" y="337.3" width="1.3" height="1.3" fill="#bdb59a"/>
<rect x="728.8" y="337.1" width="1.3" height="1.3" fill="#a29a80"/>
<rect x="700.3" y="353.7" width="1.3" height="1.3" fill="#bdb59a"/>
<rect x="826.4" y="329.1" width="1.3" height="1.3" fill="#c4bda3"/>
<rect x="817.0" y="347.0" width="1.3" height="1.3" fill="#9a9276"/>
<rect x="818.7" y="344.2" width="1.3" height="1.3" fill="#bdb59a"/>
<rect x="704.9" y="353.2" width="1.3" height="1.3" fill="#8e8670"/>
<rect x="738.7" y="343.7" width="1.3" height="1.3" fill="#9a9276"/>
<rect x="764.5" y="344.4" width="1.3" height="1.3" fill="#b4ac90"/>
<rect x="786.5" y="344.9" width="1.3" height="1.3" fill="#a29a80"/>
<rect x="719.4" y="353.3" width="1.3" height="1.3" fill="#bdb59a"/>
<rect x="711.2" y="342.2" width="1.3" height="1.3" fill="#b4ac90"/>
<rect x="754.4" y="353.1" width="1.3" height="1.3" fill="#b4ac90"/>
<rect x="800.5" y="335.7" width="1.3" height="1.3" fill="#c4bda3"/>
<rect x="768.1" y="355.7" width="1.3" height="1.3" fill="#a29a80"/>
<rect x="762.1" y="329.1" width="1.3" height="1.3" fill="#a29a80"/>
<rect x="824.1" y="329.7" width="1.3" height="1.3" fill="#c4bda3"/>
<rect x="811.3" y="333.9" width="1.3" height="1.3" fill="#bdb59a"/>
<rect x="776.5" y="347.8" width="1.3" height="1.3" fill="#c4bda3"/>
<rect x="762.7" y="351.5" width="1.3" height="1.3" fill="#9a9276"/>
<rect x="706.0" y="357.5" width="1.3" height="1.3" fill="#a29a80"/>
<rect x="780.6" y="346.8" width="1.3" height="1.3" fill="#b4ac90"/>
<rect x="727.8" y="332.8" width="1.3" height="1.3" fill="#8e8670"/>
<rect x="752.4" y="350.6" width="1.3" height="1.3" fill="#a29a80"/>
<rect x="793.6" y="353.4" width="1.3" height="1.3" fill="#a29a80"/>
<rect x="762.0" y="349.1" width="1.3" height="1.3" fill="#a29a80"/>
<rect x="719.1" y="336.3" width="1.3" height="1.3" fill="#bdb59a"/>
<rect x="761.8" y="349.4" width="1.3" height="1.3" fill="#a29a80"/>
<rect x="800.0" y="330.0" width="1.3" height="1.3" fill="#c4bda3"/>
<rect x="757.9" y="350.7" width="1.3" height="1.3" fill="#b4ac90"/>
<rect x="824.1" y="329.4" width="1.3" height="1.3" fill="#c4bda3"/>
<rect x="795.8" y="347.5" width="1.3" height="1.3" fill="#bdb59a"/>
<rect x="715.5" y="342.8" width="1.3" height="1.3" fill="#b4ac90"/>
<rect x="826.1" y="328.1" width="1.3" height="1.3" fill="#c4bda3"/>
<rect x="813.5" y="332.6" width="1.3" height="1.3" fill="#c4bda3"/>
<rect x="769.6" y="343.3" width="1.3" height="1.3" fill="#9a9276"/>
<rect x="824.3" y="350.1" width="1.3" height="1.3" fill="#b4ac90"/>
<rect x="796.9" y="351.9" width="1.3" height="1.3" fill="#bdb59a"/>
<rect x="735.4" y="331.9" width="1.3" height="1.3" fill="#bdb59a"/>
<rect x="751.5" y="330.8" width="1.3" height="1.3" fill="#bdb59a"/>
<rect x="744.4" y="339.0" width="1.3" height="1.3" fill="#a29a80"/>
<rect x="725.2" y="333.2" width="1.3" height="1.3" fill="#a29a80"/>
<rect x="781.9" y="329.9" width="1.3" height="1.3" fill="#8e8670"/>
<rect x="771.1" y="357.6" width="1.3" height="1.3" fill="#a29a80"/>
<rect x="818.0" y="333.8" width="1.3" height="1.3" fill="#c4bda3"/>
<rect x="819.5" y="334.9" width="1.3" height="1.3" fill="#c4bda3"/>
<rect x="799.2" y="335.0" width="1.3" height="1.3" fill="#8e8670"/>
<rect x="728.9" y="353.8" width="1.3" height="1.3" fill="#bdb59a"/>
<rect x="759.6" y="341.0" width="1.3" height="1.3" fill="#a29a80"/>
<rect x="758.0" y="338.0" width="1.3" height="1.3" fill="#c4bda3"/>
<rect x="761.0" y="348.4" width="1.3" height="1.3" fill="#bdb59a"/>
<rect x="809.9" y="334.6" width="1.3" height="1.3" fill="#c4bda3"/>
<rect x="751.6" y="329.5" width="1.3" height="1.3" fill="#8e8670"/>
<rect x="744.2" y="336.9" width="1.3" height="1.3" fill="#9a9276"/>
<rect x="764.7" y="352.1" width="1.3" height="1.3" fill="#a29a80"/>
<rect x="748.2" y="358.0" width="1.3" height="1.3" fill="#b4ac90"/>
<rect x="725.1" y="331.4" width="1.3" height="1.3" fill="#9a9276"/>
<rect x="716.7" y="358.4" width="1.3" height="1.3" fill="#8e8670"/>
<rect x="714.5" y="335.8" width="1.3" height="1.3" fill="#9a9276"/>
<rect x="699.2" y="338.5" width="1.3" height="1.3" fill="#c4bda3"/>
<rect x="755.7" y="355.8" width="1.3" height="1.3" fill="#c4bda3"/>
<rect x="739.3" y="353.0" width="1.3" height="1.3" fill="#a29a80"/>
<rect x="784.5" y="337.8" width="1.3" height="1.3" fill="#a29a80"/>
<rect x="727.8" y="329.3" width="1.3" height="1.3" fill="#bdb59a"/>
<rect x="764.1" y="332.1" width="1.3" height="1.3" fill="#bdb59a"/>
<rect x="737.6" y="341.8" width="1.3" height="1.3" fill="#a29a80"/>
<rect x="787.8" y="344.8" width="1.3" height="1.3" fill="#a29a80"/>
<rect x="730.7" y="351.6" width="1.3" height="1.3" fill="#b4ac90"/>
<rect x="746.1" y="356.6" width="1.3" height="1.3" fill="#8e8670"/>
<rect x="766.8" y="342.6" width="1.3" height="1.3" fill="#bdb59a"/>
<rect x="747.3" y="356.1" width="1.3" height="1.3" fill="#bdb59a"/>
<rect x="710.0" y="340.0" width="1.3" height="1.3" fill="#a29a80"/>
<rect x="724.9" y="329.3" width="1.3" height="1.3" fill="#9a9276"/>
<rect x="794.7" y="343.7" width="1.3" height="1.3" fill="#9a9276"/>
<rect x="802.9" y="359.7" width="1.3" height="1.3" fill="#8e8670"/>
<rect x="783.3" y="330.2" width="1.3" height="1.3" fill="#bdb59a"/>
<rect x="769.9" y="339.5" width="1.3" height="1.3" fill="#9a9276"/>
<rect x="822.1" y="356.2" width="1.3" height="1.3" fill="#bdb59a"/>
<path d="M762.4,328 L761.5,336 L763.2,344 L762.4,352 L764,361" stroke="#8a826a" stroke-width="1" fill="none"/>
<path d="M761,361.5 L763,354 L765,361.5 Z" fill="#55504a"/>
<path d="M717.5,343 Q722,339.5 726,342 Q726.5,344.5 718,350.5 L728,349.5" stroke="#1e1a22" stroke-width="1.5" fill="none" stroke-linecap="round"/>
<path d="M786,344 Q790,341 793.5,343 Q793.5,345.5 786,350.5 L794.5,350" stroke="#1e1a22" stroke-width="1.5" fill="none" stroke-linecap="round"/>
<rect x="732.1" y="369.1" width="66.1" height="54.6" fill="#ebebea"/>
<rect x="732.1" y="369.1" width="66.1" height="4.5" fill="#4a463c"/>
<rect x="732.1" y="398.5" width="66.1" height="3.2" fill="#3c3a34"/>
<rect x="732.1" y="404" width="66.1" height="19.7" fill="#dcdcda"/>
<ellipse cx="765" cy="414" rx="32" ry="5" fill="none" stroke="#9a9a96" stroke-width="0.8"/>
<rect x="738.4" y="373.2" width="49" height="45.3" fill="#756040"/>
<rect x="740" y="418.5" width="47" height="4.5" fill="#5a4c38"/>
<circle cx="750.1" cy="397.8" r="1.33" fill="#a88850"/>
<circle cx="761.4" cy="399.4" r="1.33" fill="#201a10"/>
<circle cx="761.2" cy="398.1" r="1.40" fill="#d8c090"/>
<circle cx="761.3" cy="410.8" r="0.92" fill="#5a4424"/>
<circle cx="780.1" cy="383.8" r="1.29" fill="#3a2c18"/>
<circle cx="763.8" cy="406.6" r="0.73" fill="#2e2414"/>
<circle cx="784.8" cy="375.4" r="1.26" fill="#201a10"/>
<circle cx="751.6" cy="400.0" r="1.17" fill="#eadcb0"/>
<circle cx="783.0" cy="391.1" r="1.37" fill="#5a4424"/>
<circle cx="745.1" cy="389.8" r="0.71" fill="#201a10"/>
<circle cx="749.1" cy="416.6" r="1.22" fill="#eadcb0"/>
<circle cx="779.8" cy="392.3" r="1.06" fill="#eadcb0"/>
<circle cx="764.3" cy="391.7" r="1.32" fill="#d8c090"/>
<circle cx="771.5" cy="414.9" r="1.39" fill="#c8a870"/>
<circle cx="771.0" cy="380.8" r="1.37" fill="#a88850"/>
<circle cx="782.2" cy="398.9" r="1.11" fill="#d8c090"/>
<circle cx="786.2" cy="385.4" r="0.65" fill="#2e2414"/>
<circle cx="779.8" cy="417.6" r="0.88" fill="#2e2414"/>
<circle cx="741.8" cy="413.5" r="0.84" fill="#201a10"/>
<circle cx="775.7" cy="412.4" r="1.08" fill="#201a10"/>
<circle cx="775.3" cy="390.4" r="1.04" fill="#a88850"/>
<circle cx="783.0" cy="385.9" r="1.40" fill="#d8c090"/>
<circle cx="753.5" cy="376.9" r="1.36" fill="#201a10"/>
<circle cx="785.4" cy="386.5" r="0.72" fill="#c8a870"/>
<circle cx="740.6" cy="412.2" r="0.89" fill="#a88850"/>
<circle cx="745.3" cy="411.9" r="0.97" fill="#eadcb0"/>
<circle cx="763.7" cy="402.2" r="1.10" fill="#2e2414"/>
<circle cx="783.9" cy="396.1" r="1.11" fill="#eadcb0"/>
<circle cx="773.1" cy="415.3" r="1.38" fill="#eadcb0"/>
<circle cx="763.7" cy="398.0" r="1.23" fill="#201a10"/>
<circle cx="786.2" cy="387.5" r="1.09" fill="#eadcb0"/>
<circle cx="769.1" cy="376.2" r="0.97" fill="#a88850"/>
<circle cx="771.3" cy="389.2" r="1.19" fill="#c8a870"/>
<circle cx="739.7" cy="376.2" r="1.37" fill="#201a10"/>
<circle cx="750.7" cy="393.9" r="0.74" fill="#a88850"/>
<circle cx="747.5" cy="407.3" r="0.84" fill="#c8a870"/>
<circle cx="756.8" cy="407.9" r="1.38" fill="#201a10"/>
<circle cx="771.6" cy="379.4" r="1.12" fill="#d8c090"/>
<circle cx="751.6" cy="388.1" r="1.12" fill="#eadcb0"/>
<circle cx="743.3" cy="400.3" r="1.14" fill="#a88850"/>
<circle cx="749.4" cy="409.6" r="0.66" fill="#3a2c18"/>
<circle cx="774.4" cy="383.2" r="0.82" fill="#5a4424"/>
<circle cx="776.5" cy="375.0" r="0.85" fill="#d8c090"/>
<circle cx="778.9" cy="399.1" r="0.87" fill="#c8a870"/>
<circle cx="778.5" cy="377.3" r="1.07" fill="#a88850"/>
<circle cx="758.9" cy="396.6" r="0.97" fill="#c8a870"/>
<circle cx="769.2" cy="386.5" r="0.63" fill="#eadcb0"/>
<circle cx="758.5" cy="382.4" r="1.35" fill="#5a4424"/>
<circle cx="781.0" cy="417.5" r="1.05" fill="#eadcb0"/>
<circle cx="786.1" cy="405.5" r="1.20" fill="#201a10"/>
<circle cx="778.9" cy="403.1" r="1.04" fill="#c8a870"/>
<circle cx="781.5" cy="411.9" r="0.70" fill="#c8a870"/>
<circle cx="750.4" cy="375.1" r="1.32" fill="#d8c090"/>
<circle cx="782.0" cy="399.2" r="0.98" fill="#201a10"/>
<circle cx="744.4" cy="395.9" r="1.13" fill="#d8c090"/>
<circle cx="763.9" cy="392.0" r="0.87" fill="#2e2414"/>
<circle cx="750.8" cy="411.9" r="1.25" fill="#5a4424"/>
<circle cx="741.6" cy="383.3" r="1.03" fill="#2e2414"/>
<circle cx="778.0" cy="381.1" r="1.34" fill="#c8a870"/>
<circle cx="777.5" cy="410.2" r="0.99" fill="#201a10"/>
<circle cx="766.1" cy="391.4" r="0.80" fill="#c8a870"/>
<circle cx="768.4" cy="396.7" r="0.98" fill="#201a10"/>
<circle cx="776.0" cy="373.6" r="1.22" fill="#201a10"/>
<circle cx="740.8" cy="375.7" r="1.38" fill="#5a4424"/>
<circle cx="779.8" cy="377.3" r="0.85" fill="#5a4424"/>
<circle cx="753.8" cy="389.2" r="1.07" fill="#eadcb0"/>
<circle cx="756.0" cy="382.0" r="0.94" fill="#a88850"/>
<circle cx="744.8" cy="373.7" r="1.24" fill="#eadcb0"/>
<circle cx="765.9" cy="375.4" r="1.08" fill="#5a4424"/>
<circle cx="776.3" cy="390.5" r="1.10" fill="#201a10"/>
<circle cx="759.4" cy="390.1" r="1.21" fill="#5a4424"/>
<circle cx="753.8" cy="415.9" r="0.97" fill="#eadcb0"/>
<circle cx="750.4" cy="397.4" r="1.24" fill="#2e2414"/>
<circle cx="749.4" cy="379.3" r="1.35" fill="#201a10"/>
<circle cx="756.6" cy="413.5" r="0.70" fill="#c8a870"/>
<circle cx="771.9" cy="415.4" r="1.13" fill="#eadcb0"/>
<circle cx="774.0" cy="398.6" r="1.25" fill="#2e2414"/>
<circle cx="773.1" cy="394.6" r="1.22" fill="#d8c090"/>
<circle cx="740.7" cy="377.6" r="1.13" fill="#2e2414"/>
<circle cx="756.7" cy="410.0" r="1.27" fill="#a88850"/>
<circle cx="744.4" cy="411.1" r="1.27" fill="#5a4424"/>
<circle cx="784.5" cy="399.3" r="0.63" fill="#2e2414"/>
<circle cx="775.6" cy="396.3" r="0.69" fill="#d8c090"/>
<circle cx="774.7" cy="415.2" r="1.04" fill="#201a10"/>
<circle cx="780.5" cy="381.5" r="0.79" fill="#2e2414"/>
<circle cx="747.3" cy="384.6" r="0.80" fill="#eadcb0"/>
<circle cx="767.5" cy="415.4" r="1.37" fill="#eadcb0"/>
<circle cx="756.7" cy="384.0" r="1.27" fill="#eadcb0"/>
<circle cx="785.2" cy="392.0" r="0.72" fill="#5a4424"/>
<circle cx="757.9" cy="413.1" r="0.68" fill="#3a2c18"/>
<circle cx="774.7" cy="414.4" r="1.07" fill="#5a4424"/>
<circle cx="780.0" cy="379.6" r="0.72" fill="#d8c090"/>
<circle cx="763.5" cy="415.2" r="1.14" fill="#c8a870"/>
<circle cx="779.8" cy="400.0" r="1.31" fill="#c8a870"/>
<circle cx="753.4" cy="385.5" r="0.76" fill="#eadcb0"/>
<circle cx="766.1" cy="384.2" r="1.22" fill="#5a4424"/>
<circle cx="745.5" cy="417.7" r="1.16" fill="#5a4424"/>
<circle cx="748.5" cy="399.4" r="0.99" fill="#201a10"/>
<circle cx="773.3" cy="411.7" r="1.23" fill="#eadcb0"/>
<circle cx="781.1" cy="375.5" r="1.31" fill="#d8c090"/>
<circle cx="769.8" cy="408.2" r="1.37" fill="#2e2414"/>
<circle cx="779.8" cy="384.3" r="1.22" fill="#d8c090"/>
<circle cx="745.2" cy="401.2" r="1.32" fill="#201a10"/>
<circle cx="750.9" cy="412.1" r="0.75" fill="#a88850"/>
<circle cx="743.0" cy="409.1" r="0.67" fill="#2e2414"/>
<circle cx="778.8" cy="386.5" r="0.96" fill="#a88850"/>
<circle cx="774.0" cy="388.5" r="0.87" fill="#201a10"/>
<circle cx="759.6" cy="395.2" r="1.12" fill="#d8c090"/>
<circle cx="774.4" cy="395.4" r="1.04" fill="#3a2c18"/>
<circle cx="744.3" cy="385.8" r="0.69" fill="#eadcb0"/>
<circle cx="781.4" cy="414.0" r="1.02" fill="#2e2414"/>
<circle cx="772.4" cy="403.8" r="1.21" fill="#a88850"/>
<circle cx="752.8" cy="403.6" r="0.69" fill="#c8a870"/>
<circle cx="784.1" cy="388.6" r="1.13" fill="#2e2414"/>
<circle cx="763.1" cy="376.2" r="1.14" fill="#c8a870"/>
<circle cx="765.9" cy="381.6" r="0.74" fill="#3a2c18"/>
<circle cx="781.5" cy="402.7" r="0.69" fill="#2e2414"/>
<circle cx="765.6" cy="414.6" r="1.04" fill="#eadcb0"/>
<circle cx="769.8" cy="393.9" r="1.23" fill="#c8a870"/>
<circle cx="772.6" cy="378.3" r="1.20" fill="#3a2c18"/>
<circle cx="764.8" cy="406.5" r="0.68" fill="#a88850"/>
<circle cx="751.7" cy="375.9" r="0.63" fill="#3a2c18"/>
<circle cx="762.9" cy="384.5" r="1.30" fill="#a88850"/>
<circle cx="784.2" cy="393.5" r="0.88" fill="#2e2414"/>
<circle cx="779.4" cy="378.5" r="1.07" fill="#c8a870"/>
<circle cx="771.4" cy="398.7" r="0.75" fill="#2e2414"/>
<circle cx="747.7" cy="392.1" r="1.25" fill="#eadcb0"/>
<circle cx="774.7" cy="399.9" r="1.29" fill="#3a2c18"/>
<circle cx="777.1" cy="397.8" r="1.05" fill="#3a2c18"/>
<circle cx="748.3" cy="384.7" r="0.62" fill="#c8a870"/>
<circle cx="777.3" cy="413.2" r="0.85" fill="#eadcb0"/>
<circle cx="782.3" cy="387.3" r="1.38" fill="#5a4424"/>
<circle cx="771.7" cy="386.9" r="0.62" fill="#5a4424"/>
<circle cx="747.8" cy="401.8" r="1.22" fill="#2e2414"/>
<circle cx="770.5" cy="395.4" r="0.76" fill="#5a4424"/>
<circle cx="776.3" cy="383.0" r="0.69" fill="#5a4424"/>
<circle cx="752.3" cy="402.8" r="0.71" fill="#3a2c18"/>
<circle cx="776.8" cy="401.3" r="0.62" fill="#201a10"/>
<circle cx="768.4" cy="396.1" r="1.03" fill="#5a4424"/>
<circle cx="783.4" cy="387.9" r="1.16" fill="#a88850"/>
<circle cx="745.1" cy="411.8" r="1.17" fill="#201a10"/>
<circle cx="774.3" cy="388.8" r="1.35" fill="#d8c090"/>
<circle cx="780.1" cy="393.0" r="0.99" fill="#d8c090"/>
<circle cx="743.9" cy="375.4" r="1.28" fill="#2e2414"/>
<circle cx="772.6" cy="391.0" r="1.16" fill="#5a4424"/>
<circle cx="764.5" cy="392.3" r="0.84" fill="#5a4424"/>
<circle cx="761.0" cy="407.3" r="0.95" fill="#eadcb0"/>
<circle cx="760.5" cy="375.2" r="0.89" fill="#c8a870"/>
<circle cx="756.5" cy="397.1" r="0.78" fill="#eadcb0"/>
<circle cx="738.7" cy="382.8" r="0.71" fill="#a88850"/>
<circle cx="760.8" cy="382.2" r="0.62" fill="#d8c090"/>
<circle cx="766.8" cy="396.0" r="0.71" fill="#201a10"/>
<circle cx="767.9" cy="393.2" r="0.65" fill="#3a2c18"/>
<circle cx="739.7" cy="393.5" r="0.63" fill="#eadcb0"/>
<circle cx="773.0" cy="384.2" r="0.92" fill="#201a10"/>
<circle cx="739.9" cy="416.6" r="0.79" fill="#d8c090"/>
<circle cx="757.4" cy="382.0" r="1.10" fill="#a88850"/>
<circle cx="755.3" cy="379.0" r="1.25" fill="#201a10"/>
<circle cx="752.6" cy="417.3" r="1.23" fill="#5a4424"/>
<circle cx="785.0" cy="395.3" r="0.62" fill="#c8a870"/>
<circle cx="754.8" cy="417.8" r="0.67" fill="#a88850"/>
<circle cx="771.5" cy="416.7" r="0.68" fill="#201a10"/>
<circle cx="771.4" cy="374.4" r="0.99" fill="#201a10"/>
<circle cx="747.7" cy="396.2" r="0.76" fill="#a88850"/>
<circle cx="785.5" cy="394.8" r="1.33" fill="#5a4424"/>
<circle cx="783.9" cy="375.0" r="1.20" fill="#c8a870"/>
<circle cx="769.0" cy="391.1" r="0.75" fill="#c8a870"/>
<circle cx="758.5" cy="396.1" r="1.03" fill="#a88850"/>
<circle cx="776.1" cy="391.5" r="1.27" fill="#eadcb0"/>
<circle cx="765.3" cy="414.7" r="1.24" fill="#a88850"/>
<circle cx="759.7" cy="393.3" r="0.88" fill="#5a4424"/>
<circle cx="778.2" cy="396.1" r="1.36" fill="#eadcb0"/>
<circle cx="740.7" cy="381.2" r="1.26" fill="#201a10"/>
<circle cx="743.0" cy="404.4" r="0.86" fill="#2e2414"/>
<circle cx="767.6" cy="409.2" r="1.30" fill="#201a10"/>
<circle cx="780.6" cy="393.6" r="1.40" fill="#a88850"/>
<circle cx="738.7" cy="382.2" r="0.87" fill="#2e2414"/>
<circle cx="753.6" cy="393.6" r="0.79" fill="#d8c090"/>
<circle cx="741.0" cy="380.3" r="1.07" fill="#3a2c18"/>
<circle cx="739.2" cy="383.8" r="0.78" fill="#d8c090"/>
<circle cx="765.7" cy="392.2" r="1.23" fill="#a88850"/>
<circle cx="764.4" cy="381.9" r="1.10" fill="#3a2c18"/>
<circle cx="740.6" cy="409.5" r="1.29" fill="#201a10"/>
<circle cx="743.5" cy="415.6" r="0.67" fill="#c8a870"/>
<circle cx="761.0" cy="383.4" r="1.11" fill="#2e2414"/>
<circle cx="775.3" cy="412.4" r="0.92" fill="#a88850"/>
<circle cx="770.5" cy="408.2" r="1.27" fill="#c8a870"/>
<circle cx="767.2" cy="409.8" r="0.69" fill="#d8c090"/>
<circle cx="739.0" cy="386.8" r="0.87" fill="#2e2414"/>
<circle cx="747.9" cy="407.1" r="0.94" fill="#a88850"/>
<circle cx="769.9" cy="400.5" r="0.80" fill="#d8c090"/>
<circle cx="779.0" cy="376.3" r="0.94" fill="#d8c090"/>
<circle cx="742.7" cy="383.2" r="1.20" fill="#3a2c18"/>
<circle cx="748.6" cy="383.3" r="1.35" fill="#5a4424"/>
<circle cx="764.4" cy="392.2" r="1.32" fill="#d8c090"/>
<circle cx="784.4" cy="395.1" r="0.98" fill="#eadcb0"/>
<circle cx="766.9" cy="375.1" r="0.75" fill="#201a10"/>
<circle cx="743.2" cy="405.7" r="1.00" fill="#c8a870"/>
<circle cx="741.6" cy="394.6" r="1.20" fill="#d8c090"/>
<circle cx="751.9" cy="392.8" r="0.97" fill="#a88850"/>
<circle cx="748.1" cy="408.4" r="0.68" fill="#3a2c18"/>
<circle cx="753.0" cy="391.8" r="0.76" fill="#2e2414"/>
<circle cx="762.1" cy="409.6" r="1.38" fill="#c8a870"/>
<circle cx="785.8" cy="412.6" r="1.35" fill="#a88850"/>
<circle cx="759.4" cy="415.4" r="1.02" fill="#5a4424"/>
<circle cx="764.7" cy="389.5" r="0.83" fill="#c8a870"/>
<circle cx="760.9" cy="413.1" r="1.20" fill="#c8a870"/>
<circle cx="783.4" cy="396.7" r="0.71" fill="#201a10"/>
<circle cx="764.2" cy="397.4" r="1.36" fill="#3a2c18"/>
<circle cx="738.7" cy="417.4" r="0.88" fill="#5a4424"/>
<circle cx="785.1" cy="389.7" r="0.99" fill="#201a10"/>
<circle cx="750.1" cy="385.8" r="1.27" fill="#a88850"/>
<circle cx="767.7" cy="409.7" r="0.85" fill="#5a4424"/>
<circle cx="750.5" cy="409.3" r="1.18" fill="#eadcb0"/>
<circle cx="755.0" cy="374.8" r="1.10" fill="#201a10"/>
<circle cx="771.1" cy="414.2" r="1.36" fill="#d8c090"/>
<circle cx="774.4" cy="411.0" r="1.01" fill="#eadcb0"/>
<circle cx="778.7" cy="398.1" r="0.61" fill="#c8a870"/>
<circle cx="740.8" cy="395.2" r="1.32" fill="#201a10"/>
<circle cx="782.3" cy="394.3" r="0.90" fill="#eadcb0"/>
<circle cx="769.1" cy="386.6" r="1.15" fill="#2e2414"/>
<circle cx="786.4" cy="397.9" r="1.22" fill="#eadcb0"/>
<circle cx="760.0" cy="385.9" r="0.96" fill="#c8a870"/>
<circle cx="784.8" cy="380.4" r="0.71" fill="#a88850"/>
<circle cx="740.4" cy="395.2" r="1.26" fill="#d8c090"/>
<circle cx="783.5" cy="400.8" r="0.85" fill="#201a10"/>
<circle cx="767.4" cy="378.7" r="0.82" fill="#3a2c18"/>
<circle cx="772.8" cy="414.2" r="0.95" fill="#2e2414"/>
<circle cx="742.3" cy="375.0" r="1.32" fill="#5a4424"/>
<circle cx="784.9" cy="402.2" r="0.85" fill="#d8c090"/>
<circle cx="755.3" cy="402.7" r="0.85" fill="#eadcb0"/>
<circle cx="751.7" cy="415.9" r="0.85" fill="#a88850"/>
<circle cx="757.5" cy="386.1" r="0.93" fill="#3a2c18"/>
<circle cx="758.5" cy="413.6" r="0.78" fill="#5a4424"/>
<circle cx="748.2" cy="377.0" r="1.19" fill="#2e2414"/>
<circle cx="779.0" cy="401.6" r="1.35" fill="#201a10"/>
<circle cx="785.6" cy="404.4" r="0.81" fill="#eadcb0"/>
<circle cx="761.9" cy="385.4" r="0.74" fill="#201a10"/>
<circle cx="762.1" cy="381.0" r="1.32" fill="#3a2c18"/>
<circle cx="747.2" cy="417.8" r="1.12" fill="#eadcb0"/>
<circle cx="745.5" cy="375.9" r="0.85" fill="#3a2c18"/>
<circle cx="769.9" cy="379.3" r="0.64" fill="#3a2c18"/>
<circle cx="784.9" cy="397.3" r="1.22" fill="#eadcb0"/>
<circle cx="759.5" cy="381.6" r="0.82" fill="#201a10"/>
<circle cx="744.9" cy="380.0" r="0.91" fill="#3a2c18"/>
<circle cx="783.8" cy="400.4" r="0.61" fill="#d8c090"/>
<circle cx="756.5" cy="379.9" r="0.80" fill="#5a4424"/>
<circle cx="755.7" cy="415.9" r="0.68" fill="#5a4424"/>
<circle cx="779.4" cy="394.6" r="1.02" fill="#a88850"/>
<circle cx="779.8" cy="393.2" r="0.97" fill="#eadcb0"/>
<circle cx="764.5" cy="393.2" r="1.27" fill="#5a4424"/>
<circle cx="748.3" cy="400.0" r="0.84" fill="#3a2c18"/>
<circle cx="780.0" cy="416.3" r="0.81" fill="#a88850"/>
<circle cx="748.4" cy="375.9" r="0.93" fill="#201a10"/>
<circle cx="780.7" cy="378.6" r="0.73" fill="#201a10"/>
<circle cx="744.5" cy="391.5" r="1.02" fill="#a88850"/>
<circle cx="775.5" cy="377.6" r="0.86" fill="#5a4424"/>
<circle cx="767.1" cy="383.2" r="1.01" fill="#5a4424"/>
<circle cx="756.6" cy="387.7" r="1.16" fill="#a88850"/>
<circle cx="775.8" cy="405.8" r="1.29" fill="#a88850"/>
<circle cx="778.9" cy="386.3" r="0.82" fill="#c8a870"/>
<circle cx="744.5" cy="395.8" r="1.18" fill="#a88850"/>
<circle cx="750.6" cy="392.9" r="0.96" fill="#c8a870"/>
<circle cx="761.6" cy="397.2" r="1.39" fill="#3a2c18"/>
<circle cx="764.1" cy="393.2" r="0.66" fill="#201a10"/>
<circle cx="759.1" cy="411.3" r="0.65" fill="#c8a870"/>
<circle cx="779.8" cy="390.6" r="0.89" fill="#2e2414"/>
<circle cx="748.9" cy="398.0" r="0.94" fill="#2e2414"/>
<circle cx="780.4" cy="405.2" r="0.61" fill="#a88850"/>
<circle cx="756.5" cy="390.0" r="0.90" fill="#5a4424"/>
<circle cx="770.0" cy="412.5" r="0.72" fill="#5a4424"/>
<circle cx="749.2" cy="390.0" r="0.71" fill="#201a10"/>
<circle cx="742.5" cy="387.8" r="0.76" fill="#c8a870"/>
<circle cx="740.0" cy="406.2" r="1.03" fill="#a88850"/>
<circle cx="774.1" cy="410.4" r="0.95" fill="#d8c090"/>
<circle cx="771.5" cy="378.9" r="0.78" fill="#eadcb0"/>
<circle cx="745.3" cy="387.2" r="0.69" fill="#d8c090"/>
<circle cx="747.0" cy="412.9" r="0.62" fill="#eadcb0"/>
<circle cx="755.5" cy="373.8" r="0.98" fill="#3a2c18"/>
<circle cx="745.3" cy="382.6" r="1.07" fill="#eadcb0"/>
<circle cx="784.4" cy="386.8" r="0.68" fill="#c8a870"/>
<circle cx="785.8" cy="404.3" r="0.65" fill="#2e2414"/>
<circle cx="780.9" cy="406.8" r="0.65" fill="#a88850"/>
<circle cx="739.1" cy="394.9" r="1.11" fill="#eadcb0"/>
<circle cx="743.1" cy="402.9" r="1.31" fill="#eadcb0"/>
<circle cx="749.5" cy="387.9" r="1.37" fill="#eadcb0"/>
<circle cx="741.1" cy="396.6" r="1.06" fill="#d8c090"/>
<circle cx="742.7" cy="383.9" r="1.26" fill="#5a4424"/>
<circle cx="782.9" cy="391.2" r="1.39" fill="#a88850"/>
<circle cx="770.5" cy="397.1" r="1.06" fill="#d8c090"/>
<circle cx="755.1" cy="399.7" r="1.10" fill="#a88850"/>
<circle cx="755.7" cy="407.8" r="0.96" fill="#d8c090"/>
<circle cx="773.4" cy="411.8" r="0.99" fill="#d8c090"/>
<circle cx="779.8" cy="381.7" r="1.35" fill="#2e2414"/>
<circle cx="744.4" cy="414.2" r="1.27" fill="#eadcb0"/>
<circle cx="753.8" cy="407.2" r="1.00" fill="#a88850"/>
<circle cx="757.1" cy="411.5" r="0.79" fill="#201a10"/>
<circle cx="756.3" cy="383.5" r="0.80" fill="#c8a870"/>
<circle cx="751.3" cy="404.5" r="1.19" fill="#a88850"/>
<circle cx="748.6" cy="387.0" r="1.05" fill="#3a2c18"/>
<circle cx="750.4" cy="404.7" r="1.25" fill="#d8c090"/>
<circle cx="756.2" cy="383.9" r="1.08" fill="#eadcb0"/>
<circle cx="759.1" cy="381.4" r="0.95" fill="#c8a870"/>
<circle cx="741.3" cy="408.6" r="0.99" fill="#5a4424"/>
<circle cx="766.5" cy="385.5" r="1.15" fill="#eadcb0"/>
<circle cx="749.3" cy="410.0" r="0.88" fill="#5a4424"/>
<circle cx="786.6" cy="395.0" r="0.69" fill="#3a2c18"/>
<circle cx="758.8" cy="412.0" r="1.07" fill="#3a2c18"/>
<circle cx="743.8" cy="397.1" r="0.98" fill="#c8a870"/>
<circle cx="764.6" cy="412.0" r="0.90" fill="#5a4424"/>
<circle cx="740.6" cy="389.0" r="1.10" fill="#d8c090"/>
<circle cx="772.4" cy="417.0" r="1.07" fill="#c8a870"/>
<circle cx="771.3" cy="386.4" r="1.39" fill="#a88850"/>
<circle cx="778.9" cy="406.9" r="1.34" fill="#c8a870"/>
<circle cx="759.0" cy="398.4" r="0.94" fill="#a88850"/>
<circle cx="756.4" cy="381.6" r="1.16" fill="#c8a870"/>
<circle cx="765.7" cy="390.7" r="0.86" fill="#2e2414"/>
<circle cx="746.4" cy="414.3" r="0.74" fill="#5a4424"/>
<circle cx="757.6" cy="382.3" r="1.04" fill="#eadcb0"/>
<circle cx="756.2" cy="405.8" r="1.16" fill="#5a4424"/>
<circle cx="746.6" cy="403.2" r="0.68" fill="#2e2414"/>
<circle cx="764.5" cy="414.7" r="0.92" fill="#a88850"/>
<circle cx="741.8" cy="385.8" r="0.78" fill="#a88850"/>
<circle cx="751.2" cy="382.9" r="0.98" fill="#2e2414"/>
<circle cx="759.5" cy="385.2" r="0.81" fill="#3a2c18"/>
<circle cx="776.2" cy="415.7" r="0.80" fill="#d8c090"/>
<circle cx="751.1" cy="389.0" r="1.32" fill="#a88850"/>
<circle cx="743.4" cy="404.9" r="0.78" fill="#2e2414"/>
<circle cx="760.6" cy="417.0" r="1.26" fill="#a88850"/>
<circle cx="745.4" cy="375.4" r="0.82" fill="#5a4424"/>
<circle cx="763.1" cy="390.1" r="1.20" fill="#5a4424"/>
<circle cx="762.9" cy="404.2" r="1.38" fill="#eadcb0"/>
<circle cx="759.3" cy="386.7" r="1.07" fill="#c8a870"/>
<circle cx="757.3" cy="375.6" r="0.95" fill="#3a2c18"/>
<circle cx="738.7" cy="408.8" r="1.00" fill="#3a2c18"/>
<circle cx="784.5" cy="411.3" r="0.81" fill="#a88850"/>
<circle cx="768.9" cy="398.6" r="0.76" fill="#a88850"/>
<circle cx="746.2" cy="417.2" r="0.99" fill="#2e2414"/>
<circle cx="774.2" cy="380.2" r="1.13" fill="#a88850"/>
<circle cx="767.7" cy="380.7" r="0.67" fill="#3a2c18"/>
<circle cx="742.5" cy="403.9" r="0.61" fill="#2e2414"/>
<circle cx="742.6" cy="408.5" r="1.17" fill="#eadcb0"/>
<circle cx="765.2" cy="403.1" r="0.81" fill="#5a4424"/>
<circle cx="772.4" cy="373.6" r="1.15" fill="#c8a870"/>
<circle cx="758.6" cy="373.8" r="1.01" fill="#a88850"/>
<circle cx="754.4" cy="416.8" r="0.64" fill="#2e2414"/>
<circle cx="748.8" cy="374.0" r="1.35" fill="#5a4424"/>
<circle cx="773.4" cy="401.5" r="0.96" fill="#5a4424"/>
<circle cx="777.2" cy="388.9" r="0.73" fill="#d8c090"/>
<circle cx="757.5" cy="391.1" r="1.04" fill="#2e2414"/>
<circle cx="767.4" cy="386.4" r="0.92" fill="#201a10"/>
<circle cx="767.0" cy="383.5" r="1.06" fill="#5a4424"/>
<circle cx="751.4" cy="407.5" r="1.13" fill="#eadcb0"/>
<circle cx="774.1" cy="396.8" r="1.11" fill="#eadcb0"/>
<circle cx="777.2" cy="381.4" r="1.00" fill="#5a4424"/>
<circle cx="743.4" cy="414.8" r="0.95" fill="#3a2c18"/>
<circle cx="744.7" cy="418.1" r="0.78" fill="#3a2c18"/>
<circle cx="764.0" cy="386.7" r="1.00" fill="#2e2414"/>
<circle cx="761.7" cy="384.5" r="0.62" fill="#eadcb0"/>
<circle cx="739.7" cy="401.2" r="1.17" fill="#201a10"/>
<circle cx="780.5" cy="413.9" r="0.88" fill="#201a10"/>
<circle cx="752.9" cy="409.9" r="0.84" fill="#5a4424"/>
<circle cx="753.3" cy="379.4" r="0.92" fill="#2e2414"/>
<circle cx="769.9" cy="378.6" r="0.79" fill="#d8c090"/>
<circle cx="746.2" cy="391.0" r="1.10" fill="#3a2c18"/>
<circle cx="742.6" cy="403.6" r="1.00" fill="#201a10"/>
<circle cx="756.1" cy="395.8" r="0.94" fill="#2e2414"/>
<circle cx="772.9" cy="398.5" r="0.95" fill="#eadcb0"/>
<circle cx="755.2" cy="415.3" r="0.84" fill="#a88850"/>
<circle cx="774.2" cy="385.0" r="1.20" fill="#5a4424"/>
<circle cx="748.5" cy="377.8" r="1.19" fill="#c8a870"/>
<circle cx="784.7" cy="394.8" r="1.18" fill="#d8c090"/>
<circle cx="767.5" cy="403.1" r="1.09" fill="#201a10"/>
<circle cx="750.2" cy="381.6" r="1.12" fill="#2e2414"/>
<circle cx="782.6" cy="393.7" r="1.31" fill="#eadcb0"/>
<circle cx="765.8" cy="388.7" r="1.26" fill="#eadcb0"/>
<circle cx="756.2" cy="409.9" r="0.89" fill="#eadcb0"/>
<circle cx="773.6" cy="385.7" r="0.71" fill="#d8c090"/>
<circle cx="781.0" cy="407.6" r="1.11" fill="#201a10"/>
<circle cx="773.7" cy="378.1" r="0.98" fill="#eadcb0"/>
<circle cx="756.8" cy="395.9" r="1.09" fill="#eadcb0"/>
<circle cx="761.5" cy="376.1" r="1.33" fill="#3a2c18"/>
<circle cx="748.0" cy="413.2" r="1.38" fill="#2e2414"/>
<circle cx="745.2" cy="408.1" r="0.70" fill="#2e2414"/>
<circle cx="767.3" cy="415.7" r="1.04" fill="#c8a870"/>
<circle cx="744.8" cy="392.3" r="0.73" fill="#3a2c18"/>
<circle cx="771.9" cy="401.4" r="0.85" fill="#5a4424"/>
<circle cx="759.9" cy="414.9" r="1.04" fill="#c8a870"/>
<circle cx="767.1" cy="388.8" r="0.77" fill="#eadcb0"/>
<circle cx="744.4" cy="382.4" r="1.31" fill="#d8c090"/>
<circle cx="750.4" cy="383.4" r="0.78" fill="#a88850"/>
<circle cx="782.0" cy="388.4" r="1.22" fill="#c8a870"/>
<circle cx="778.8" cy="382.8" r="0.60" fill="#eadcb0"/>
<circle cx="769.7" cy="409.9" r="1.35" fill="#d8c090"/>
<circle cx="774.9" cy="410.1" r="1.23" fill="#2e2414"/>
<circle cx="755.2" cy="386.5" r="1.37" fill="#a88850"/>
<circle cx="782.2" cy="414.3" r="0.96" fill="#2e2414"/>
<circle cx="750.7" cy="397.3" r="0.81" fill="#eadcb0"/>
<circle cx="752.5" cy="415.7" r="0.96" fill="#d8c090"/>
<circle cx="748.4" cy="389.1" r="0.69" fill="#2e2414"/>
<circle cx="781.9" cy="391.3" r="1.24" fill="#a88850"/>
<circle cx="776.1" cy="384.1" r="1.09" fill="#2e2414"/>
<circle cx="744.5" cy="381.2" r="0.88" fill="#a88850"/>
<circle cx="746.8" cy="388.1" r="1.22" fill="#2e2414"/>
<circle cx="767.9" cy="376.5" r="1.04" fill="#a88850"/>
<circle cx="739.6" cy="393.2" r="1.40" fill="#5a4424"/>
<circle cx="746.7" cy="373.5" r="0.90" fill="#3a2c18"/>
<circle cx="779.8" cy="385.9" r="1.28" fill="#d8c090"/>
<circle cx="756.7" cy="389.6" r="1.19" fill="#a88850"/>
<circle cx="783.6" cy="388.2" r="1.03" fill="#5a4424"/>
<circle cx="739.1" cy="376.8" r="0.75" fill="#c8a870"/>
<circle cx="785.9" cy="378.6" r="0.74" fill="#3a2c18"/>
<circle cx="776.9" cy="385.1" r="0.89" fill="#2e2414"/>
<circle cx="738.8" cy="383.4" r="1.30" fill="#a88850"/>
<circle cx="785.8" cy="375.9" r="0.73" fill="#eadcb0"/>
<circle cx="769.5" cy="395.9" r="1.20" fill="#a88850"/>
<circle cx="777.0" cy="418.1" r="1.30" fill="#eadcb0"/>
<circle cx="765.0" cy="377.1" r="1.13" fill="#2e2414"/>
<circle cx="748.3" cy="378.2" r="1.13" fill="#2e2414"/>
<circle cx="740.0" cy="382.9" r="0.63" fill="#5a4424"/>
<g transform="translate(15,528) scale(1)" stroke-linecap="round" stroke-linejoin="round">
<path d="M13,21 C11,15 14,10 19,9.5 C23,9.5 25,12 24,16 C23,21 21,26 16,29 C12,29 11,25 13,21" fill="none" stroke="#50c8b4" stroke-width="1.2"/>
<path d="M5,25 C6,22 10,21 13,21.5 C17,22.5 19,25 20,27" fill="none" stroke="#40a8c8" stroke-width="1.2"/>
<path d="M5,32 C3,29 6,26 8,28 C10,30 8,32 6,31" fill="none" stroke="#2a70b8" stroke-width="2.2"/>
<path d="M5,29 C5,33 5,35.5 9.2,37.2 C11,38 13,39 14,40" fill="none" stroke="#3a90d0" stroke-width="1.3"/>
<path d="M14,31 C16,29 19,29 23,31 C24,32 26,31 27,31" fill="none" stroke="#c8b068" stroke-width="1.2"/>
<path d="M14,31 C15,34 13,36 9,37" fill="none" stroke="#c8b050" stroke-width="1.2"/>
<path d="M36,27.7 C38,25 40,22.6 41.5,22.6 C44,23 47,25 49.4,25.4 C51,26 51,31 52.2,31.4 C53,31 53,28 54,28.2 C55,29 55,31 55,32.3" fill="none" stroke="#d8a858" stroke-width="1.3"/>
<path d="M48.5,34.2 C52,33 55,32.5 58,32.5" fill="none" stroke="#4a5ae0" stroke-width="1.2"/>
<path d="M3,48.8 L8.3,39.1 L14,47 Z" fill="none" stroke="#d8b050" stroke-width="1.2"/>
<path d="M8,46 L11,42" fill="none" stroke="#e05020" stroke-width="1.2"/>
<path d="M10.6,48.3 C13,52 13.4,55.7 13.4,60 C13.4,64.5 15,67.3 18.5,67.3 C22,67 24,66 24,64" fill="none" stroke="#b8c850" stroke-width="1.3"/>
<path d="M11,52 L16.2,54.3 L17,59 L20,60.5 L21,64" fill="none" stroke="#b87840" stroke-width="1.2"/>
<path d="M30,61 C32,64 33.7,66.8 36,69.6 C39,70 42,68 41.6,67.3 C42,64 41,60 38,55" fill="none" stroke="#30b040" stroke-width="1.3"/>
<path d="M28,30 C27,22 26,12 25,6 C26,3 31,3 33,5 C35,9 35,13 34.6,17.1 C33,21 32,24 31.4,25.9" fill="none" stroke="#3cc030" stroke-width="1.6"/>
<path d="M27.7,29 L27,15" stroke="#30b030" stroke-width="3.2"/>
<path d="M16.5,12 L27,29" stroke="#0e7048" stroke-width="2.6"/>
<path d="M38,12 C38,8 43,8 45,11 C46,14 42,16 39,14 C38,14 36,16 34.6,17" fill="none" stroke="#1a9028" stroke-width="2.2"/>
<path d="M25.9,43.7 L23.6,64" stroke="#66c820" stroke-width="3.6"/>
<path d="M28.6,39.5 L31.4,60.3" stroke="#20c020" stroke-width="3.0"/>
<path d="M33.5,39 L38.8,55.3" stroke="#30e060" stroke-width="3.0"/>
<path d="M15.7,44.6 L40.2,33.1" stroke="#e88a10" stroke-width="4.2"/>
<path d="M19,44.5 L41,35.5" stroke="#f8c818" stroke-width="2.6"/>
<path d="M14,42 C18,42 22,42 24.9,41.9 C28,42 30,43 33.3,43.2 C38,43 42,41 46,40" fill="none" stroke="#c83c10" stroke-width="1.6"/>
<path d="M13.4,46.5 C17,46.5 20,46 21.7,46.5 C25,49 27,54 29.6,57.1 C31,58 33,59 35.1,58.5 C38,57 39,56 40.2,54.3 C42,50 43,47 43.9,44.2" fill="none" stroke="#2a70d0" stroke-width="1.5"/>
<path d="M18,47 L22,47.5" stroke="#1a60d0" stroke-width="2.6"/>
<circle cx="26.8" cy="57.1" r="1.6" fill="#c04810"/>
<circle cx="25.4" cy="63.6" r="1.5" fill="#d05010"/>
<path d="M32,33 L35,32" stroke="#30c8e0" stroke-width="1.6"/>
<path d="M40,38 C43,36 46,38 45,41 C44,44 41,44 40,42" fill="none" stroke="#40c8d8" stroke-width="1.4"/>
<path d="M22,36 C24,34 27,36 26,38" fill="none" stroke="#30b8c0" stroke-width="1.3"/>
<path d="M36,44 C38,48 40,52 43,53" fill="none" stroke="#c8d040" stroke-width="1.2"/>
<path d="M57.2,32.4 C53,33 49,33 48.4,35.4 C46,38 45,40 44.5,42 C43,45 42.4,48 40.6,54" fill="none" stroke="#4a6ae0" stroke-width="1.2"/>
<path d="M61,39 C58,41 55.7,43 55.7,45 C55.5,48 56,50 56.9,50.5 C59,53 62,54 63.5,54.1 C66,54 68,53 68,52.6 C68.5,51 68.5,49 68.3,48" fill="none" stroke="#5060e0" stroke-width="1.2"/>
<path d="M47.5,40 C50,40 52,42 51,44 C49,46 47,45 48,43 C50,41 53,45 52,48 C50,51 47,50 48,48 C50,46 53,50 52,53 C51,55 48,55 46,54" fill="none" stroke="#d87a58" stroke-width="1.4"/>
<path d="M67,30 C64,28 60,29.5 59,32.5 C58.5,36 61,38.5 65,40 C68,41.5 68.5,45 67,47 C65.5,49 61.5,49 60,47.5" fill="none" stroke="#0818d0" stroke-width="3.3"/>
<path d="M66,40 L70.5,36" stroke="#0818d0" stroke-width="3"/>
</g>
<g transform="translate(120.5,471) scale(0.345)" stroke-linecap="round" stroke-linejoin="round">
<path d="M13,21 C11,15 14,10 19,9.5 C23,9.5 25,12 24,16 C23,21 21,26 16,29 C12,29 11,25 13,21" fill="none" stroke="#50c8b4" stroke-width="1.2"/>
<path d="M5,25 C6,22 10,21 13,21.5 C17,22.5 19,25 20,27" fill="none" stroke="#40a8c8" stroke-width="1.2"/>
<path d="M5,32 C3,29 6,26 8,28 C10,30 8,32 6,31" fill="none" stroke="#2a70b8" stroke-width="2.2"/>
<path d="M5,29 C5,33 5,35.5 9.2,37.2 C11,38 13,39 14,40" fill="none" stroke="#3a90d0" stroke-width="1.3"/>
<path d="M14,31 C16,29 19,29 23,31 C24,32 26,31 27,31" fill="none" stroke="#c8b068" stroke-width="1.2"/>
<path d="M14,31 C15,34 13,36 9,37" fill="none" stroke="#c8b050" stroke-width="1.2"/>
<path d="M36,27.7 C38,25 40,22.6 41.5,22.6 C44,23 47,25 49.4,25.4 C51,26 51,31 52.2,31.4 C53,31 53,28 54,28.2 C55,29 55,31 55,32.3" fill="none" stroke="#d8a858" stroke-width="1.3"/>
<path d="M48.5,34.2 C52,33 55,32.5 58,32.5" fill="none" stroke="#4a5ae0" stroke-width="1.2"/>
<path d="M3,48.8 L8.3,39.1 L14,47 Z" fill="none" stroke="#d8b050" stroke-width="1.2"/>
<path d="M8,46 L11,42" fill="none" stroke="#e05020" stroke-width="1.2"/>
<path d="M10.6,48.3 C13,52 13.4,55.7 13.4,60 C13.4,64.5 15,67.3 18.5,67.3 C22,67 24,66 24,64" fill="none" stroke="#b8c850" stroke-width="1.3"/>
<path d="M11,52 L16.2,54.3 L17,59 L20,60.5 L21,64" fill="none" stroke="#b87840" stroke-width="1.2"/>
<path d="M30,61 C32,64 33.7,66.8 36,69.6 C39,70 42,68 41.6,67.3 C42,64 41,60 38,55" fill="none" stroke="#30b040" stroke-width="1.3"/>
<path d="M28,30 C27,22 26,12 25,6 C26,3 31,3 33,5 C35,9 35,13 34.6,17.1 C33,21 32,24 31.4,25.9" fill="none" stroke="#3cc030" stroke-width="1.6"/>
<path d="M27.7,29 L27,15" stroke="#30b030" stroke-width="3.2"/>
<path d="M16.5,12 L27,29" stroke="#0e7048" stroke-width="2.6"/>
<path d="M38,12 C38,8 43,8 45,11 C46,14 42,16 39,14 C38,14 36,16 34.6,17" fill="none" stroke="#1a9028" stroke-width="2.2"/>
<path d="M25.9,43.7 L23.6,64" stroke="#66c820" stroke-width="3.6"/>
<path d="M28.6,39.5 L31.4,60.3" stroke="#20c020" stroke-width="3.0"/>
<path d="M33.5,39 L38.8,55.3" stroke="#30e060" stroke-width="3.0"/>
<path d="M15.7,44.6 L40.2,33.1" stroke="#e88a10" stroke-width="4.2"/>
<path d="M19,44.5 L41,35.5" stroke="#f8c818" stroke-width="2.6"/>
<path d="M14,42 C18,42 22,42 24.9,41.9 C28,42 30,43 33.3,43.2 C38,43 42,41 46,40" fill="none" stroke="#c83c10" stroke-width="1.6"/>
<path d="M13.4,46.5 C17,46.5 20,46 21.7,46.5 C25,49 27,54 29.6,57.1 C31,58 33,59 35.1,58.5 C38,57 39,56 40.2,54.3 C42,50 43,47 43.9,44.2" fill="none" stroke="#2a70d0" stroke-width="1.5"/>
<path d="M18,47 L22,47.5" stroke="#1a60d0" stroke-width="2.6"/>
<circle cx="26.8" cy="57.1" r="1.6" fill="#c04810"/>
<circle cx="25.4" cy="63.6" r="1.5" fill="#d05010"/>
<path d="M32,33 L35,32" stroke="#30c8e0" stroke-width="1.6"/>
<path d="M40,38 C43,36 46,38 45,41 C44,44 41,44 40,42" fill="none" stroke="#40c8d8" stroke-width="1.4"/>
<path d="M22,36 C24,34 27,36 26,38" fill="none" stroke="#30b8c0" stroke-width="1.3"/>
<path d="M36,44 C38,48 40,52 43,53" fill="none" stroke="#c8d040" stroke-width="1.2"/>
<path d="M57.2,32.4 C53,33 49,33 48.4,35.4 C46,38 45,40 44.5,42 C43,45 42.4,48 40.6,54" fill="none" stroke="#4a6ae0" stroke-width="1.2"/>
<path d="M61,39 C58,41 55.7,43 55.7,45 C55.5,48 56,50 56.9,50.5 C59,53 62,54 63.5,54.1 C66,54 68,53 68,52.6 C68.5,51 68.5,49 68.3,48" fill="none" stroke="#5060e0" stroke-width="1.2"/>
<path d="M47.5,40 C50,40 52,42 51,44 C49,46 47,45 48,43 C50,41 53,45 52,48 C50,51 47,50 48,48 C50,46 53,50 52,53 C51,55 48,55 46,54" fill="none" stroke="#d87a58" stroke-width="1.4"/>
<path d="M67,30 C64,28 60,29.5 59,32.5 C58.5,36 61,38.5 65,40 C68,41.5 68.5,45 67,47 C65.5,49 61.5,49 60,47.5" fill="none" stroke="#0818d0" stroke-width="3.3"/>
<path d="M66,40 L70.5,36" stroke="#0818d0" stroke-width="3"/>
</g>
<g transform="translate(179,470) scale(0.345)" stroke-linecap="round" stroke-linejoin="round">
<path d="M13,21 C11,15 14,10 19,9.5 C23,9.5 25,12 24,16 C23,21 21,26 16,29 C12,29 11,25 13,21" fill="none" stroke="#50c8b4" stroke-width="1.2"/>
<path d="M5,25 C6,22 10,21 13,21.5 C17,22.5 19,25 20,27" fill="none" stroke="#40a8c8" stroke-width="1.2"/>
<path d="M5,32 C3,29 6,26 8,28 C10,30 8,32 6,31" fill="none" stroke="#2a70b8" stroke-width="2.2"/>
<path d="M5,29 C5,33 5,35.5 9.2,37.2 C11,38 13,39 14,40" fill="none" stroke="#3a90d0" stroke-width="1.3"/>
<path d="M14,31 C16,29 19,29 23,31 C24,32 26,31 27,31" fill="none" stroke="#c8b068" stroke-width="1.2"/>
<path d="M14,31 C15,34 13,36 9,37" fill="none" stroke="#c8b050" stroke-width="1.2"/>
<path d="M36,27.7 C38,25 40,22.6 41.5,22.6 C44,23 47,25 49.4,25.4 C51,26 51,31 52.2,31.4 C53,31 53,28 54,28.2 C55,29 55,31 55,32.3" fill="none" stroke="#d8a858" stroke-width="1.3"/>
<path d="M48.5,34.2 C52,33 55,32.5 58,32.5" fill="none" stroke="#4a5ae0" stroke-width="1.2"/>
<path d="M3,48.8 L8.3,39.1 L14,47 Z" fill="none" stroke="#d8b050" stroke-width="1.2"/>
<path d="M8,46 L11,42" fill="none" stroke="#e05020" stroke-width="1.2"/>
<path d="M10.6,48.3 C13,52 13.4,55.7 13.4,60 C13.4,64.5 15,67.3 18.5,67.3 C22,67 24,66 24,64" fill="none" stroke="#b8c850" stroke-width="1.3"/>
<path d="M11,52 L16.2,54.3 L17,59 L20,60.5 L21,64" fill="none" stroke="#b87840" stroke-width="1.2"/>
<path d="M30,61 C32,64 33.7,66.8 36,69.6 C39,70 42,68 41.6,67.3 C42,64 41,60 38,55" fill="none" stroke="#30b040" stroke-width="1.3"/>
<path d="M28,30 C27,22 26,12 25,6 C26,3 31,3 33,5 C35,9 35,13 34.6,17.1 C33,21 32,24 31.4,25.9" fill="none" stroke="#3cc030" stroke-width="1.6"/>
<path d="M27.7,29 L27,15" stroke="#30b030" stroke-width="3.2"/>
<path d="M16.5,12 L27,29" stroke="#0e7048" stroke-width="2.6"/>
<path d="M38,12 C38,8 43,8 45,11 C46,14 42,16 39,14 C38,14 36,16 34.6,17" fill="none" stroke="#1a9028" stroke-width="2.2"/>
<path d="M25.9,43.7 L23.6,64" stroke="#66c820" stroke-width="3.6"/>
<path d="M28.6,39.5 L31.4,60.3" stroke="#20c020" stroke-width="3.0"/>
<path d="M33.5,39 L38.8,55.3" stroke="#30e060" stroke-width="3.0"/>
<path d="M15.7,44.6 L40.2,33.1" stroke="#e88a10" stroke-width="4.2"/>
<path d="M19,44.5 L41,35.5" stroke="#f8c818" stroke-width="2.6"/>
<path d="M14,42 C18,42 22,42 24.9,41.9 C28,42 30,43 33.3,43.2 C38,43 42,41 46,40" fill="none" stroke="#c83c10" stroke-width="1.6"/>
<path d="M13.4,46.5 C17,46.5 20,46 21.7,46.5 C25,49 27,54 29.6,57.1 C31,58 33,59 35.1,58.5 C38,57 39,56 40.2,54.3 C42,50 43,47 43.9,44.2" fill="none" stroke="#2a70d0" stroke-width="1.5"/>
<path d="M18,47 L22,47.5" stroke="#1a60d0" stroke-width="2.6"/>
<circle cx="26.8" cy="57.1" r="1.6" fill="#c04810"/>
<circle cx="25.4" cy="63.6" r="1.5" fill="#d05010"/>
<path d="M32,33 L35,32" stroke="#30c8e0" stroke-width="1.6"/>
<path d="M40,38 C43,36 46,38 45,41 C44,44 41,44 40,42" fill="none" stroke="#40c8d8" stroke-width="1.4"/>
<path d="M22,36 C24,34 27,36 26,38" fill="none" stroke="#30b8c0" stroke-width="1.3"/>
<path d="M36,44 C38,48 40,52 43,53" fill="none" stroke="#c8d040" stroke-width="1.2"/>
<path d="M57.2,32.4 C53,33 49,33 48.4,35.4 C46,38 45,40 44.5,42 C43,45 42.4,48 40.6,54" fill="none" stroke="#4a6ae0" stroke-width="1.2"/>
<path d="M61,39 C58,41 55.7,43 55.7,45 C55.5,48 56,50 56.9,50.5 C59,53 62,54 63.5,54.1 C66,54 68,53 68,52.6 C68.5,51 68.5,49 68.3,48" fill="none" stroke="#5060e0" stroke-width="1.2"/>
<path d="M47.5,40 C50,40 52,42 51,44 C49,46 47,45 48,43 C50,41 53,45 52,48 C50,51 47,50 48,48 C50,46 53,50 52,53 C51,55 48,55 46,54" fill="none" stroke="#d87a58" stroke-width="1.4"/>
<path d="M67,30 C64,28 60,29.5 59,32.5 C58.5,36 61,38.5 65,40 C68,41.5 68.5,45 67,47 C65.5,49 61.5,49 60,47.5" fill="none" stroke="#0818d0" stroke-width="3.3"/>
<path d="M66,40 L70.5,36" stroke="#0818d0" stroke-width="3"/>
</g>
<rect x="721.3" y="475.8" width="122.7" height="81.4" rx="10" fill="#fde49b"/>
<text stroke="#111" stroke-width="3.5" font-size="200" font-style="italic" font-weight="normal" transform="matrix(0.12339 0 0 0.10373 504.24 265.69)">C</text>
<text stroke="#111" stroke-width="3.5" font-size="200" font-style="italic" font-weight="normal" transform="matrix(0.12846 0 0 0.10373 519.02 265.69)">O</text>
<text stroke="#111" stroke-width="3.5" font-size="200" font-style="normal" font-weight="normal" transform="matrix(0.10750 0 0 0.07045 536.83 268.60)">2</text>
<text stroke="#111" stroke-width="2" font-size="200" font-style="normal" font-weight="normal" transform="matrix(0.16344 0 0 0.16413 552.17 270.88)">+</text>
<text stroke="#111" stroke-width="3.5" font-size="200" font-style="italic" font-weight="normal" transform="matrix(0.11419 0 0 0.10305 575.73 265.70)">H</text>
<text stroke="#111" stroke-width="3.5" font-size="200" font-style="normal" font-weight="normal" transform="matrix(0.09750 0 0 0.07045 592.52 268.60)">2</text>
<text stroke="#111" stroke-width="3.5" font-size="200" font-style="italic" font-weight="normal" transform="matrix(0.13000 0 0 0.10373 601.50 265.69)">O</text>
<text stroke="#111" stroke-width="3.5" font-size="200" font-style="italic" font-weight="normal" transform="matrix(0.07551 0 0 0.05672 626.07 249.89)">CA</text>
<text stroke="#111" stroke-width="2" font-size="200" font-style="normal" font-weight="normal" transform="matrix(0.16949 0 0 0.15319 620.05 265.13)">→</text>
<text stroke="#111" stroke-width="3.5" font-size="200" font-style="italic" font-weight="normal" transform="matrix(0.13419 0 0 0.10305 655.57 265.70)">H</text>
<text stroke="#111" stroke-width="3.5" font-size="200" font-style="italic" font-weight="normal" transform="matrix(0.13387 0 0 0.10373 673.33 265.69)">C</text>
<text stroke="#111" stroke-width="3.5" font-size="200" font-style="italic" font-weight="normal" transform="matrix(0.12846 0 0 0.10373 690.32 265.69)">O</text>
<text stroke="#111" stroke-width="3.5" font-size="200" font-style="normal" font-weight="normal" transform="matrix(0.09756 0 0 0.08433 707.32 271.13)">3</text>
<text stroke="#111" stroke-width="2" font-size="200" font-style="normal" font-weight="normal" transform="matrix(0.10108 0 0 0.14000 709.89 260.94)">−</text>
<text stroke="#111" stroke-width="2" font-size="200" font-style="normal" font-weight="normal" transform="matrix(0.16344 0 0 0.16413 727.57 270.88)">+</text>
<text stroke="#111" stroke-width="3.5" font-size="200" font-style="italic" font-weight="normal" transform="matrix(0.12968 0 0 0.10305 751.06 265.70)">H</text>
<text stroke="#111" stroke-width="2" font-size="200" font-style="normal" font-weight="normal" transform="matrix(0.12366 0 0 0.11087 770.26 262.02)">+</text>
<text stroke="#111" stroke-width="3.5" font-size="200" font-style="italic" font-weight="normal" transform="matrix(0.12984 0 0 0.10970 504.17 297.68)">C</text>
<text stroke="#111" stroke-width="3.5" font-size="200" font-style="italic" font-weight="normal" transform="matrix(0.11860 0 0 0.10208 521.19 297.70)">a</text>
<text stroke="#111" stroke-width="3.5" font-size="200" font-style="normal" font-weight="normal" transform="matrix(0.08125 0 0 0.07045 532.97 288.90)">2</text>
<text stroke="#111" stroke-width="2" font-size="200" font-style="normal" font-weight="normal" transform="matrix(0.11613 0 0 0.09674 541.44 292.03)">+</text>
<text stroke="#111" stroke-width="2" font-size="200" font-style="normal" font-weight="normal" transform="matrix(0.15161 0 0 0.15326 560.28 302.37)">+</text>
<text stroke="#111" stroke-width="3.5" font-size="200" font-style="italic" font-weight="normal" transform="matrix(0.12452 0 0 0.10763 582.95 297.70)">H</text>
<text stroke="#111" stroke-width="3.5" font-size="200" font-style="italic" font-weight="normal" transform="matrix(0.12823 0 0 0.10970 599.99 297.68)">C</text>
<text stroke="#111" stroke-width="3.5" font-size="200" font-style="italic" font-weight="normal" transform="matrix(0.12769 0 0 0.10970 616.22 297.68)">O</text>
<text stroke="#111" stroke-width="3.5" font-size="200" font-style="normal" font-weight="normal" transform="matrix(0.09878 0 0 0.08433 633.11 303.13)">3</text>
<text stroke="#111" stroke-width="2" font-size="200" font-style="normal" font-weight="normal" transform="matrix(0.10215 0 0 0.14000 635.68 292.94)">−</text>
<text stroke="#111" stroke-width="2" font-size="200" font-style="normal" font-weight="normal" transform="matrix(0.16102 0 0 0.15319 650.50 297.13)">→</text>
<text stroke="#111" stroke-width="3.5" font-size="200" font-style="italic" font-weight="normal" transform="matrix(0.13710 0 0 0.11119 681.69 297.88)">C</text>
<text stroke="#111" stroke-width="3.5" font-size="200" font-style="italic" font-weight="normal" transform="matrix(0.12442 0 0 0.10104 699.65 297.90)">a</text>
<text stroke="#111" stroke-width="3.5" font-size="200" font-style="italic" font-weight="normal" transform="matrix(0.13548 0 0 0.11119 709.01 297.88)">C</text>
<text stroke="#111" stroke-width="3.5" font-size="200" font-style="italic" font-weight="normal" transform="matrix(0.13000 0 0 0.11119 726.20 297.88)">O</text>
<text stroke="#111" stroke-width="3.5" font-size="200" font-style="normal" font-weight="normal" transform="matrix(0.09756 0 0 0.07537 743.42 300.95)">3</text>
<text stroke="#111" stroke-width="2" font-size="200" font-style="normal" font-weight="normal" transform="matrix(0.21739 0 0 0.13644 753.63 300.28)">↓</text>
<text stroke="#111" stroke-width="2" font-size="200" font-style="normal" font-weight="normal" transform="matrix(0.16237 0 0 0.15761 774.88 302.65)">+</text>
<text stroke="#111" stroke-width="3.5" font-size="200" font-style="italic" font-weight="normal" transform="matrix(0.13613 0 0 0.11069 793.87 298.10)">H</text>
<text stroke="#111" stroke-width="2" font-size="200" font-style="normal" font-weight="normal" transform="matrix(0.10215 0 0 0.10978 813.18 294.30)">+</text>
<text stroke="#111" stroke-width="3.5" font-size="200" font-style="normal" font-weight="normal" transform="matrix(0.10611 0 0 0.10821 209.15 336.48)">CO</text>
<text stroke="#111" stroke-width="3.5" font-size="200" font-style="normal" font-weight="normal" transform="matrix(0.07000 0 0 0.06970 238.37 339.50)">2</text>
<text stroke="#111" stroke-width="3.5" font-size="200" font-style="normal" font-weight="normal" transform="matrix(0.10420 0 0 0.10821 893.97 597.28)">CO</text>
<text stroke="#111" stroke-width="3.5" font-size="200" font-style="normal" font-weight="normal" transform="matrix(0.07000 0 0 0.06212 922.97 600.80)">2</text>
<text stroke="#111" stroke-width="3.5" font-size="200" font-style="normal" font-weight="normal" transform="matrix(0.10344 0 0 0.10448 232.17 649.79)">CO</text>
<text stroke="#111" stroke-width="3.5" font-size="200" font-style="normal" font-weight="normal" transform="matrix(0.07625 0 0 0.06667 260.91 653.60)">2</text>
<text font-size="200" font-style="normal" font-weight="bold" transform="matrix(0.18156 0 0 0.17634 353.14 208.28)">A</text>
<text font-size="200" font-style="normal" font-weight="bold" transform="matrix(0.19142 0 0 0.16970 392.93 208.06)">New</text>
<text font-size="200" font-style="normal" font-weight="bold" transform="matrix(0.18568 0 0 0.15989 477.64 207.66)">Paradigm</text>
<text font-size="200" font-style="normal" font-weight="bold" transform="matrix(0.14681 0 0 0.12901 107.96 265.70)">Rapid</text>
<text stroke="#111" stroke-width="3" font-size="200" font-style="normal" font-weight="normal" transform="matrix(0.14289 0 0 0.12901 193.26 265.70)">crystal precipitation</text>
<text stroke="#111" stroke-width="3" font-size="200" font-style="normal" font-weight="normal" transform="matrix(0.13669 0 0 0.12901 108.60 297.20)">by enzymes</text>
<text stroke="#111" stroke-width="1.5" font-size="200" font-style="normal" font-weight="normal" transform="matrix(0.10312 0 0 0.09466 56.28 347.00)">Enzyme</text>
<text stroke="#111" stroke-width="1.5" font-size="200" font-style="normal" font-weight="normal" transform="matrix(0.10694 0 0 0.09466 47.65 369.00)">activation</text>
<text stroke="#111" stroke-width="1.5" font-size="200" font-style="normal" font-weight="normal" transform="matrix(0.10600 0 0 0.09466 181.46 358.60)">absorption</text>
<text stroke="#111" stroke-width="1.5" font-size="200" font-style="normal" font-weight="normal" transform="matrix(0.10284 0 0 0.09389 340.48 348.50)">Polymer</text>
<text stroke="#111" stroke-width="1.5" font-size="200" font-style="normal" font-weight="normal" transform="matrix(0.10011 0 0 0.09389 330.90 371.10)">scaffolding</text>
<text stroke="#111" stroke-width="1.5" font-size="200" font-style="normal" font-weight="normal" transform="matrix(0.10464 0 0 0.09618 465.17 474.10)">Dehydration</text>
<text stroke="#111" stroke-width="1.5" font-size="200" font-style="normal" font-weight="normal" transform="matrix(0.11036 0 0 0.09847 568.97 387.60)">Structural</text>
<text stroke="#111" stroke-width="1.5" font-size="200" font-style="normal" font-weight="normal" transform="matrix(0.10464 0 0 0.09618 569.77 409.80)">Material</text>
<text stroke="#111" stroke-width="1.5" font-size="200" font-style="normal" font-weight="normal" transform="matrix(0.11011 0 0 0.09466 866.64 371.50)">Fracture</text>
<text stroke="#111" stroke-width="1.5" font-size="200" font-style="normal" font-weight="normal" transform="matrix(0.10366 0 0 0.09466 867.30 393.50)">by loading</text>
<text stroke="#111" stroke-width="1.5" font-size="200" font-style="normal" font-weight="normal" transform="matrix(0.09978 0 0 0.09695 569.20 616.40)">Self-healed</text>
<text stroke="#111" stroke-width="1.5" font-size="200" font-style="normal" font-weight="normal" transform="matrix(0.10339 0 0 0.09466 893.37 619.20)">exposure</text>
<text stroke="#111" stroke-width="1.5" font-size="200" font-style="normal" font-weight="normal" transform="matrix(0.10473 0 0 0.09618 14.86 636.50)">Carbonic</text>
<text stroke="#111" stroke-width="1.5" font-size="200" font-style="normal" font-weight="normal" transform="matrix(0.10627 0 0 0.09618 10.36 659.40)">anhydrase</text>
<text stroke="#111" stroke-width="1.5" font-size="200" font-style="normal" font-weight="normal" transform="matrix(0.10214 0 0 0.09618 21.48 682.90)">enzyme</text>
<text stroke="#111" stroke-width="1.5" font-size="200" font-style="normal" font-weight="normal" transform="matrix(0.10360 0 0 0.09847 232.07 614.40)">Calcium ion</text>
<text stroke="#111" stroke-width="1.5" font-size="200" font-style="normal" font-weight="normal" transform="matrix(0.10416 0 0 0.09924 232.45 686.60)">Sand</text>
<text stroke="#111" stroke-width="1.5" font-size="200" font-style="normal" font-weight="normal" transform="matrix(0.10141 0 0 0.09771 233.58 734.00)">Scaffolding polymer</text>
<text stroke="#111" stroke-width="1.5" font-size="200" font-style="normal" font-weight="bold" transform="matrix(0.11262 0 0 0.10000 731.46 500.70)">Enzymatic</text>
<text stroke="#111" stroke-width="1.5" font-size="200" font-style="normal" font-weight="bold" transform="matrix(0.11042 0 0 0.09847 745.77 523.00)">Healing</text>
<text stroke="#111" stroke-width="1.5" font-size="200" font-style="normal" font-weight="bold" transform="matrix(0.11370 0 0 0.09847 751.06 546.30)">Cycles</text>
</svg>
<div class="ca" style="left:140.6px;top:471.0px;width:9.6px;height:9.6px"></div>
<div class="ca" style="left:152.6px;top:475.2px;width:9.6px;height:9.6px"></div>
<div class="ca" style="left:153.8px;top:487.2px;width:9.6px;height:9.6px"></div>
<div class="ca" style="left:193.8px;top:595.1px;width:20.4px;height:20.4px"></div>
</body></html>
